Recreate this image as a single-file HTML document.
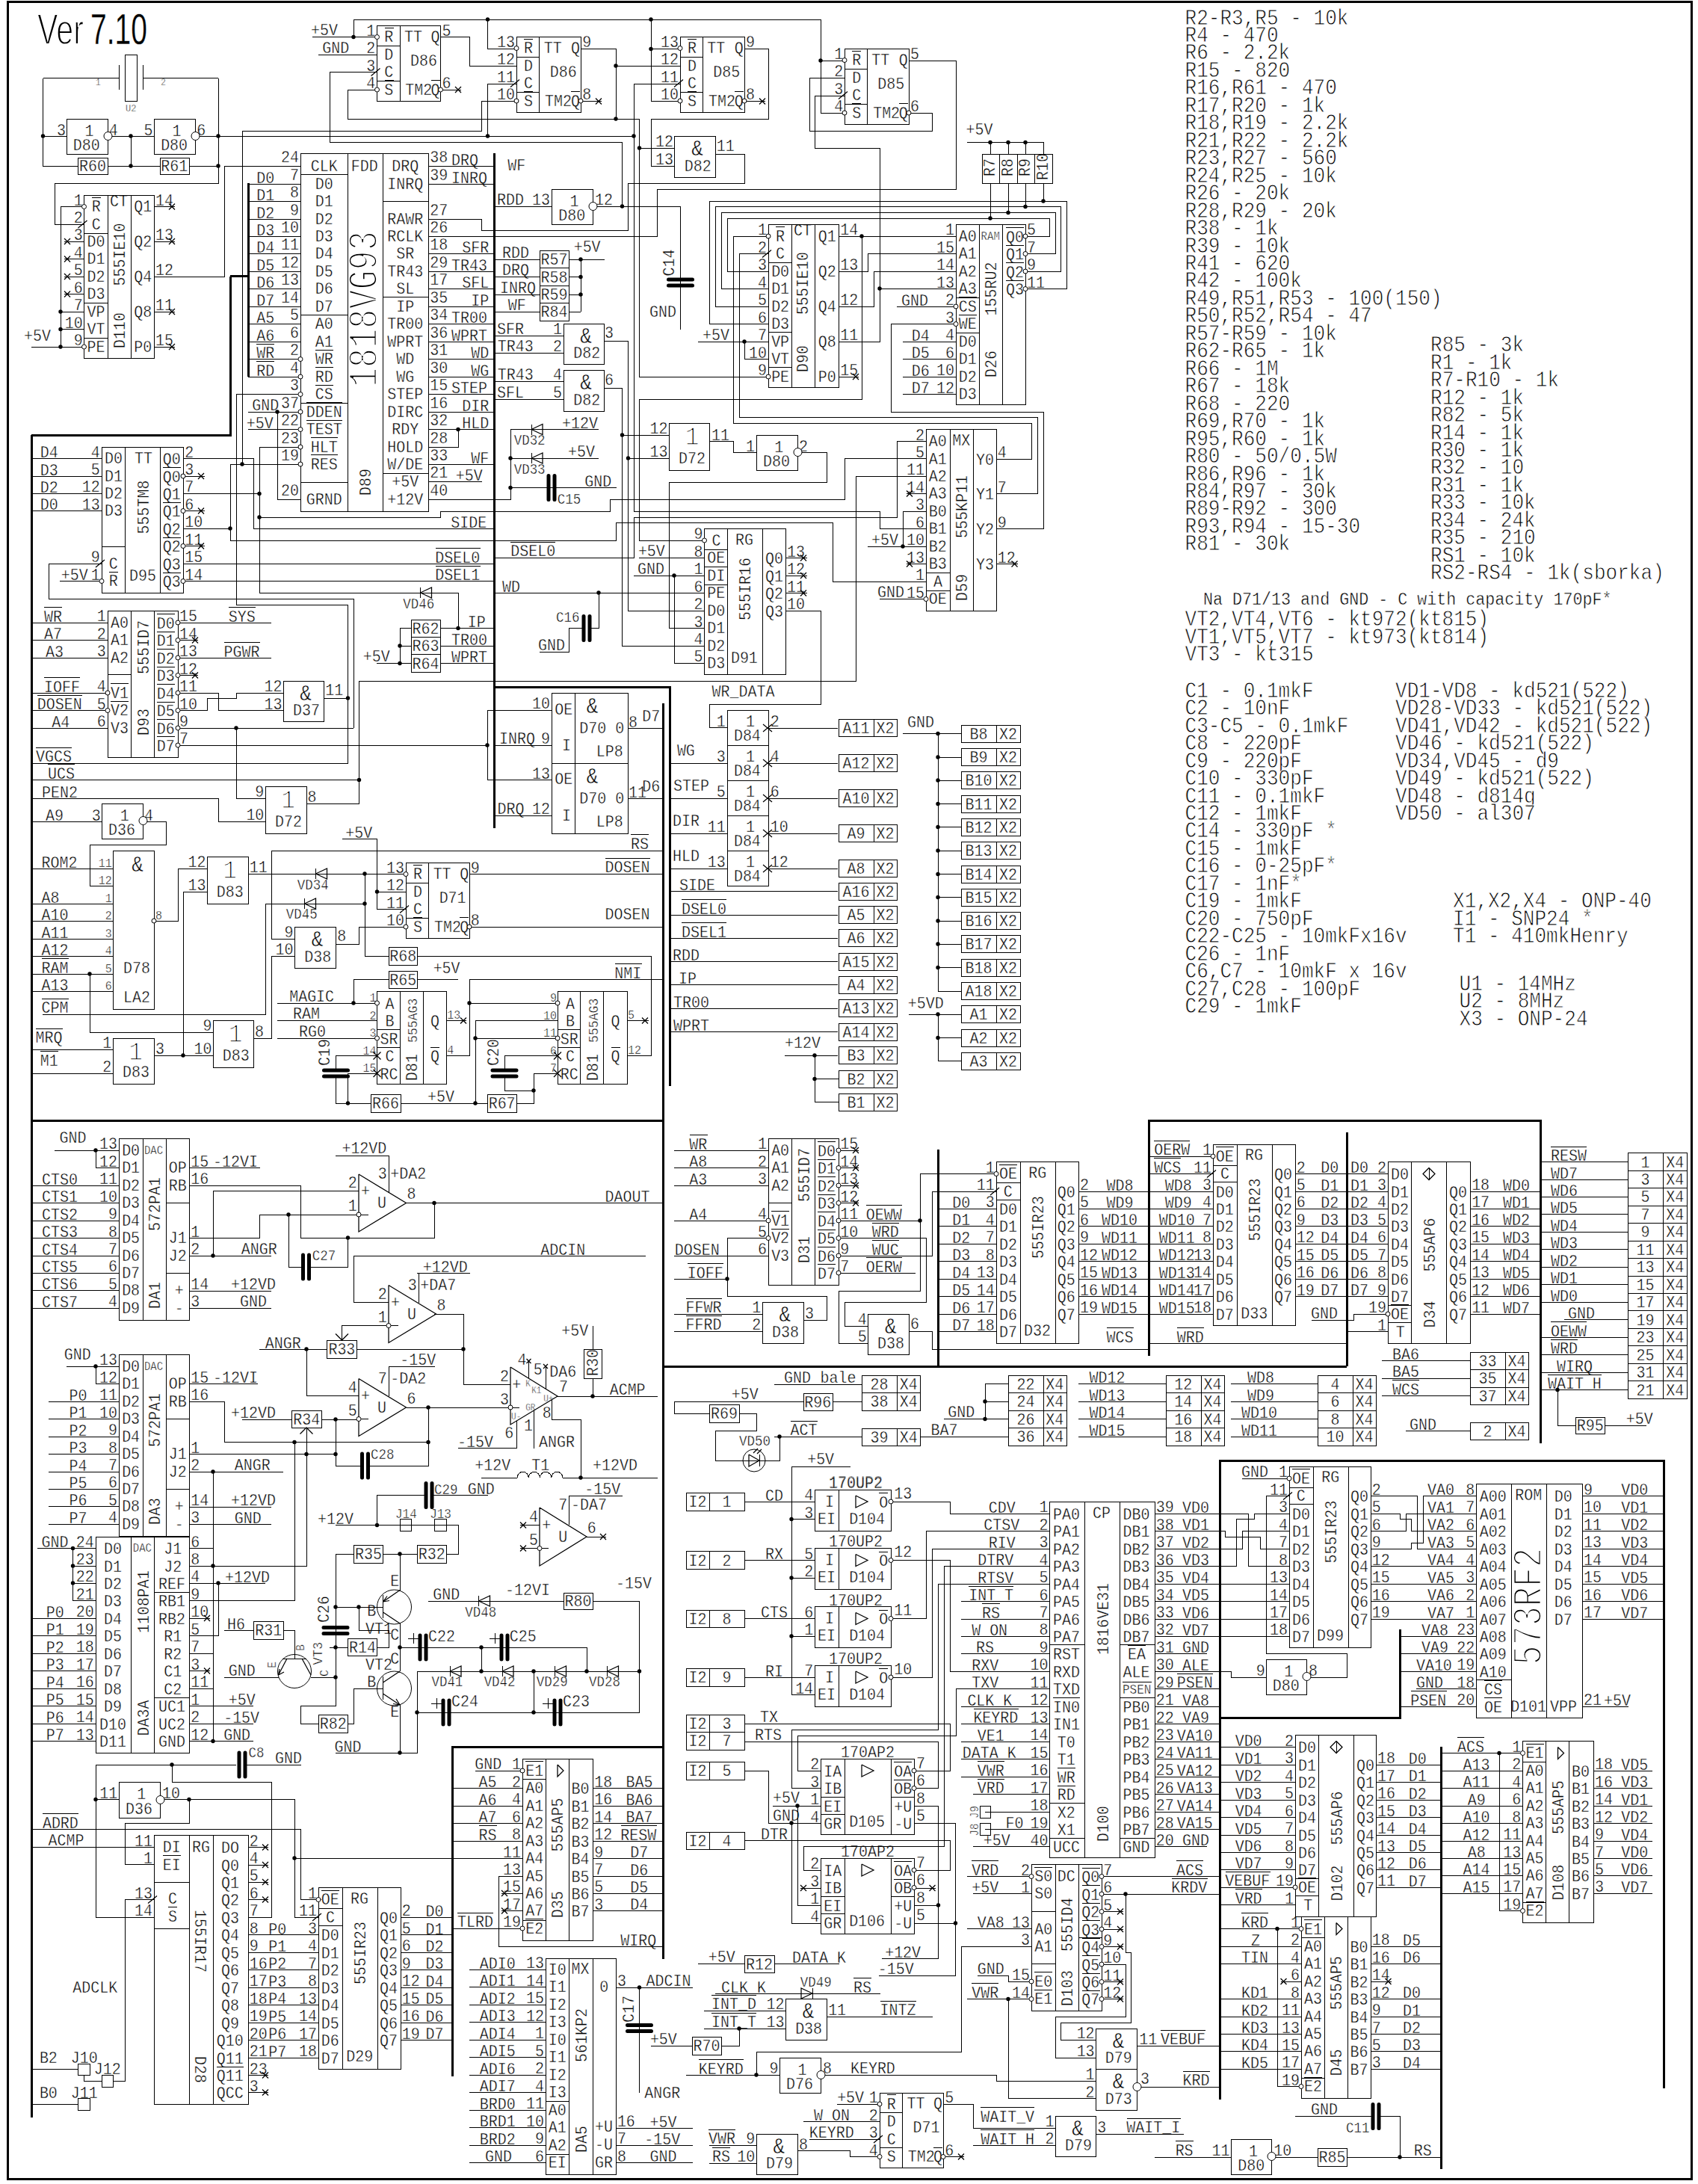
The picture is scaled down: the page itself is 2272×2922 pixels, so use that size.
<!DOCTYPE html><html><head><meta charset="utf-8"><title>Schematic Ver 7.10</title>
<style>html,body{margin:0;padding:0;background:#fff}svg{display:block}svg{font-family:"Liberation Mono",monospace;font-size:22.5px;fill:#000;white-space:pre}.n{fill:none;stroke:#000;stroke-width:1;shape-rendering:crispEdges}.m{fill:none;stroke:#000;stroke-width:2;shape-rendering:crispEdges}.k{fill:none;stroke:#000;stroke-width:3;shape-rendering:crispEdges}.c{fill:none;stroke:#000;stroke-width:5;stroke-linecap:round}.d{fill:none;stroke:#000;stroke-width:1.25}circle{fill:#000}circle.b{fill:#fff;stroke:#000;stroke-width:1}</style></head><body>
<svg xml:space="preserve" width="2272" height="2922" viewBox="0 0 2272 2922">
<rect width="2272" height="2922" fill="#fff"/>
<g transform="scale(0.889,1)" stroke="#fff" stroke-width="0.45">
<text x="144" y="114" font-size="12.375">1</text>
<text x="242" y="114" font-size="12.375">2</text>
<text x="189" y="149" font-size="13.5">U2</text>
<text x="134.5" y="182" text-anchor="middle">1</text>
<text x="110" y="201">D80</text>
<text x="99" y="181" text-anchor="end">3</text>
<text x="164" y="181">4</text>
<text x="266" y="182" text-anchor="middle">1</text>
<text x="242" y="201">D80</text>
<text x="230" y="181" text-anchor="end">5</text>
<text x="296" y="181">6</text>
<text x="139.5" y="229.5" text-anchor="middle">R60</text>
<text x="262.5" y="229.5" text-anchor="middle">R61</text>
<text x="124.5" y="275" text-anchor="end">1</text>
<text x="138" y="283.5">R</text>
<text x="124.5" y="298.5" text-anchor="end">2</text>
<text x="138" y="307">C</text>
<text x="124.5" y="321.5" text-anchor="end">3</text>
<text x="131" y="330">D0</text>
<text x="124.5" y="345" text-anchor="end">4</text>
<text x="131" y="353.5">D1</text>
<text x="124.5" y="368.5" text-anchor="end">5</text>
<text x="131" y="377">D2</text>
<text x="124.5" y="392" text-anchor="end">6</text>
<text x="131" y="400.5">D3</text>
<text x="124.5" y="415.5" text-anchor="end">7</text>
<text x="131" y="424">VP</text>
<text x="124.5" y="439" text-anchor="end">10</text>
<text x="131" y="447.5">VT</text>
<text x="124.5" y="462.5" text-anchor="end">9</text>
<text x="131" y="471">PE</text>
<text x="36" y="456">+5V</text>
<text x="234" y="275">14</text>
<text x="228.5" y="283.5" text-anchor="end">Q1</text>
<text x="234" y="321.5">13</text>
<text x="228.5" y="330" text-anchor="end">Q2</text>
<text x="234" y="368.5">12</text>
<text x="228.5" y="377" text-anchor="end">Q4</text>
<text x="234" y="415.5">11</text>
<text x="228.5" y="424" text-anchor="end">Q8</text>
<text x="234" y="462.5">15</text>
<text x="228.5" y="471" text-anchor="end">P0</text>
<text x="165.5" y="276">CT</text>
<text x="488" y="229.5" text-anchor="middle">CLK</text>
<text x="488" y="253" text-anchor="middle">D0</text>
<text x="488" y="276.5" text-anchor="middle">D1</text>
<text x="488" y="300" text-anchor="middle">D2</text>
<text x="488" y="323" text-anchor="middle">D3</text>
<text x="488" y="346.5" text-anchor="middle">D4</text>
<text x="488" y="370" text-anchor="middle">D5</text>
<text x="488" y="393.5" text-anchor="middle">D6</text>
<text x="488" y="417" text-anchor="middle">D7</text>
<text x="488" y="440.5" text-anchor="middle">A0</text>
<text x="488" y="464" text-anchor="middle">A1</text>
<text x="488" y="487.5" text-anchor="middle">WR</text>
<text x="488" y="511" text-anchor="middle">RD</text>
<text x="488" y="534.5" text-anchor="middle">CS</text>
<text x="488" y="558" text-anchor="middle">DDEN</text>
<text x="488" y="581.5" text-anchor="middle">TEST</text>
<text x="488" y="605" text-anchor="middle">HLT</text>
<text x="488" y="628" text-anchor="middle">RES</text>
<text x="488" y="675" text-anchor="middle">GRND</text>
<text x="610" y="229.5" text-anchor="middle">DRQ</text>
<text x="610" y="253" text-anchor="middle">INRQ</text>
<text x="610" y="300" text-anchor="middle">RAWR</text>
<text x="610" y="323" text-anchor="middle">RCLK</text>
<text x="610" y="346.5" text-anchor="middle">SR</text>
<text x="610" y="370" text-anchor="middle">TR43</text>
<text x="610" y="393.5" text-anchor="middle">SL</text>
<text x="610" y="417" text-anchor="middle">IP</text>
<text x="610" y="440.5" text-anchor="middle">TR00</text>
<text x="610" y="464" text-anchor="middle">WPRT</text>
<text x="610" y="487.5" text-anchor="middle">WD</text>
<text x="610" y="511" text-anchor="middle">WG</text>
<text x="610" y="534.5" text-anchor="middle">STEP</text>
<text x="610" y="558" text-anchor="middle">DIRC</text>
<text x="610" y="581.5" text-anchor="middle">RDY</text>
<text x="610" y="605" text-anchor="middle">HOLD</text>
<text x="610" y="628" text-anchor="middle">W/DE</text>
<text x="610" y="651.5" text-anchor="middle">+5V</text>
<text x="610" y="675" text-anchor="middle">+12V</text>
<text x="528.5" y="229">FDD</text>
<text x="450" y="217.5" text-anchor="end">24</text>
<text x="386" y="245">D0</text>
<text x="386" y="268.5">D1</text>
<text x="386" y="292">D2</text>
<text x="386" y="315">D3</text>
<text x="386" y="338.5">D4</text>
<text x="386" y="362">D5</text>
<text x="386" y="385.5">D6</text>
<text x="386" y="409">D7</text>
<text x="386" y="432.5">A5</text>
<text x="386" y="456">A6</text>
<text x="386" y="479.5">WR</text>
<text x="386" y="503">RD</text>
<text x="450" y="241" text-anchor="end">7</text>
<text x="450" y="264.5" text-anchor="end">8</text>
<text x="450" y="288" text-anchor="end">9</text>
<text x="450" y="311" text-anchor="end">10</text>
<text x="450" y="334.5" text-anchor="end">11</text>
<text x="450" y="358" text-anchor="end">12</text>
<text x="450" y="381.5" text-anchor="end">13</text>
<text x="450" y="405" text-anchor="end">14</text>
<text x="450" y="428.5" text-anchor="end">5</text>
<text x="450" y="452" text-anchor="end">6</text>
<text x="450" y="475.5" text-anchor="end">2</text>
<text x="450" y="499" text-anchor="end">4</text>
<text x="647" y="217.5">38</text>
<text x="679.5" y="221.5">DRQ</text>
<text x="647" y="241">39</text>
<text x="679.5" y="245">INRQ</text>
<text x="647" y="288">27</text>
<text x="647" y="311">26</text>
<text x="647" y="334.5">18</text>
<text x="736" y="338.5" text-anchor="end">SFR</text>
<text x="647" y="358">29</text>
<text x="679.5" y="362">TR43</text>
<text x="647" y="381.5">17</text>
<text x="736" y="385.5" text-anchor="end">SFL</text>
<text x="647" y="405">35</text>
<text x="736" y="409" text-anchor="end">IP</text>
<text x="647" y="428.5">34</text>
<text x="679.5" y="432.5">TR00</text>
<text x="647" y="452">36</text>
<text x="679.5" y="456">WPRT</text>
<text x="647" y="475.5">31</text>
<text x="736" y="479.5" text-anchor="end">WD</text>
<text x="647" y="499">30</text>
<text x="736" y="503" text-anchor="end">WG</text>
<text x="647" y="522.5">15</text>
<text x="679.5" y="526.5">STEP</text>
<text x="647" y="546">16</text>
<text x="736" y="550" text-anchor="end">DIR</text>
<text x="647" y="569.5">32</text>
<text x="736" y="573.5" text-anchor="end">HLD</text>
<text x="647" y="593">28</text>
<text x="647" y="616">33</text>
<text x="736" y="620" text-anchor="end">WF</text>
<text x="647" y="639.5">21</text>
<text x="647" y="663">40</text>
<text x="565" y="48" text-anchor="end">1</text>
<text x="578.5" y="56.5">R</text>
<text x="565" y="71.5" text-anchor="end">2</text>
<text x="578.5" y="80">D</text>
<text x="565" y="95" text-anchor="end">3</text>
<text x="578.5" y="103.5">C</text>
<text x="565" y="118.5" text-anchor="end">4</text>
<text x="578.5" y="127">S</text>
<text x="608.5" y="56">TT</text>
<text x="648.5" y="56">Q</text>
<text x="617.5" y="88">D86</text>
<text x="610" y="127">TM2</text>
<text x="648.5" y="127">Q</text>
<text x="665.5" y="48">5</text>
<text x="665.5" y="118.5">6</text>
<text x="468" y="47.5">+5V</text>
<text x="485" y="71">GND</text>
<text x="775" y="63" text-anchor="end">13</text>
<text x="788.5" y="71.5">R</text>
<text x="775" y="86.5" text-anchor="end">12</text>
<text x="788.5" y="95">D</text>
<text x="775" y="110" text-anchor="end">11</text>
<text x="788.5" y="118.5">C</text>
<text x="775" y="133.5" text-anchor="end">10</text>
<text x="788.5" y="142">S</text>
<text x="818.5" y="71">TT</text>
<text x="859.5" y="71">Q</text>
<text x="827.5" y="103">D86</text>
<text x="820" y="142">TM2</text>
<text x="859.5" y="142">Q</text>
<text x="876.5" y="63">9</text>
<text x="876.5" y="133.5">8</text>
<text x="764" y="228">WF</text>
<text x="748" y="274.5">RDD</text>
<text x="828" y="274.5" text-anchor="end">13</text>
<text x="864.5" y="276" text-anchor="middle">1</text>
<text x="840.5" y="295">D80</text>
<text x="895.5" y="274.5">12</text>
<text x="756" y="345">RDD</text>
<text x="834" y="354.5" text-anchor="middle">R57</text>
<text x="756" y="368.5">DRQ</text>
<text x="834" y="378" text-anchor="middle">R58</text>
<text x="752.5" y="392">INRQ</text>
<text x="834" y="401.5" text-anchor="middle">R59</text>
<text x="764.5" y="415">WF</text>
<text x="834" y="424.5" text-anchor="middle">R84</text>
<text x="863.5" y="337.5">+5V</text>
<text x="882" y="459" text-anchor="middle" font-size="29.25">&amp;</text>
<text x="863" y="479.5">D82</text>
<text x="748" y="447">SFR</text>
<text x="846" y="447" text-anchor="end">1</text>
<text x="749" y="470">TR43</text>
<text x="846" y="470" text-anchor="end">2</text>
<text x="910" y="452">3</text>
<text x="1021.5" y="63" text-anchor="end">13</text>
<text x="1035" y="71.5">R</text>
<text x="1021.5" y="86.5" text-anchor="end">12</text>
<text x="1035" y="95">D</text>
<text x="1021.5" y="110" text-anchor="end">11</text>
<text x="1035" y="118.5">C</text>
<text x="1021.5" y="133.5" text-anchor="end">10</text>
<text x="1035" y="142">S</text>
<text x="1064.5" y="71">TT</text>
<text x="1105.5" y="71">Q</text>
<text x="1073.5" y="103">D85</text>
<text x="1066.5" y="142">TM2</text>
<text x="1105.5" y="142">Q</text>
<text x="1122.5" y="63">9</text>
<text x="1122.5" y="133.5">8</text>
<text x="1049.5" y="208" text-anchor="middle" font-size="29.25">&amp;</text>
<text x="1030" y="229">D82</text>
<text x="1013.5" y="196" text-anchor="end">12</text>
<text x="1013.5" y="220" text-anchor="end">13</text>
<text x="1078.5" y="202">11</text>
<text x="977.5" y="424">GND</text>
<text x="1154" y="314.5" text-anchor="end">1</text>
<text x="1167.5" y="323">R</text>
<text x="1154" y="338" text-anchor="end">2</text>
<text x="1167.5" y="346.5">C</text>
<text x="1154" y="361.5" text-anchor="end">3</text>
<text x="1161" y="370">D0</text>
<text x="1154" y="385" text-anchor="end">4</text>
<text x="1161" y="393.5">D1</text>
<text x="1154" y="408.5" text-anchor="end">5</text>
<text x="1161" y="417">D2</text>
<text x="1154" y="432" text-anchor="end">6</text>
<text x="1161" y="440.5">D3</text>
<text x="1154" y="455.5" text-anchor="end">7</text>
<text x="1161" y="464">VP</text>
<text x="1154" y="479" text-anchor="end">10</text>
<text x="1161" y="487.5">VT</text>
<text x="1154" y="502.5" text-anchor="end">9</text>
<text x="1161" y="511">PE</text>
<text x="1057.5" y="455">+5V</text>
<text x="1264.5" y="314.5">14</text>
<text x="1258.5" y="323" text-anchor="end">Q1</text>
<text x="1264.5" y="361.5">13</text>
<text x="1258.5" y="370" text-anchor="end">Q2</text>
<text x="1264.5" y="408.5">12</text>
<text x="1258.5" y="417" text-anchor="end">Q4</text>
<text x="1264.5" y="455.5">11</text>
<text x="1258.5" y="464" text-anchor="end">Q8</text>
<text x="1264.5" y="502.5">15</text>
<text x="1258.5" y="511" text-anchor="end">P0</text>
<text x="1194.5" y="315">CT</text>
<text x="1269" y="79" text-anchor="end">1</text>
<text x="1282.5" y="87.5">R</text>
<text x="1269" y="102.5" text-anchor="end">2</text>
<text x="1282.5" y="111">D</text>
<text x="1269" y="126" text-anchor="end">3</text>
<text x="1282.5" y="134.5">C</text>
<text x="1269" y="149.5" text-anchor="end">4</text>
<text x="1282.5" y="158">S</text>
<text x="1312" y="87">TT</text>
<text x="1353" y="87">Q</text>
<text x="1321" y="119">D85</text>
<text x="1314" y="158">TM2</text>
<text x="1353" y="158">Q</text>
<text x="1370" y="79">5</text>
<text x="1370" y="149.5">6</text>
<text x="1454" y="180.5">+5V</text>
<text x="1436.5" y="314.5" text-anchor="end">1</text>
<text x="1443" y="323">A0</text>
<text x="1436.5" y="338" text-anchor="end">15</text>
<text x="1443" y="346.5">A1</text>
<text x="1436.5" y="361.5" text-anchor="end">14</text>
<text x="1443" y="370">A2</text>
<text x="1436.5" y="385" text-anchor="end">13</text>
<text x="1443" y="393.5">A3</text>
<text x="1436.5" y="408.5" text-anchor="end">2</text>
<text x="1443" y="417">CS</text>
<text x="1356.5" y="409">GND</text>
<text x="1436.5" y="432" text-anchor="end">3</text>
<text x="1443" y="440.5">WE</text>
<text x="1436.5" y="455.5" text-anchor="end">4</text>
<text x="1443" y="464">D0</text>
<text x="1372" y="456">D4</text>
<text x="1436.5" y="479" text-anchor="end">6</text>
<text x="1443" y="487.5">D1</text>
<text x="1372" y="479.5">D5</text>
<text x="1436.5" y="502.5" text-anchor="end">10</text>
<text x="1443" y="511">D2</text>
<text x="1372" y="503">D6</text>
<text x="1436.5" y="526" text-anchor="end">12</text>
<text x="1443" y="534.5">D3</text>
<text x="1372" y="526.5">D7</text>
<text x="1545.5" y="314.5">5</text>
<text x="1514" y="324">Q0</text>
<text x="1545.5" y="338">7</text>
<text x="1514" y="347.5">Q1</text>
<text x="1545.5" y="361.5">9</text>
<text x="1514" y="371">Q2</text>
<text x="1545.5" y="385">11</text>
<text x="1514" y="394.5">Q3</text>
<text x="1476.5" y="321" font-size="15.75">RAM</text>
<text x="379.5" y="549.5">GND</text>
<text x="371" y="573">+5V</text>
<text x="150.5" y="612" text-anchor="end">4</text>
<text x="157.5" y="620.5">D0</text>
<text x="60.5" y="612.5">D4</text>
<text x="150.5" y="635.5" text-anchor="end">5</text>
<text x="157.5" y="644">D1</text>
<text x="60.5" y="636">D3</text>
<text x="150.5" y="658.5" text-anchor="end">12</text>
<text x="157.5" y="667">D2</text>
<text x="60.5" y="659">D2</text>
<text x="150.5" y="682" text-anchor="end">13</text>
<text x="157.5" y="690.5">D3</text>
<text x="60.5" y="682.5">D0</text>
<text x="150.5" y="752.5" text-anchor="end">9</text>
<text x="164" y="761">C</text>
<text x="150.5" y="776" text-anchor="end">1</text>
<text x="164" y="784.5">R</text>
<text x="92" y="776.5">+5V</text>
<text x="278" y="612">2</text>
<text x="245" y="621.5">Q0</text>
<text x="278" y="635.5">3</text>
<text x="245" y="645">Q0</text>
<text x="278" y="658.5">7</text>
<text x="245" y="668">Q1</text>
<text x="278" y="682">6</text>
<text x="245" y="691.5">Q1</text>
<text x="278" y="705.5">10</text>
<text x="245" y="715">Q2</text>
<text x="278" y="729">11</text>
<text x="245" y="738.5">Q2</text>
<text x="278" y="752.5">15</text>
<text x="245" y="762">Q3</text>
<text x="278" y="776">14</text>
<text x="245" y="785.5">Q3</text>
<text x="202.5" y="620">TT</text>
<text x="194.5" y="777">D95</text>
<text x="159.5" y="831.5" text-anchor="end">1</text>
<text x="166.5" y="840">A0</text>
<text x="66.5" y="832">WR</text>
<text x="159.5" y="855" text-anchor="end">2</text>
<text x="166.5" y="863.5">A1</text>
<text x="66.5" y="855.5">A7</text>
<text x="159.5" y="878.5" text-anchor="end">3</text>
<text x="166.5" y="887">A2</text>
<text x="68.5" y="879">A3</text>
<text x="159.5" y="925.5" text-anchor="end">4</text>
<text x="166.5" y="934">V1</text>
<text x="66.5" y="926">IOFF</text>
<text x="159.5" y="949" text-anchor="end">5</text>
<text x="166.5" y="957.5">V2</text>
<text x="56" y="949.5">DOSEN</text>
<text x="159.5" y="972.5" text-anchor="end">6</text>
<text x="166.5" y="981">V3</text>
<text x="78" y="973">A4</text>
<text x="270" y="831.5">15</text>
<text x="236" y="841">D0</text>
<text x="270" y="855">14</text>
<text x="236" y="864.5">D1</text>
<text x="270" y="878.5">13</text>
<text x="236" y="888">D2</text>
<text x="270" y="902">12</text>
<text x="236" y="911.5">D3</text>
<text x="270" y="925.5">11</text>
<text x="236" y="935">D4</text>
<text x="270" y="949">10</text>
<text x="236" y="958.5">D5</text>
<text x="270" y="972.5">9</text>
<text x="236" y="982">D6</text>
<text x="270" y="995.5">7</text>
<text x="236" y="1005">D7</text>
<text x="344" y="832">SYS</text>
<text x="337" y="879">PGWR</text>
<text x="54" y="1019.5">VGCS</text>
<text x="72" y="1042">UCS</text>
<text x="450" y="522.5" text-anchor="end">3</text>
<text x="450" y="546" text-anchor="end">37</text>
<text x="450" y="569.5" text-anchor="end">22</text>
<text x="450" y="593" text-anchor="end">23</text>
<text x="450" y="616" text-anchor="end">19</text>
<text x="450" y="663" text-anchor="end">20</text>
<text x="846" y="573">+12V</text>
<text x="773.5" y="595" font-size="19.6875">VD32</text>
<text x="855" y="611">+5V</text>
<text x="773.5" y="634" font-size="19.6875">VD33</text>
<text x="839" y="674.5" font-size="19.6875">C15</text>
<text x="880" y="651">GND</text>
<text x="678.5" y="706">SIDE</text>
<text x="655" y="753">DSEL0</text>
<text x="655" y="776.5">DSEL1</text>
<text x="768.5" y="744.5">DSEL0</text>
<text x="606.5" y="814" font-size="19.6875">VD46</text>
<text x="756" y="792">WD</text>
<text x="810" y="870">GND</text>
<text x="837" y="832" font-size="19.6875">C16</text>
<text x="640.5" y="848" text-anchor="middle">R62</text>
<text x="704" y="839.5">IP</text>
<text x="640.5" y="871.5" text-anchor="middle">R63</text>
<text x="679.5" y="863">TR00</text>
<text x="640.5" y="895" text-anchor="middle">R64</text>
<text x="679.5" y="886.5">WPRT</text>
<text x="546.5" y="885">+5V</text>
<text x="460" y="937" text-anchor="middle" font-size="29.25">&amp;</text>
<text x="441" y="957.5">D37</text>
<text x="424.5" y="925.5" text-anchor="end">12</text>
<text x="424.5" y="949" text-anchor="end">13</text>
<text x="489.5" y="930">11</text>
<text x="751.5" y="995.5">INRQ</text>
<text x="828" y="995.5" text-anchor="end">9</text>
<text x="828" y="948.5" text-anchor="end">10</text>
<text x="828" y="1042" text-anchor="end">13</text>
<text x="686" y="643.5">+5V</text>
<text x="882" y="521.5" text-anchor="middle" font-size="29.25">&amp;</text>
<text x="863" y="542">D82</text>
<text x="749" y="508.5">TR43</text>
<text x="846" y="508.5" text-anchor="end">4</text>
<text x="748" y="532">SFL</text>
<text x="846" y="532" text-anchor="end">5</text>
<text x="910" y="515">6</text>
<text x="1021.5" y="620.5">D72</text>
<text x="1005" y="580.5" text-anchor="end">12</text>
<text x="1005" y="611.5" text-anchor="end">13</text>
<text x="1071" y="589">11</text>
<text x="1172.5" y="605" text-anchor="middle">1</text>
<text x="1148.5" y="624">D80</text>
<text x="1136" y="604" text-anchor="end">1</text>
<text x="1202.5" y="604">2</text>
<text x="1058" y="721.5" text-anchor="end">9</text>
<text x="1071.5" y="730">C</text>
<text x="1058" y="745" text-anchor="end">8</text>
<text x="1064.5" y="753.5">OE</text>
<text x="1058" y="768.5" text-anchor="end">1</text>
<text x="1064.5" y="777">DI</text>
<text x="1058" y="792" text-anchor="end">6</text>
<text x="1064.5" y="800.5">PE</text>
<text x="1058" y="815.5" text-anchor="end">2</text>
<text x="1064.5" y="824">D0</text>
<text x="1058" y="839" text-anchor="end">3</text>
<text x="1064.5" y="847.5">D1</text>
<text x="1058" y="862.5" text-anchor="end">4</text>
<text x="1064.5" y="871">D2</text>
<text x="1058" y="885.5" text-anchor="end">5</text>
<text x="1064.5" y="894">D3</text>
<text x="1184.5" y="745">13</text>
<text x="1152" y="754.5">Q0</text>
<text x="1184.5" y="768.5">12</text>
<text x="1152" y="778">Q1</text>
<text x="1184.5" y="792">11</text>
<text x="1152" y="801.5">Q2</text>
<text x="1184.5" y="815.5">10</text>
<text x="1152" y="825">Q3</text>
<text x="1107" y="729.5">RG</text>
<text x="1100" y="887">D91</text>
<text x="960.5" y="744">+5V</text>
<text x="959.5" y="768">GND</text>
<text x="1071.5" y="932.5">WR_DATA</text>
<text x="1311.5" y="729">+5V</text>
<text x="1391.5" y="589" text-anchor="end">2</text>
<text x="1398" y="597.5">A0</text>
<text x="1391.5" y="612.5" text-anchor="end">5</text>
<text x="1398" y="621">A1</text>
<text x="1391.5" y="635.5" text-anchor="end">11</text>
<text x="1398" y="644">A2</text>
<text x="1391.5" y="659" text-anchor="end">14</text>
<text x="1398" y="667.5">A3</text>
<text x="1391.5" y="682.5" text-anchor="end">3</text>
<text x="1398" y="691">B0</text>
<text x="1391.5" y="706" text-anchor="end">6</text>
<text x="1398" y="714.5">B1</text>
<text x="1391.5" y="729.5" text-anchor="end">10</text>
<text x="1398" y="738">B2</text>
<text x="1391.5" y="753" text-anchor="end">13</text>
<text x="1398" y="761.5">B3</text>
<text x="1391.5" y="776.5" text-anchor="end">1</text>
<text x="1405" y="785">A</text>
<text x="1391.5" y="800" text-anchor="end">15</text>
<text x="1398" y="808.5">OE</text>
<text x="1501.5" y="612.5">4</text>
<text x="1469" y="622">Y0</text>
<text x="1501.5" y="659">7</text>
<text x="1469" y="668.5">Y1</text>
<text x="1501.5" y="706">9</text>
<text x="1469" y="715.5">Y2</text>
<text x="1501.5" y="753">12</text>
<text x="1469" y="762.5">Y3</text>
<text x="1433.5" y="596">MX</text>
<text x="1320.5" y="799.5">GND</text>
<text x="63" y="1067">PEN2</text>
<text x="414" y="1106">D72</text>
<text x="397.5" y="1066.5" text-anchor="end">9</text>
<text x="397.5" y="1097.5" text-anchor="end">10</text>
<text x="463" y="1073.5">8</text>
<text x="68.5" y="1098">A9</text>
<text x="187.5" y="1098" text-anchor="middle">1</text>
<text x="163" y="1117">D36</text>
<text x="151.5" y="1098" text-anchor="end">3</text>
<text x="217" y="1098">4</text>
<text x="207" y="1166" text-anchor="middle" font-size="29.25">&amp;</text>
<text x="185.5" y="1302">D78</text>
<text x="185.5" y="1341">LA2</text>
<text x="168.5" y="1160.5" text-anchor="end" font-size="16.875">11</text>
<text x="62.5" y="1161">ROM2</text>
<text x="168.5" y="1183.5" text-anchor="end" font-size="16.875">12</text>
<text x="168.5" y="1207.5" text-anchor="end" font-size="16.875">1</text>
<text x="62.5" y="1208">A8</text>
<text x="168.5" y="1230.5" text-anchor="end" font-size="16.875">2</text>
<text x="62.5" y="1231">A10</text>
<text x="168.5" y="1254.5" text-anchor="end" font-size="16.875">3</text>
<text x="62.5" y="1255">A11</text>
<text x="168.5" y="1277.5" text-anchor="end" font-size="16.875">4</text>
<text x="62.5" y="1278">A12</text>
<text x="168.5" y="1301.5" text-anchor="end" font-size="16.875">5</text>
<text x="62.5" y="1302">RAM</text>
<text x="168.5" y="1324.5" text-anchor="end" font-size="16.875">6</text>
<text x="62.5" y="1325">A13</text>
<text x="234" y="1230" font-size="16.875">8</text>
<text x="62.5" y="1355.5">CPM</text>
<text x="326" y="1200">D83</text>
<text x="310" y="1160.5" text-anchor="end">12</text>
<text x="310" y="1191.5" text-anchor="end">13</text>
<text x="375.5" y="1167.5">11</text>
<text x="184.5" y="1441.5">D83</text>
<text x="168" y="1402.5" text-anchor="end">1</text>
<text x="168" y="1434.5" text-anchor="end">2</text>
<text x="234" y="1410.5">3</text>
<text x="53.5" y="1395.5">MRQ</text>
<text x="60.5" y="1426">M1</text>
<text x="335" y="1419">D83</text>
<text x="319" y="1379.5" text-anchor="end">9</text>
<text x="319" y="1410.5" text-anchor="end">10</text>
<text x="383.5" y="1387.5">8</text>
<text x="441.5" y="1254.5" text-anchor="end">9</text>
<text x="441.5" y="1277.5" text-anchor="end">10</text>
<text x="430.5" y="1229" font-size="19.6875">VD45</text>
<text x="748.5" y="1089.5">DRQ</text>
<text x="828" y="1089.5" text-anchor="end">12</text>
<text x="520" y="1121">+5V</text>
<text x="608.5" y="1168" text-anchor="end">13</text>
<text x="622" y="1176.5">R</text>
<text x="608.5" y="1191.5" text-anchor="end">12</text>
<text x="622" y="1200">D</text>
<text x="608.5" y="1215" text-anchor="end">11</text>
<text x="622" y="1223.5">C</text>
<text x="608.5" y="1238.5" text-anchor="end">10</text>
<text x="622" y="1247">S</text>
<text x="652" y="1176">TT</text>
<text x="692" y="1176">Q</text>
<text x="661" y="1208">D71</text>
<text x="653.5" y="1247">TM2</text>
<text x="692" y="1247">Q</text>
<text x="708.5" y="1168">9</text>
<text x="708.5" y="1238.5">8</text>
<text x="447.5" y="1190" font-size="19.6875">VD34</text>
<text x="477.5" y="1266" text-anchor="middle" font-size="29.25">&amp;</text>
<text x="458" y="1287">D38</text>
<text x="507.5" y="1259">8</text>
<text x="606.5" y="1286.5" text-anchor="middle">R68</text>
<text x="606.5" y="1318" text-anchor="middle">R65</text>
<text x="652" y="1302.5">+5V</text>
<text x="435.5" y="1340.5">MAGIC</text>
<text x="441" y="1363.5">RAM</text>
<text x="450" y="1387.5">RG0</text>
<text x="566.5" y="1340.5" text-anchor="end" font-size="16.875">1</text>
<text x="580" y="1350">A</text>
<text x="566.5" y="1364" text-anchor="end" font-size="16.875">2</text>
<text x="580" y="1373.5">B</text>
<text x="566.5" y="1387.5" text-anchor="end" font-size="16.875">3</text>
<text x="572" y="1397">SR</text>
<text x="566.5" y="1411" text-anchor="end" font-size="16.875">14</text>
<text x="580" y="1420.5">C</text>
<text x="566.5" y="1434.5" text-anchor="end" font-size="16.875">15</text>
<text x="572" y="1444">RC</text>
<text x="648" y="1373.5">Q</text>
<text x="648" y="1420.5">Q</text>
<text x="673" y="1363.5" font-size="16.875">13</text>
<text x="673" y="1410.5" font-size="16.875">4</text>
<text x="580.5" y="1483.5" text-anchor="middle">R66</text>
<text x="643.5" y="1474">+5V</text>
<text x="755.5" y="1483.5" text-anchor="middle">R67</text>
<text x="838" y="1340.5" text-anchor="end" font-size="16.875">9</text>
<text x="851.5" y="1350">A</text>
<text x="838" y="1364" text-anchor="end" font-size="16.875">10</text>
<text x="851.5" y="1373.5">B</text>
<text x="838" y="1387.5" text-anchor="end" font-size="16.875">11</text>
<text x="843.5" y="1397">SR</text>
<text x="838" y="1411" text-anchor="end" font-size="16.875">6</text>
<text x="851.5" y="1420.5">C</text>
<text x="838" y="1434.5" text-anchor="end" font-size="16.875">7</text>
<text x="843.5" y="1444">RC</text>
<text x="919.5" y="1373.5">Q</text>
<text x="919.5" y="1420.5">Q</text>
<text x="945" y="1363.5" font-size="16.875">5</text>
<text x="945" y="1410.5" font-size="16.875">12</text>
<text x="514.5" y="1543">+12VD</text>
<text x="835" y="956">OE</text>
<text x="846" y="1004">I</text>
<text x="891.5" y="954" text-anchor="middle" font-size="29.25">&amp;</text>
<text x="872" y="981">D70 0</text>
<text x="897.5" y="1012.5">LP8</text>
<text x="946" y="973">8</text>
<text x="966.5" y="965">D7</text>
<text x="835" y="1049.5">OE</text>
<text x="846" y="1098">I</text>
<text x="891.5" y="1048" text-anchor="middle" font-size="29.25">&amp;</text>
<text x="872" y="1075">D70 0</text>
<text x="897.5" y="1106.5">LP8</text>
<text x="946" y="1067">11</text>
<text x="966.5" y="1059">D6</text>
<text x="949.5" y="1136">RS</text>
<text x="910.5" y="1167.5">DOSEN</text>
<text x="910.5" y="1230.5">DOSEN</text>
<text x="925" y="1309">NMI</text>
<text x="1129.5" y="972.5" text-anchor="middle">1</text>
<text x="1104.5" y="991.5">D84</text>
<text x="1092" y="972.5" text-anchor="end">1</text>
<text x="1159.5" y="972.5">2</text>
<text x="1019" y="1011">WG</text>
<text x="1129.5" y="1019.5" text-anchor="middle">1</text>
<text x="1104.5" y="1038.5">D84</text>
<text x="1092" y="1019.5" text-anchor="end">3</text>
<text x="1159.5" y="1019.5">4</text>
<text x="1013.5" y="1058">STEP</text>
<text x="1129.5" y="1066.5" text-anchor="middle">1</text>
<text x="1104.5" y="1085.5">D84</text>
<text x="1092" y="1066.5" text-anchor="end">5</text>
<text x="1159.5" y="1066.5">6</text>
<text x="1012.5" y="1105">DIR</text>
<text x="1129.5" y="1113.5" text-anchor="middle">1</text>
<text x="1104.5" y="1132.5">D84</text>
<text x="1092" y="1113.5" text-anchor="end">11</text>
<text x="1159.5" y="1113.5">10</text>
<text x="1012.5" y="1152">HLD</text>
<text x="1129.5" y="1160.5" text-anchor="middle">1</text>
<text x="1104.5" y="1179.5">D84</text>
<text x="1092" y="1160.5" text-anchor="end">13</text>
<text x="1159.5" y="1160.5">12</text>
<text x="1022.5" y="1191.5">SIDE</text>
<text x="1026" y="1223">DSEL0</text>
<text x="1026" y="1254">DSEL1</text>
<text x="1012.5" y="1285.5">RDD</text>
<text x="1021.5" y="1316.5">IP</text>
<text x="1013.5" y="1348">TR00</text>
<text x="1013.5" y="1379.5">WPRT</text>
<text x="1181" y="1402.5">+12V</text>
<text x="1288.5" y="981.5" text-anchor="middle">A11</text>
<text x="1332.5" y="981.5" text-anchor="middle">X2</text>
<text x="1288.5" y="1028.5" text-anchor="middle">A12</text>
<text x="1332.5" y="1028.5" text-anchor="middle">X2</text>
<text x="1288.5" y="1075.5" text-anchor="middle">A10</text>
<text x="1332.5" y="1075.5" text-anchor="middle">X2</text>
<text x="1288.5" y="1122.5" text-anchor="middle">A9</text>
<text x="1332.5" y="1122.5" text-anchor="middle">X2</text>
<text x="1288.5" y="1169.5" text-anchor="middle">A8</text>
<text x="1332.5" y="1169.5" text-anchor="middle">X2</text>
<text x="1288.5" y="1200" text-anchor="middle">A16</text>
<text x="1332.5" y="1200" text-anchor="middle">X2</text>
<text x="1288.5" y="1231.5" text-anchor="middle">A5</text>
<text x="1332.5" y="1231.5" text-anchor="middle">X2</text>
<text x="1288.5" y="1262.5" text-anchor="middle">A6</text>
<text x="1332.5" y="1262.5" text-anchor="middle">X2</text>
<text x="1288.5" y="1294" text-anchor="middle">A15</text>
<text x="1332.5" y="1294" text-anchor="middle">X2</text>
<text x="1288.5" y="1325" text-anchor="middle">A4</text>
<text x="1332.5" y="1325" text-anchor="middle">X2</text>
<text x="1288.5" y="1356.5" text-anchor="middle">A13</text>
<text x="1332.5" y="1356.5" text-anchor="middle">X2</text>
<text x="1288.5" y="1388" text-anchor="middle">A14</text>
<text x="1332.5" y="1388" text-anchor="middle">X2</text>
<text x="1288.5" y="1419.5" text-anchor="middle">B3</text>
<text x="1332.5" y="1419.5" text-anchor="middle">X2</text>
<text x="1288.5" y="1451" text-anchor="middle">B2</text>
<text x="1332.5" y="1451" text-anchor="middle">X2</text>
<text x="1288.5" y="1482" text-anchor="middle">B1</text>
<text x="1332.5" y="1482" text-anchor="middle">X2</text>
<text x="1473" y="989" text-anchor="middle">B8</text>
<text x="1517.5" y="989" text-anchor="middle">X2</text>
<text x="1473" y="1020.5" text-anchor="middle">B9</text>
<text x="1517.5" y="1020.5" text-anchor="middle">X2</text>
<text x="1473" y="1051.5" text-anchor="middle">B10</text>
<text x="1517.5" y="1051.5" text-anchor="middle">X2</text>
<text x="1473" y="1083" text-anchor="middle">B11</text>
<text x="1517.5" y="1083" text-anchor="middle">X2</text>
<text x="1473" y="1114" text-anchor="middle">B12</text>
<text x="1517.5" y="1114" text-anchor="middle">X2</text>
<text x="1473" y="1145.5" text-anchor="middle">B13</text>
<text x="1517.5" y="1145.5" text-anchor="middle">X2</text>
<text x="1473" y="1177" text-anchor="middle">B14</text>
<text x="1517.5" y="1177" text-anchor="middle">X2</text>
<text x="1473" y="1208" text-anchor="middle">B15</text>
<text x="1517.5" y="1208" text-anchor="middle">X2</text>
<text x="1473" y="1239.5" text-anchor="middle">B16</text>
<text x="1517.5" y="1239.5" text-anchor="middle">X2</text>
<text x="1473" y="1270.5" text-anchor="middle">B17</text>
<text x="1517.5" y="1270.5" text-anchor="middle">X2</text>
<text x="1473" y="1302" text-anchor="middle">B18</text>
<text x="1517.5" y="1302" text-anchor="middle">X2</text>
<text x="1473" y="1333.5" text-anchor="middle">A18</text>
<text x="1517.5" y="1333.5" text-anchor="middle">X2</text>
<text x="1473" y="1364.5" text-anchor="middle">A1</text>
<text x="1517.5" y="1364.5" text-anchor="middle">X2</text>
<text x="1473" y="1396" text-anchor="middle">A2</text>
<text x="1517.5" y="1396" text-anchor="middle">X2</text>
<text x="1473" y="1427" text-anchor="middle">A3</text>
<text x="1517.5" y="1427" text-anchor="middle">X2</text>
<text x="1365.5" y="973">GND</text>
<text x="1366.5" y="1349">+5VD</text>
<text x="176.5" y="1537.5" text-anchor="end">13</text>
<text x="183.5" y="1546">D0</text>
<text x="176.5" y="1561" text-anchor="end">12</text>
<text x="183.5" y="1569.5">D1</text>
<text x="176.5" y="1584.5" text-anchor="end">11</text>
<text x="183.5" y="1593">D2</text>
<text x="63" y="1585">CTS0</text>
<text x="176.5" y="1608" text-anchor="end">10</text>
<text x="183.5" y="1616.5">D3</text>
<text x="63" y="1608.5">CTS1</text>
<text x="176.5" y="1631.5" text-anchor="end">9</text>
<text x="183.5" y="1640">D4</text>
<text x="63" y="1632">CTS2</text>
<text x="176.5" y="1655" text-anchor="end">8</text>
<text x="183.5" y="1663.5">D5</text>
<text x="63" y="1655.5">CTS3</text>
<text x="176.5" y="1678.5" text-anchor="end">7</text>
<text x="183.5" y="1687">D6</text>
<text x="63" y="1679">CTS4</text>
<text x="176.5" y="1701.5" text-anchor="end">6</text>
<text x="183.5" y="1710">D7</text>
<text x="63" y="1702">CTS5</text>
<text x="176.5" y="1725" text-anchor="end">5</text>
<text x="183.5" y="1733.5">D8</text>
<text x="63" y="1725.5">CTS6</text>
<text x="176.5" y="1748.5" text-anchor="end">4</text>
<text x="183.5" y="1757">D9</text>
<text x="63" y="1749">CTS7</text>
<text x="217" y="1544.5" font-size="15.75">DAC</text>
<text x="254" y="1569.5">OP</text>
<text x="287" y="1561">15</text>
<text x="254" y="1593">RB</text>
<text x="287" y="1584.5">16</text>
<text x="254" y="1663.5">J1</text>
<text x="287" y="1655">1</text>
<text x="254" y="1687">J2</text>
<text x="287" y="1678.5">2</text>
<text x="263" y="1733.5">+</text>
<text x="287" y="1725">14</text>
<text x="263" y="1757">-</text>
<text x="287" y="1748.5">3</text>
<text x="89.5" y="1529">GND</text>
<text x="320.5" y="1561">-12VI</text>
<text x="363" y="1678">ANGR</text>
<text x="347.5" y="1725">+12VD</text>
<text x="361" y="1748.5">GND</text>
<text x="176.5" y="1826.5" text-anchor="end">13</text>
<text x="183.5" y="1835">D0</text>
<text x="176.5" y="1850" text-anchor="end">12</text>
<text x="183.5" y="1858.5">D1</text>
<text x="176.5" y="1873.5" text-anchor="end">11</text>
<text x="183.5" y="1882">D2</text>
<text x="104" y="1874">P0</text>
<text x="176.5" y="1897" text-anchor="end">10</text>
<text x="183.5" y="1905.5">D3</text>
<text x="104" y="1897.5">P1</text>
<text x="176.5" y="1920.5" text-anchor="end">9</text>
<text x="183.5" y="1929">D4</text>
<text x="104" y="1921">P2</text>
<text x="176.5" y="1944" text-anchor="end">8</text>
<text x="183.5" y="1952.5">D5</text>
<text x="104" y="1944.5">P3</text>
<text x="176.5" y="1967.5" text-anchor="end">7</text>
<text x="183.5" y="1976">D6</text>
<text x="104" y="1968">P4</text>
<text x="176.5" y="1990.5" text-anchor="end">6</text>
<text x="183.5" y="1999">D7</text>
<text x="104" y="1991">P5</text>
<text x="176.5" y="2014" text-anchor="end">5</text>
<text x="183.5" y="2022.5">D8</text>
<text x="104" y="2014.5">P6</text>
<text x="176.5" y="2037.5" text-anchor="end">4</text>
<text x="183.5" y="2046">D9</text>
<text x="104" y="2038">P7</text>
<text x="217" y="1833.5" font-size="15.75">DAC</text>
<text x="254" y="1858.5">OP</text>
<text x="287" y="1850">15</text>
<text x="254" y="1882">RB</text>
<text x="287" y="1873.5">16</text>
<text x="254" y="1952.5">J1</text>
<text x="287" y="1944">1</text>
<text x="254" y="1976">J2</text>
<text x="287" y="1967.5">2</text>
<text x="263" y="2022.5">+</text>
<text x="287" y="2014">14</text>
<text x="263" y="2046">-</text>
<text x="287" y="2037.5">3</text>
<text x="96.5" y="1819">GND</text>
<text x="320.5" y="1850">-12VI</text>
<text x="353" y="1967.5">ANGR</text>
<text x="347.5" y="2014">+12VD</text>
<text x="353" y="2038">GND</text>
<text x="399" y="1804">ANGR</text>
<text x="347.5" y="1897.5">+12VD</text>
<text x="550" y="1600.5" text-anchor="middle">+</text>
<text x="568" y="1616.5">U</text>
<text x="537.5" y="1589.5" text-anchor="end">2</text>
<text x="537.5" y="1620.5" text-anchor="end">1</text>
<text x="612.5" y="1604.5">8</text>
<text x="582.5" y="1577.5" text-anchor="end">3</text>
<text x="587.5" y="1577.5">+DA2</text>
<text x="470" y="1686" font-size="19.6875">C27</text>
<text x="910.5" y="1608">DAOUT</text>
<text x="813.5" y="1679">ADCIN</text>
<text x="595" y="1749" text-anchor="middle">+</text>
<text x="613" y="1765">U</text>
<text x="582.5" y="1738" text-anchor="end">2</text>
<text x="582.5" y="1769" text-anchor="end">1</text>
<text x="657.5" y="1753">8</text>
<text x="627.5" y="1726" text-anchor="end">3</text>
<text x="632.5" y="1726">+DA7</text>
<text x="636.5" y="1702">+12VD</text>
<text x="514.5" y="1812.5" text-anchor="middle">R33</text>
<text x="550" y="1874" text-anchor="middle">+</text>
<text x="568" y="1890">U</text>
<text x="537.5" y="1863" text-anchor="end">4</text>
<text x="537.5" y="1894" text-anchor="end">5</text>
<text x="612.5" y="1878">6</text>
<text x="582.5" y="1851" text-anchor="end">7</text>
<text x="587.5" y="1851">-DA2</text>
<text x="602" y="1826">-15V</text>
<text x="461.5" y="1906.5" text-anchor="middle">R34</text>
<text x="558" y="1952.5" font-size="19.6875">C28</text>
<text x="777.5" y="1859" text-anchor="middle">+</text>
<text x="766" y="1848" text-anchor="end">2</text>
<text x="766" y="1879" text-anchor="end">3</text>
<text x="841.5" y="1862">7</text>
<text x="779" y="1826">4</text>
<text x="803" y="1839">5</text>
<text x="827" y="1842.5">DA6</text>
<text x="791" y="1855" font-size="12.375">K</text>
<text x="800" y="1864" font-size="12.375">K1</text>
<text x="818" y="1875" font-size="12.375">U+</text>
<text x="791" y="1887" font-size="12.375">GR</text>
<text x="769.5" y="1899" font-size="12.375">U-</text>
<text x="688.5" y="1936">-15V</text>
<text x="759.5" y="1924.5">6</text>
<text x="788.5" y="1914">1</text>
<text x="811" y="1936">ANGR</text>
<text x="816.5" y="1897.5">8</text>
<text x="917.5" y="1866">ACMP</text>
<text x="845" y="1787.5">+5V</text>
<text x="714.5" y="1967.5">+12V</text>
<text x="800" y="1967.5">T1</text>
<text x="892" y="1967.5">+12VD</text>
<text x="653.5" y="1999" font-size="19.6875">C29</text>
<text x="704" y="1999">GND</text>
<text x="1154" y="1537.5" text-anchor="end">1</text>
<text x="1161" y="1546">A0</text>
<text x="1037.5" y="1538">WR</text>
<text x="1154" y="1561" text-anchor="end">2</text>
<text x="1161" y="1569.5">A1</text>
<text x="1037.5" y="1561.5">A8</text>
<text x="1154" y="1584.5" text-anchor="end">3</text>
<text x="1161" y="1593">A2</text>
<text x="1037.5" y="1585">A3</text>
<text x="1154" y="1631.5" text-anchor="end">4</text>
<text x="1161" y="1640">V1</text>
<text x="1037.5" y="1632">A4</text>
<text x="1154" y="1655" text-anchor="end">5</text>
<text x="1161" y="1663.5">V2</text>
<text x="1154" y="1678.5" text-anchor="end">6</text>
<text x="1161" y="1687">V3</text>
<text x="1015.5" y="1679">DOSEN</text>
<text x="1034.5" y="1710">IOFF</text>
<text x="1264.5" y="1537.5">15</text>
<text x="1230.5" y="1547">D0</text>
<text x="1264.5" y="1561">14</text>
<text x="1230.5" y="1570.5">D1</text>
<text x="1264.5" y="1584.5">13</text>
<text x="1230.5" y="1594">D2</text>
<text x="1264.5" y="1608">12</text>
<text x="1230.5" y="1617.5">D3</text>
<text x="1264.5" y="1631.5">11</text>
<text x="1230.5" y="1641">D4</text>
<text x="1264.5" y="1655">10</text>
<text x="1230.5" y="1664.5">D5</text>
<text x="1264.5" y="1678.5">9</text>
<text x="1230.5" y="1688">D6</text>
<text x="1264.5" y="1701.5">7</text>
<text x="1230.5" y="1711">D7</text>
<text x="1303.5" y="1632">OEWW</text>
<text x="1312.5" y="1655.5">WRD</text>
<text x="1312.5" y="1679">WUC</text>
<text x="1303.5" y="1702">OERW</text>
<text x="1181.5" y="1768" text-anchor="middle" font-size="29.25">&amp;</text>
<text x="1162" y="1789">D38</text>
<text x="1145.5" y="1756.5" text-anchor="end">1</text>
<text x="1145.5" y="1779.5" text-anchor="end">2</text>
<text x="1211.5" y="1764.5">3</text>
<text x="1032" y="1756.5">FFWR</text>
<text x="1032" y="1779.5">FFRD</text>
<text x="1340.5" y="1784" text-anchor="middle" font-size="29.25">&amp;</text>
<text x="1320.5" y="1804.5">D38</text>
<text x="1304.5" y="1772.5" text-anchor="end">4</text>
<text x="1304.5" y="1795.5" text-anchor="end">5</text>
<text x="1370" y="1778">6</text>
<text x="1180" y="1850.5">GND</text>
<text x="1234.5" y="1850.5">bale</text>
<text x="1323.5" y="1859" text-anchor="middle">28</text>
<text x="1367.5" y="1859" text-anchor="middle">X4</text>
<text x="1323.5" y="1882.5" text-anchor="middle">38</text>
<text x="1367.5" y="1882.5" text-anchor="middle">X4</text>
<text x="1231" y="1883" text-anchor="middle">R96</text>
<text x="1101" y="1872.5">+5V</text>
<text x="1090" y="1898.5" text-anchor="middle">R69</text>
<text x="1112.5" y="1934" font-size="19.6875">VD50</text>
<text x="1189.5" y="1920.5">ACT</text>
<text x="1323.5" y="1930" text-anchor="middle">39</text>
<text x="1367.5" y="1930" text-anchor="middle">X4</text>
<text x="1215" y="1959">+5V</text>
<text x="1247.5" y="1990">170UP2</text>
<text x="1504" y="1577.5">OE</text>
<text x="1510.5" y="1601">C</text>
<text x="1504" y="1625">D0</text>
<text x="1591.5" y="1602">Q0</text>
<text x="1504" y="1648.5">D1</text>
<text x="1591.5" y="1625">Q1</text>
<text x="1504" y="1672">D2</text>
<text x="1591.5" y="1648.5">Q2</text>
<text x="1504" y="1695.5">D3</text>
<text x="1591.5" y="1672">Q3</text>
<text x="1504" y="1719">D4</text>
<text x="1591.5" y="1695.5">Q4</text>
<text x="1504" y="1742.5">D5</text>
<text x="1591.5" y="1719">Q5</text>
<text x="1504" y="1766">D6</text>
<text x="1591.5" y="1742.5">Q6</text>
<text x="1504" y="1789.5">D7</text>
<text x="1591.5" y="1766">Q7</text>
<text x="1548" y="1576">RG</text>
<text x="1541" y="1787.5">D32</text>
<text x="1497" y="1569" text-anchor="end">1</text>
<text x="1497" y="1592.5" text-anchor="end">11</text>
<text x="1497" y="1615.5" text-anchor="end">3</text>
<text x="1433.5" y="1616">D0</text>
<text x="1497" y="1639" text-anchor="end">4</text>
<text x="1433.5" y="1639.5">D1</text>
<text x="1497" y="1662.5" text-anchor="end">7</text>
<text x="1433.5" y="1663">D2</text>
<text x="1497" y="1686" text-anchor="end">8</text>
<text x="1433.5" y="1686.5">D3</text>
<text x="1497" y="1709.5" text-anchor="end">13</text>
<text x="1433.5" y="1710">D4</text>
<text x="1497" y="1733" text-anchor="end">14</text>
<text x="1433.5" y="1733.5">D5</text>
<text x="1497" y="1756.5" text-anchor="end">17</text>
<text x="1433.5" y="1757">D6</text>
<text x="1497" y="1780" text-anchor="end">18</text>
<text x="1433.5" y="1780.5">D7</text>
<text x="1625.5" y="1592.5">2</text>
<text x="1665.5" y="1593">WD8</text>
<text x="1753.5" y="1593">WD8</text>
<text x="1625.5" y="1615.5">5</text>
<text x="1665.5" y="1616">WD9</text>
<text x="1753.5" y="1616">WD9</text>
<text x="1625.5" y="1639">6</text>
<text x="1658" y="1639.5">WD10</text>
<text x="1744.5" y="1639.5">WD10</text>
<text x="1625.5" y="1662.5">9</text>
<text x="1658" y="1663">WD11</text>
<text x="1744.5" y="1663">WD11</text>
<text x="1625.5" y="1686">12</text>
<text x="1658" y="1686.5">WD12</text>
<text x="1744.5" y="1686.5">WD12</text>
<text x="1625.5" y="1709.5">15</text>
<text x="1658" y="1710">WD13</text>
<text x="1744.5" y="1710">WD13</text>
<text x="1625.5" y="1733">16</text>
<text x="1658" y="1733.5">WD14</text>
<text x="1744.5" y="1733.5">WD14</text>
<text x="1625.5" y="1756.5">19</text>
<text x="1658" y="1757">WD15</text>
<text x="1744.5" y="1757">WD15</text>
<text x="1665.5" y="1796">WCS</text>
<text x="1771.5" y="1796">WRD</text>
<text x="1544" y="1859" text-anchor="middle">22</text>
<text x="1587.5" y="1859" text-anchor="middle">X4</text>
<text x="1781" y="1859" text-anchor="middle">12</text>
<text x="1825" y="1859" text-anchor="middle">X4</text>
<text x="1639.5" y="1850.5">WD12</text>
<text x="1544" y="1882.5" text-anchor="middle">24</text>
<text x="1587.5" y="1882.5" text-anchor="middle">X4</text>
<text x="1781" y="1882.5" text-anchor="middle">14</text>
<text x="1825" y="1882.5" text-anchor="middle">X4</text>
<text x="1639.5" y="1874">WD13</text>
<text x="1544" y="1906" text-anchor="middle">26</text>
<text x="1587.5" y="1906" text-anchor="middle">X4</text>
<text x="1781" y="1906" text-anchor="middle">16</text>
<text x="1825" y="1906" text-anchor="middle">X4</text>
<text x="1639.5" y="1897.5">WD14</text>
<text x="1544" y="1929.5" text-anchor="middle">36</text>
<text x="1587.5" y="1929.5" text-anchor="middle">X4</text>
<text x="1781" y="1929.5" text-anchor="middle">18</text>
<text x="1825" y="1929.5" text-anchor="middle">X4</text>
<text x="1639.5" y="1921">WD15</text>
<text x="1426.5" y="1896">GND</text>
<text x="1401" y="1920">BA7</text>
<text x="1830" y="1554">OE</text>
<text x="1837" y="1577.5">C</text>
<text x="1830" y="1602">D0</text>
<text x="1918" y="1578.5">Q0</text>
<text x="1830" y="1625">D1</text>
<text x="1918" y="1602">Q1</text>
<text x="1830" y="1648.5">D2</text>
<text x="1918" y="1625">Q2</text>
<text x="1830" y="1672">D3</text>
<text x="1918" y="1648.5">Q3</text>
<text x="1830" y="1695.5">D4</text>
<text x="1918" y="1672">Q4</text>
<text x="1830" y="1719">D5</text>
<text x="1918" y="1695.5">Q5</text>
<text x="1830" y="1742.5">D6</text>
<text x="1918" y="1719">Q6</text>
<text x="1830" y="1766">D7</text>
<text x="1918" y="1742.5">Q7</text>
<text x="1874" y="1552.5">RG</text>
<text x="1867.5" y="1764">D33</text>
<text x="1823.5" y="1545.5" text-anchor="end">1</text>
<text x="1823.5" y="1569" text-anchor="end">11</text>
<text x="1737" y="1545.5">OERW</text>
<text x="1737" y="1569">WCS</text>
<text x="1823.5" y="1592.5" text-anchor="end">3</text>
<text x="1823.5" y="1615.5" text-anchor="end">4</text>
<text x="1823.5" y="1639" text-anchor="end">7</text>
<text x="1823.5" y="1662.5" text-anchor="end">8</text>
<text x="1823.5" y="1686" text-anchor="end">13</text>
<text x="1823.5" y="1709.5" text-anchor="end">14</text>
<text x="1823.5" y="1733" text-anchor="end">17</text>
<text x="1823.5" y="1756.5" text-anchor="end">18</text>
<text x="1951.5" y="1569">2</text>
<text x="1988" y="1569.5">D0</text>
<text x="2032.5" y="1569.5">D0</text>
<text x="2086.5" y="1569" text-anchor="end">2</text>
<text x="1951.5" y="1592.5">5</text>
<text x="1988" y="1593">D1</text>
<text x="2032.5" y="1593">D1</text>
<text x="2086.5" y="1592.5" text-anchor="end">3</text>
<text x="1951.5" y="1615.5">6</text>
<text x="1988" y="1616">D2</text>
<text x="2032.5" y="1616">D2</text>
<text x="2086.5" y="1615.5" text-anchor="end">4</text>
<text x="1951.5" y="1639">9</text>
<text x="1988" y="1639.5">D3</text>
<text x="2032.5" y="1639.5">D3</text>
<text x="2086.5" y="1639" text-anchor="end">5</text>
<text x="1951.5" y="1662.5">12</text>
<text x="1988" y="1663">D4</text>
<text x="2032.5" y="1663">D4</text>
<text x="2086.5" y="1662.5" text-anchor="end">6</text>
<text x="1951.5" y="1686">15</text>
<text x="1988" y="1686.5">D5</text>
<text x="2032.5" y="1686.5">D5</text>
<text x="2086.5" y="1686" text-anchor="end">7</text>
<text x="1951.5" y="1709.5">16</text>
<text x="1988" y="1710">D6</text>
<text x="2032.5" y="1710">D6</text>
<text x="2086.5" y="1709.5" text-anchor="end">8</text>
<text x="1951.5" y="1733">19</text>
<text x="1988" y="1733.5">D7</text>
<text x="2032.5" y="1733.5">D7</text>
<text x="2086.5" y="1733" text-anchor="end">9</text>
<text x="2093.5" y="1578.5">D0</text>
<text x="2181" y="1602">Q0</text>
<text x="2093.5" y="1602">D1</text>
<text x="2181" y="1625">Q1</text>
<text x="2093.5" y="1625">D2</text>
<text x="2181" y="1648.5">Q2</text>
<text x="2093.5" y="1648.5">D3</text>
<text x="2181" y="1672">Q3</text>
<text x="2093.5" y="1672">D4</text>
<text x="2181" y="1695.5">Q4</text>
<text x="2093.5" y="1695.5">D5</text>
<text x="2181" y="1719">Q5</text>
<text x="2093.5" y="1719">D6</text>
<text x="2181" y="1742.5">Q6</text>
<text x="2093.5" y="1742.5">D7</text>
<text x="2181" y="1766">Q7</text>
<text x="2093.5" y="1765">OE</text>
<text x="2101" y="1789.5">T</text>
<text x="2086.5" y="1756.5" text-anchor="end">19</text>
<text x="2086.5" y="1780" text-anchor="end">1</text>
<text x="1973" y="1764">GND</text>
<text x="2215" y="1592.5">18</text>
<text x="2262" y="1593">WD0</text>
<text x="2215" y="1615.5">17</text>
<text x="2262" y="1616">WD1</text>
<text x="2215" y="1639">16</text>
<text x="2262" y="1639.5">WD2</text>
<text x="2215" y="1662.5">15</text>
<text x="2262" y="1663">WD3</text>
<text x="2215" y="1686">14</text>
<text x="2262" y="1686.5">WD4</text>
<text x="2215" y="1709.5">13</text>
<text x="2262" y="1710">WD5</text>
<text x="2215" y="1733">12</text>
<text x="2262" y="1733.5">WD6</text>
<text x="2215" y="1756.5">11</text>
<text x="2262" y="1757">WD7</text>
<text x="2009.5" y="1859" text-anchor="middle">4</text>
<text x="2053.5" y="1859" text-anchor="middle">X4</text>
<text x="1877.5" y="1850.5">WD8</text>
<text x="2009.5" y="1882.5" text-anchor="middle">6</text>
<text x="2053.5" y="1882.5" text-anchor="middle">X4</text>
<text x="1877.5" y="1874">WD9</text>
<text x="2009.5" y="1906" text-anchor="middle">8</text>
<text x="2053.5" y="1906" text-anchor="middle">X4</text>
<text x="1868.5" y="1897.5">WD10</text>
<text x="2009.5" y="1929.5" text-anchor="middle">10</text>
<text x="2053.5" y="1929.5" text-anchor="middle">X4</text>
<text x="1868.5" y="1921">WD11</text>
<text x="2239" y="1828" text-anchor="middle">33</text>
<text x="2283" y="1828" text-anchor="middle">X4</text>
<text x="2095.5" y="1819">BA6</text>
<text x="2239" y="1851.5" text-anchor="middle">35</text>
<text x="2283" y="1851.5" text-anchor="middle">X4</text>
<text x="2095.5" y="1842.5">BA5</text>
<text x="2239" y="1875" text-anchor="middle">37</text>
<text x="2283" y="1875" text-anchor="middle">X4</text>
<text x="2095.5" y="1866">WCS</text>
<text x="2239" y="1922" text-anchor="middle">2</text>
<text x="2283" y="1922" text-anchor="middle">X4</text>
<text x="2121.5" y="1913">GND</text>
<text x="2476.5" y="1562" text-anchor="middle">1</text>
<text x="2521" y="1562" text-anchor="middle">X4</text>
<text x="2334" y="1553.5">RESW</text>
<text x="2476.5" y="1585.5" text-anchor="middle">3</text>
<text x="2521" y="1585.5" text-anchor="middle">X4</text>
<text x="2334" y="1577">WD7</text>
<text x="2476.5" y="1608.5" text-anchor="middle">5</text>
<text x="2521" y="1608.5" text-anchor="middle">X4</text>
<text x="2334" y="1600">WD6</text>
<text x="2476.5" y="1632" text-anchor="middle">7</text>
<text x="2521" y="1632" text-anchor="middle">X4</text>
<text x="2334" y="1623.5">WD5</text>
<text x="2476.5" y="1655.5" text-anchor="middle">9</text>
<text x="2521" y="1655.5" text-anchor="middle">X4</text>
<text x="2334" y="1647">WD4</text>
<text x="2476.5" y="1679" text-anchor="middle">11</text>
<text x="2521" y="1679" text-anchor="middle">X4</text>
<text x="2334" y="1670.5">WD3</text>
<text x="2476.5" y="1702.5" text-anchor="middle">13</text>
<text x="2521" y="1702.5" text-anchor="middle">X4</text>
<text x="2334" y="1694">WD2</text>
<text x="2476.5" y="1726" text-anchor="middle">15</text>
<text x="2521" y="1726" text-anchor="middle">X4</text>
<text x="2334" y="1717.5">WD1</text>
<text x="2476.5" y="1749.5" text-anchor="middle">17</text>
<text x="2521" y="1749.5" text-anchor="middle">X4</text>
<text x="2334" y="1741">WD0</text>
<text x="2476.5" y="1773" text-anchor="middle">19</text>
<text x="2521" y="1773" text-anchor="middle">X4</text>
<text x="2360" y="1764.5">GND</text>
<text x="2476.5" y="1796.5" text-anchor="middle">23</text>
<text x="2521" y="1796.5" text-anchor="middle">X4</text>
<text x="2334" y="1788">OEWW</text>
<text x="2476.5" y="1820" text-anchor="middle">25</text>
<text x="2521" y="1820" text-anchor="middle">X4</text>
<text x="2334" y="1811.5">WRD</text>
<text x="2476.5" y="1843.5" text-anchor="middle">31</text>
<text x="2521" y="1843.5" text-anchor="middle">X4</text>
<text x="2343" y="1835">WIRQ</text>
<text x="2476.5" y="1867" text-anchor="middle">21</text>
<text x="2521" y="1867" text-anchor="middle">X4</text>
<text x="2329.5" y="1858.5">WAIT_H</text>
<text x="2393.5" y="1914.5" text-anchor="middle">R95</text>
<text x="2447.5" y="1905.5">+5V</text>
<text x="141.5" y="2070" text-anchor="end">24</text>
<text x="156.5" y="2079.5">D0</text>
<text x="246.5" y="2079.5">J1</text>
<text x="287" y="2070">6</text>
<text x="141.5" y="2093.5" text-anchor="end">23</text>
<text x="156.5" y="2103">D1</text>
<text x="246.5" y="2103">J2</text>
<text x="287" y="2093.5">8</text>
<text x="141.5" y="2116.5" text-anchor="end">22</text>
<text x="156.5" y="2126">D2</text>
<text x="238.5" y="2126">REF</text>
<text x="287" y="2116.5">4</text>
<text x="141.5" y="2140" text-anchor="end">21</text>
<text x="156.5" y="2149.5">D3</text>
<text x="238.5" y="2149.5">RB1</text>
<text x="287" y="2140">9</text>
<text x="141.5" y="2163.5" text-anchor="end">20</text>
<text x="156.5" y="2173">D4</text>
<text x="238.5" y="2173">RB2</text>
<text x="287" y="2163.5">10</text>
<text x="69.5" y="2164">P0</text>
<text x="141.5" y="2187" text-anchor="end">19</text>
<text x="156.5" y="2196.5">D5</text>
<text x="246.5" y="2196.5">R1</text>
<text x="287" y="2187">5</text>
<text x="69.5" y="2187.5">P1</text>
<text x="141.5" y="2210.5" text-anchor="end">18</text>
<text x="156.5" y="2220">D6</text>
<text x="246.5" y="2220">R2</text>
<text x="287" y="2210.5">7</text>
<text x="69.5" y="2211">P2</text>
<text x="141.5" y="2234" text-anchor="end">17</text>
<text x="156.5" y="2243.5">D7</text>
<text x="246.5" y="2243.5">C1</text>
<text x="287" y="2234">3</text>
<text x="69.5" y="2234.5">P3</text>
<text x="141.5" y="2257.5" text-anchor="end">16</text>
<text x="156.5" y="2267">D8</text>
<text x="246.5" y="2267">C2</text>
<text x="287" y="2257.5">11</text>
<text x="69.5" y="2258">P4</text>
<text x="141.5" y="2281" text-anchor="end">15</text>
<text x="156.5" y="2290.5">D9</text>
<text x="238.5" y="2290.5">UC1</text>
<text x="287" y="2281">1</text>
<text x="69.5" y="2281.5">P5</text>
<text x="141.5" y="2304.5" text-anchor="end">14</text>
<text x="149.5" y="2314">D10</text>
<text x="238.5" y="2314">UC2</text>
<text x="287" y="2304.5">2</text>
<text x="69.5" y="2305">P6</text>
<text x="141.5" y="2328" text-anchor="end">13</text>
<text x="149.5" y="2337.5">D11</text>
<text x="238.5" y="2337.5">GND</text>
<text x="287" y="2328">12</text>
<text x="69.5" y="2328.5">P7</text>
<text x="200" y="2076" font-size="15.75">DAC</text>
<text x="62.5" y="2070">GND</text>
<text x="338.5" y="2117">+12VD</text>
<text x="344" y="2281.5">+5V</text>
<text x="336.5" y="2305">-15V</text>
<text x="336.5" y="2328.5">GND</text>
<text x="342" y="2180">H6</text>
<text x="404" y="2188.5" text-anchor="middle">R31</text>
<text x="344" y="2242">GND</text>
<text x="414" y="2359.5">GND</text>
<text x="374" y="2351" font-size="19.6875">C8</text>
<text x="213" y="2407.5" text-anchor="middle">1</text>
<text x="189" y="2427">D36</text>
<text x="177" y="2406" text-anchor="end">11</text>
<text x="244" y="2406">10</text>
<text x="64" y="2446">ADRD</text>
<text x="72.5" y="2469.5">ACMP</text>
<text x="478" y="2039">+12V</text>
<text x="595" y="2031" font-size="18">J14</text>
<text x="647" y="2031" font-size="18">J13</text>
<text x="650" y="2086.5" text-anchor="middle">R32</text>
<text x="554.5" y="2086.5" text-anchor="middle">R35</text>
<text x="587.5" y="2122.5">E</text>
<text x="552.5" y="2162.5">B</text>
<text x="587.5" y="2194.5">C</text>
<text x="550" y="2186">VT1</text>
<text x="545.5" y="2211.5" text-anchor="middle">R14</text>
<text x="587.5" y="2226">C</text>
<text x="552.5" y="2257.5">B</text>
<text x="550" y="2234.5">VT2</text>
<text x="587.5" y="2297">E</text>
<text x="501.5" y="2313.5" text-anchor="middle">R82</text>
<text x="503.5" y="2344">GND</text>
<text x="644.5" y="2196">C22</text>
<text x="767" y="2196">C25</text>
<text x="649.5" y="2256" font-size="19.6875">VD41</text>
<text x="728.5" y="2256" font-size="19.6875">VD42</text>
<text x="807.5" y="2256" font-size="19.6875">VD29</text>
<text x="886.5" y="2256" font-size="19.6875">VD28</text>
<text x="927" y="2125.5">-15V</text>
<text x="679.5" y="2283">C24</text>
<text x="847" y="2283">C23</text>
<text x="651.5" y="2140">GND</text>
<text x="700" y="2163" font-size="19.6875">VD48</text>
<text x="760.5" y="2134">-12VI</text>
<text x="870" y="2149.5" text-anchor="middle">R80</text>
<text x="822.5" y="2047" text-anchor="middle">+</text>
<text x="840.5" y="2063">U</text>
<text x="810" y="2036" text-anchor="end">4</text>
<text x="810" y="2067" text-anchor="end">5</text>
<text x="884" y="2051">6</text>
<text x="854" y="2020" text-anchor="end">7</text>
<text x="859.5" y="2020">-DA7</text>
<text x="880" y="1999">-15V</text>
<text x="229.5" y="2470" text-anchor="end">11</text>
<text x="245" y="2478.5">DI</text>
<text x="229.5" y="2493.5" text-anchor="end">1</text>
<text x="245" y="2502">EI</text>
<text x="229.5" y="2540" text-anchor="end">13</text>
<text x="253" y="2547.5">C</text>
<text x="229.5" y="2563.5" text-anchor="end">14</text>
<text x="253" y="2571">S</text>
<text x="59.5" y="2760">B2</text>
<text x="106.5" y="2760">J10</text>
<text x="141.5" y="2775">J12</text>
<text x="59.5" y="2807">B0</text>
<text x="106.5" y="2807">J11</text>
<text x="109.5" y="2666">ADCLK</text>
<text x="289" y="2478.5">RG</text>
<text x="333" y="2479.5">DO</text>
<text x="375.5" y="2470">2</text>
<text x="333" y="2503">Q0</text>
<text x="375.5" y="2493.5">4</text>
<text x="333" y="2526">Q1</text>
<text x="375.5" y="2516.5">5</text>
<text x="333" y="2549.5">Q2</text>
<text x="375.5" y="2540">6</text>
<text x="333" y="2573">Q3</text>
<text x="375.5" y="2563.5">7</text>
<text x="333" y="2596.5">Q4</text>
<text x="375.5" y="2587">8</text>
<text x="404" y="2587.5">P0</text>
<text x="333" y="2620">Q5</text>
<text x="375.5" y="2610.5">9</text>
<text x="404" y="2611">P1</text>
<text x="333" y="2643.5">Q6</text>
<text x="375.5" y="2634">16</text>
<text x="404" y="2634.5">P2</text>
<text x="333" y="2667">Q7</text>
<text x="375.5" y="2657.5">17</text>
<text x="404" y="2658">P3</text>
<text x="333" y="2690.5">Q8</text>
<text x="375.5" y="2681">18</text>
<text x="404" y="2681.5">P4</text>
<text x="333" y="2714">Q9</text>
<text x="375.5" y="2704.5">19</text>
<text x="404" y="2705">P5</text>
<text x="326" y="2737.5">Q10</text>
<text x="375.5" y="2728">20</text>
<text x="404" y="2728.5">P6</text>
<text x="326" y="2761">Q11</text>
<text x="375.5" y="2751.5">21</text>
<text x="404" y="2752">P7</text>
<text x="326" y="2784.5">Q11</text>
<text x="375.5" y="2775">23</text>
<text x="326" y="2807.5">QCC</text>
<text x="375.5" y="2798">3</text>
<text x="483.5" y="2548.5">OE</text>
<text x="490.5" y="2572">C</text>
<text x="483.5" y="2596.5">D0</text>
<text x="571.5" y="2573">Q0</text>
<text x="483.5" y="2620">D1</text>
<text x="571.5" y="2596.5">Q1</text>
<text x="483.5" y="2643.5">D2</text>
<text x="571.5" y="2620">Q2</text>
<text x="483.5" y="2667">D3</text>
<text x="571.5" y="2643.5">Q3</text>
<text x="483.5" y="2690.5">D4</text>
<text x="571.5" y="2667">Q4</text>
<text x="483.5" y="2714">D5</text>
<text x="571.5" y="2690.5">Q5</text>
<text x="483.5" y="2737.5">D6</text>
<text x="571.5" y="2714">Q6</text>
<text x="483.5" y="2761">D7</text>
<text x="571.5" y="2737.5">Q7</text>
<text x="527.5" y="2547">RG</text>
<text x="521" y="2758.5">D29</text>
<text x="477" y="2540" text-anchor="end">1</text>
<text x="477" y="2563.5" text-anchor="end">11</text>
<text x="477" y="2587" text-anchor="end">3</text>
<text x="477" y="2610.5" text-anchor="end">4</text>
<text x="477" y="2634" text-anchor="end">7</text>
<text x="477" y="2657.5" text-anchor="end">8</text>
<text x="477" y="2681" text-anchor="end">13</text>
<text x="477" y="2704.5" text-anchor="end">14</text>
<text x="477" y="2728" text-anchor="end">17</text>
<text x="477" y="2751.5" text-anchor="end">18</text>
<text x="605" y="2563.5">2</text>
<text x="640.5" y="2564">D0</text>
<text x="605" y="2587">5</text>
<text x="640.5" y="2587.5">D1</text>
<text x="605" y="2610.5">6</text>
<text x="640.5" y="2611">D2</text>
<text x="605" y="2634">9</text>
<text x="640.5" y="2634.5">D3</text>
<text x="605" y="2657.5">12</text>
<text x="640.5" y="2658">D4</text>
<text x="605" y="2681">15</text>
<text x="640.5" y="2681.5">D5</text>
<text x="605" y="2704.5">16</text>
<text x="640.5" y="2705">D6</text>
<text x="605" y="2728">19</text>
<text x="640.5" y="2728.5">D7</text>
<text x="784" y="2367.5" text-anchor="end">1</text>
<text x="791" y="2376">E1</text>
<text x="784" y="2391" text-anchor="end">2</text>
<text x="791" y="2399.5">A0</text>
<text x="894.5" y="2391">18</text>
<text x="860" y="2400.5">B0</text>
<text x="784" y="2414.5" text-anchor="end">4</text>
<text x="791" y="2423">A1</text>
<text x="894.5" y="2414.5">16</text>
<text x="860" y="2424">B1</text>
<text x="784" y="2438" text-anchor="end">6</text>
<text x="791" y="2446.5">A2</text>
<text x="894.5" y="2438">14</text>
<text x="860" y="2447.5">B2</text>
<text x="784" y="2461.5" text-anchor="end">8</text>
<text x="791" y="2470">A3</text>
<text x="894.5" y="2461.5">12</text>
<text x="860" y="2471">B3</text>
<text x="784" y="2485" text-anchor="end">11</text>
<text x="791" y="2493.5">A4</text>
<text x="894.5" y="2485">9</text>
<text x="860" y="2494.5">B4</text>
<text x="784" y="2508.5" text-anchor="end">13</text>
<text x="791" y="2517">A5</text>
<text x="894.5" y="2508.5">7</text>
<text x="860" y="2518">B5</text>
<text x="784" y="2531.5" text-anchor="end">15</text>
<text x="791" y="2540">A6</text>
<text x="894.5" y="2531.5">5</text>
<text x="860" y="2541">B6</text>
<text x="784" y="2555" text-anchor="end">17</text>
<text x="791" y="2563.5">A7</text>
<text x="894.5" y="2555">3</text>
<text x="860" y="2564.5">B7</text>
<text x="784" y="2578.5" text-anchor="end">19</text>
<text x="791" y="2587">E2</text>
<text x="714.5" y="2367.5">GND</text>
<text x="720.5" y="2391.5">A5</text>
<text x="720.5" y="2415">A6</text>
<text x="720.5" y="2438.5">A7</text>
<text x="720.5" y="2462">RS</text>
<text x="934" y="2603">WIRQ</text>
<text x="688.5" y="2578.5">TLRD</text>
<text x="819" y="2633.5" text-anchor="end">13</text>
<text x="825.5" y="2642">I0</text>
<text x="722" y="2634">ADI0</text>
<text x="819" y="2657" text-anchor="end">14</text>
<text x="825.5" y="2665.5">I1</text>
<text x="722" y="2657.5">ADI1</text>
<text x="819" y="2680.5" text-anchor="end">15</text>
<text x="825.5" y="2689">I2</text>
<text x="722" y="2681">ADI2</text>
<text x="819" y="2704" text-anchor="end">12</text>
<text x="825.5" y="2712.5">I3</text>
<text x="722" y="2704.5">ADI3</text>
<text x="819" y="2727.5" text-anchor="end">1</text>
<text x="825.5" y="2736">I0</text>
<text x="722" y="2728">ADI4</text>
<text x="819" y="2751" text-anchor="end">5</text>
<text x="825.5" y="2759.5">I1</text>
<text x="722" y="2751.5">ADI5</text>
<text x="819" y="2774.5" text-anchor="end">2</text>
<text x="825.5" y="2783">I2</text>
<text x="722" y="2775">ADI6</text>
<text x="819" y="2798" text-anchor="end">4</text>
<text x="825.5" y="2806.5">I3</text>
<text x="722" y="2798.5">ADI7</text>
<text x="819" y="2821.5" text-anchor="end">11</text>
<text x="825.5" y="2830">A0</text>
<text x="722" y="2822">BRD0</text>
<text x="819" y="2845" text-anchor="end">10</text>
<text x="825.5" y="2853.5">A1</text>
<text x="722" y="2845.5">BRD1</text>
<text x="819" y="2868.5" text-anchor="end">9</text>
<text x="825.5" y="2877">A2</text>
<text x="722" y="2869">BRD2</text>
<text x="819" y="2892" text-anchor="end">6</text>
<text x="825.5" y="2900.5">EI</text>
<text x="730" y="2892.5">GND</text>
<text x="860" y="2641">MX</text>
<text x="902.5" y="2665">0</text>
<text x="895.5" y="2852.5">+U</text>
<text x="895.5" y="2876">-U</text>
<text x="895.5" y="2900">GR</text>
<text x="942" y="2391.5">BA5</text>
<text x="942" y="2415">BA6</text>
<text x="942" y="2438.5">BA7</text>
<text x="934" y="2462">RESW</text>
<text x="948.5" y="2485.5">D7</text>
<text x="948.5" y="2509">D6</text>
<text x="948.5" y="2532">D5</text>
<text x="948.5" y="2555.5">D4</text>
<text x="1242" y="2016">I</text>
<text x="1230.5" y="2039">EI</text>
<text x="1323" y="2017">O</text>
<text x="1278" y="2039">D104</text>
<text x="1247.5" y="1991">170UP2</text>
<text x="1224" y="2007.5" text-anchor="end">4</text>
<text x="1224" y="2031" text-anchor="end">3</text>
<text x="1345.5" y="2005">13</text>
<text x="1050" y="2016.5" text-anchor="middle">I2</text>
<text x="1094" y="2016.5" text-anchor="middle">1</text>
<text x="1152" y="2008">CD</text>
<text x="1242" y="2094.5">I</text>
<text x="1230.5" y="2117.5">EI</text>
<text x="1323" y="2095.5">O</text>
<text x="1278" y="2117.5">D104</text>
<text x="1247.5" y="2069.5">170UP2</text>
<text x="1224" y="2086" text-anchor="end">5</text>
<text x="1224" y="2109.5" text-anchor="end">2</text>
<text x="1345.5" y="2083.5">12</text>
<text x="1050" y="2095" text-anchor="middle">I2</text>
<text x="1094" y="2095" text-anchor="middle">2</text>
<text x="1152" y="2086.5">RX</text>
<text x="1242" y="2172.5">I</text>
<text x="1230.5" y="2195.5">EI</text>
<text x="1323" y="2173.5">O</text>
<text x="1278" y="2195.5">D104</text>
<text x="1247.5" y="2147.5">170UP2</text>
<text x="1224" y="2164" text-anchor="end">6</text>
<text x="1224" y="2187.5" text-anchor="end">1</text>
<text x="1345.5" y="2161.5">11</text>
<text x="1050" y="2173" text-anchor="middle">I2</text>
<text x="1094" y="2173" text-anchor="middle">8</text>
<text x="1145" y="2164.5">CTS</text>
<text x="1242" y="2251">I</text>
<text x="1230.5" y="2274">EI</text>
<text x="1323" y="2252">O</text>
<text x="1278" y="2274">D104</text>
<text x="1247.5" y="2226">170UP2</text>
<text x="1224" y="2242.5" text-anchor="end">7</text>
<text x="1224" y="2266" text-anchor="end">14</text>
<text x="1345.5" y="2240">10</text>
<text x="1050" y="2251.5" text-anchor="middle">I2</text>
<text x="1094" y="2251.5" text-anchor="middle">9</text>
<text x="1152" y="2243">RI</text>
<text x="1050" y="2313" text-anchor="middle">I2</text>
<text x="1094" y="2313" text-anchor="middle">3</text>
<text x="1050" y="2336.5" text-anchor="middle">I2</text>
<text x="1094" y="2336.5" text-anchor="middle">7</text>
<text x="1050" y="2376.5" text-anchor="middle">I2</text>
<text x="1094" y="2376.5" text-anchor="middle">5</text>
<text x="1050" y="2470" text-anchor="middle">I2</text>
<text x="1094" y="2470" text-anchor="middle">4</text>
<text x="1144" y="2304.5">TX</text>
<text x="1136" y="2328.5">RTS</text>
<text x="1145" y="2461">DTR</text>
<text x="1240" y="2377">IA</text>
<text x="1240" y="2400.5">IB</text>
<text x="1240" y="2424">EI</text>
<text x="1240" y="2447.5">GR</text>
<text x="1278" y="2444">D105</text>
<text x="1265.5" y="2351">170AP2</text>
<text x="1345.5" y="2377">OA</text>
<text x="1345.5" y="2400.5">OB</text>
<text x="1345.5" y="2424">+U</text>
<text x="1345.5" y="2447.5">-U</text>
<text x="1233" y="2367.5" text-anchor="end">2</text>
<text x="1233" y="2391" text-anchor="end">3</text>
<text x="1233" y="2414.5" text-anchor="end">1</text>
<text x="1233" y="2438" text-anchor="end">4</text>
<text x="1163" y="2412.5">+5V</text>
<text x="1163" y="2436">GND</text>
<text x="1240" y="2510">IA</text>
<text x="1240" y="2533.5">IB</text>
<text x="1240" y="2557">EI</text>
<text x="1240" y="2580.5">GR</text>
<text x="1278" y="2577">D106</text>
<text x="1265.5" y="2484">170AP2</text>
<text x="1345.5" y="2510">OA</text>
<text x="1345.5" y="2533.5">OB</text>
<text x="1345.5" y="2557">+U</text>
<text x="1345.5" y="2580.5">-U</text>
<text x="1233" y="2500.5" text-anchor="end">2</text>
<text x="1233" y="2524" text-anchor="end">3</text>
<text x="1233" y="2547.5" text-anchor="end">1</text>
<text x="1233" y="2571" text-anchor="end">4</text>
<text x="1577.5" y="2023.5" text-anchor="end">1</text>
<text x="1585" y="2033">PA0</text>
<text x="1488" y="2024">CDV</text>
<text x="1577.5" y="2047" text-anchor="end">2</text>
<text x="1585" y="2056.5">PA1</text>
<text x="1480.5" y="2047.5">CTSV</text>
<text x="1577.5" y="2070.5" text-anchor="end">3</text>
<text x="1585" y="2080">PA2</text>
<text x="1488" y="2071">RIV</text>
<text x="1577.5" y="2094" text-anchor="end">4</text>
<text x="1585" y="2103.5">PA3</text>
<text x="1471.5" y="2094.5">DTRV</text>
<text x="1577.5" y="2117.5" text-anchor="end">5</text>
<text x="1585" y="2127">PA4</text>
<text x="1471.5" y="2118">RTSV</text>
<text x="1577.5" y="2141" text-anchor="end">6</text>
<text x="1585" y="2150.5">PA5</text>
<text x="1458" y="2141.5">INT_T</text>
<text x="1577.5" y="2164.5" text-anchor="end">7</text>
<text x="1585" y="2174">PA6</text>
<text x="1478" y="2165">RS</text>
<text x="1577.5" y="2187.5" text-anchor="end">8</text>
<text x="1585" y="2197">PA7</text>
<text x="1462.5" y="2188">W_ON</text>
<text x="1577.5" y="2211" text-anchor="end">9</text>
<text x="1585" y="2220.5">RST</text>
<text x="1469" y="2211.5">RS</text>
<text x="1577.5" y="2234.5" text-anchor="end">10</text>
<text x="1585" y="2244">RXD</text>
<text x="1462.5" y="2235">RXV</text>
<text x="1577.5" y="2258" text-anchor="end">11</text>
<text x="1585" y="2267.5">TXD</text>
<text x="1462.5" y="2258.5">TXV</text>
<text x="1577.5" y="2281.5" text-anchor="end">12</text>
<text x="1585" y="2291">IN0</text>
<text x="1456" y="2282">CLK_K</text>
<text x="1577.5" y="2305" text-anchor="end">13</text>
<text x="1585" y="2314.5">IN1</text>
<text x="1465" y="2305.5">KEYRD</text>
<text x="1577.5" y="2328.5" text-anchor="end">14</text>
<text x="1591.5" y="2338">T0</text>
<text x="1471" y="2329">VE1</text>
<text x="1577.5" y="2352" text-anchor="end">15</text>
<text x="1591.5" y="2361.5">T1</text>
<text x="1448.5" y="2352.5">DATA_K</text>
<text x="1577.5" y="2375.5" text-anchor="end">16</text>
<text x="1591.5" y="2385">WR</text>
<text x="1471" y="2376">VWR</text>
<text x="1577.5" y="2399" text-anchor="end">17</text>
<text x="1591.5" y="2408.5">RD</text>
<text x="1471" y="2399.5">VRD</text>
<text x="1577.5" y="2422.5" text-anchor="end">18</text>
<text x="1591.5" y="2432">X2</text>
<text x="1577.5" y="2446" text-anchor="end">19</text>
<text x="1591.5" y="2455.5">X1</text>
<text x="1513.5" y="2446.5">F0</text>
<text x="1577.5" y="2469" text-anchor="end">40</text>
<text x="1585" y="2478.5">UCC</text>
<text x="1480" y="2469.5">+5V</text>
<text x="1690" y="2033">DB0</text>
<text x="1740" y="2023.5">39</text>
<text x="1779.5" y="2024">VD0</text>
<text x="1690" y="2056.5">DB1</text>
<text x="1740" y="2047">38</text>
<text x="1779.5" y="2047.5">VD1</text>
<text x="1690" y="2080">DB2</text>
<text x="1740" y="2070.5">37</text>
<text x="1779.5" y="2071">VD2</text>
<text x="1690" y="2103.5">DB3</text>
<text x="1740" y="2094">36</text>
<text x="1779.5" y="2094.5">VD3</text>
<text x="1690" y="2127">DB4</text>
<text x="1740" y="2117.5">35</text>
<text x="1779.5" y="2118">VD4</text>
<text x="1690" y="2150.5">DB5</text>
<text x="1740" y="2141">34</text>
<text x="1779.5" y="2141.5">VD5</text>
<text x="1690" y="2174">DB6</text>
<text x="1740" y="2164.5">33</text>
<text x="1779.5" y="2165">VD6</text>
<text x="1690" y="2197">DB7</text>
<text x="1740" y="2187.5">32</text>
<text x="1779.5" y="2188">VD7</text>
<text x="1697.5" y="2220.5">EA</text>
<text x="1740" y="2211">31</text>
<text x="1779.5" y="2211.5">GND</text>
<text x="1690" y="2244">ALE</text>
<text x="1740" y="2234.5">30</text>
<text x="1779.5" y="2235">ALE</text>
<text x="1689.5" y="2266.5" font-size="18">PSEN</text>
<text x="1740" y="2258">29</text>
<text x="1771.5" y="2258.5">PSEN</text>
<text x="1690" y="2291">PB0</text>
<text x="1740" y="2281.5">21</text>
<text x="1779.5" y="2282">VA8</text>
<text x="1690" y="2314.5">PB1</text>
<text x="1740" y="2305">22</text>
<text x="1779.5" y="2305.5">VA9</text>
<text x="1690" y="2338">PB2</text>
<text x="1740" y="2328.5">23</text>
<text x="1771.5" y="2329">VA10</text>
<text x="1690" y="2361.5">PB3</text>
<text x="1740" y="2352">24</text>
<text x="1771.5" y="2352.5">VA11</text>
<text x="1690" y="2385">PB4</text>
<text x="1740" y="2375.5">25</text>
<text x="1771.5" y="2376">VA12</text>
<text x="1690" y="2408.5">PB5</text>
<text x="1740" y="2399">26</text>
<text x="1771.5" y="2399.5">VA13</text>
<text x="1690" y="2432">PB6</text>
<text x="1740" y="2422.5">27</text>
<text x="1771.5" y="2423">VA14</text>
<text x="1690" y="2455.5">PB7</text>
<text x="1740" y="2446">28</text>
<text x="1771.5" y="2446.5">VA15</text>
<text x="1690" y="2478.5">GND</text>
<text x="1740" y="2469">20</text>
<text x="1779.5" y="2469.5">GND</text>
<text x="1644.5" y="2031">CP</text>
<text x="1379" y="2366">7</text>
<text x="1379" y="2389.5">6</text>
<text x="1379" y="2413">8</text>
<text x="1379" y="2436.5">5</text>
<text x="1379" y="2499">7</text>
<text x="1379" y="2522.5">6</text>
<text x="1379" y="2546">8</text>
<text x="1379" y="2569.5">5</text>
<text x="1332" y="2619">+12V</text>
<text x="1945" y="1985">OE</text>
<text x="1951.5" y="2008.5">C</text>
<text x="1945" y="2033">D0</text>
<text x="2032.5" y="2009.5">Q0</text>
<text x="1945" y="2056.5">D1</text>
<text x="2032.5" y="2033">Q1</text>
<text x="1945" y="2080">D2</text>
<text x="2032.5" y="2056.5">Q2</text>
<text x="1945" y="2103.5">D3</text>
<text x="2032.5" y="2080">Q3</text>
<text x="1945" y="2127">D4</text>
<text x="2032.5" y="2103.5">Q4</text>
<text x="1945" y="2150.5">D5</text>
<text x="2032.5" y="2127">Q5</text>
<text x="1945" y="2174">D6</text>
<text x="2032.5" y="2150.5">Q6</text>
<text x="1945" y="2197">D7</text>
<text x="2032.5" y="2174">Q7</text>
<text x="1989" y="1983.5">RG</text>
<text x="1982" y="2195">D99</text>
<text x="1868.5" y="1976.5">GND</text>
<text x="1938" y="1976.5" text-anchor="end">1</text>
<text x="1938" y="2000" text-anchor="end">11</text>
<text x="1938" y="2023.5" text-anchor="end">3</text>
<text x="1938" y="2047" text-anchor="end">4</text>
<text x="1938" y="2070.5" text-anchor="end">7</text>
<text x="1938" y="2094" text-anchor="end">8</text>
<text x="1938" y="2117.5" text-anchor="end">13</text>
<text x="1938" y="2141" text-anchor="end">14</text>
<text x="1938" y="2164.5" text-anchor="end">17</text>
<text x="1938" y="2187.5" text-anchor="end">18</text>
<text x="1939.5" y="2243" text-anchor="middle">1</text>
<text x="1915.5" y="2262">D80</text>
<text x="1904" y="2242.5" text-anchor="end">9</text>
<text x="1969.5" y="2242.5">8</text>
<text x="2065" y="2000">2</text>
<text x="2148.5" y="2000.5">VA0</text>
<text x="2065" y="2023.5">5</text>
<text x="2148.5" y="2024">VA1</text>
<text x="2065" y="2047">6</text>
<text x="2148.5" y="2047.5">VA2</text>
<text x="2065" y="2070.5">9</text>
<text x="2148.5" y="2071">VA3</text>
<text x="2065" y="2094">12</text>
<text x="2148.5" y="2094.5">VA4</text>
<text x="2065" y="2117.5">15</text>
<text x="2148.5" y="2118">VA5</text>
<text x="2065" y="2141">16</text>
<text x="2148.5" y="2141.5">VA6</text>
<text x="2065" y="2164.5">19</text>
<text x="2148.5" y="2165">VA7</text>
<text x="2139.5" y="2188">VA8</text>
<text x="2139.5" y="2211.5">VA9</text>
<text x="2131.5" y="2235">VA10</text>
<text x="2131.5" y="2258.5">GND</text>
<text x="2123" y="2282">PSEN</text>
<text x="1954" y="2345.5">D0</text>
<text x="2041.5" y="2369">Q0</text>
<text x="1954" y="2369">D1</text>
<text x="2041.5" y="2392.5">Q1</text>
<text x="1954" y="2392.5">D2</text>
<text x="2041.5" y="2416">Q2</text>
<text x="1954" y="2416">D3</text>
<text x="2041.5" y="2439.5">Q3</text>
<text x="1954" y="2439.5">D4</text>
<text x="2041.5" y="2463">Q4</text>
<text x="1954" y="2463">D5</text>
<text x="2041.5" y="2486.5">Q5</text>
<text x="1954" y="2486.5">D6</text>
<text x="2041.5" y="2509.5">Q6</text>
<text x="1954" y="2509.5">D7</text>
<text x="2041.5" y="2533">Q7</text>
<text x="1954" y="2532">OE</text>
<text x="1962" y="2556.5">T</text>
<text x="1947" y="2523.5" text-anchor="end">19</text>
<text x="1947" y="2547" text-anchor="end">1</text>
<text x="1844" y="2523.5">VEBUF</text>
<text x="1859" y="2547">VRD</text>
<text x="1947" y="2336" text-anchor="end">2</text>
<text x="1859" y="2336.5">VD0</text>
<text x="2073" y="2359.5">18</text>
<text x="2120" y="2360">D0</text>
<text x="1947" y="2359.5" text-anchor="end">3</text>
<text x="1859" y="2360">VD1</text>
<text x="2073" y="2383">17</text>
<text x="2120" y="2383.5">D1</text>
<text x="1947" y="2383" text-anchor="end">4</text>
<text x="1859" y="2383.5">VD2</text>
<text x="2073" y="2406.5">16</text>
<text x="2120" y="2407">D2</text>
<text x="1947" y="2406.5" text-anchor="end">5</text>
<text x="1859" y="2407">VD3</text>
<text x="2073" y="2430">15</text>
<text x="2120" y="2430.5">D3</text>
<text x="1947" y="2430" text-anchor="end">6</text>
<text x="1859" y="2430.5">VD4</text>
<text x="2073" y="2453.5">14</text>
<text x="2120" y="2454">D4</text>
<text x="1947" y="2453.5" text-anchor="end">7</text>
<text x="1859" y="2454">VD5</text>
<text x="2073" y="2477">13</text>
<text x="2120" y="2477.5">D5</text>
<text x="1947" y="2477" text-anchor="end">8</text>
<text x="1859" y="2477.5">VD6</text>
<text x="2073" y="2500">12</text>
<text x="2120" y="2500.5">D6</text>
<text x="1947" y="2500" text-anchor="end">9</text>
<text x="1859" y="2500.5">VD7</text>
<text x="2073" y="2523.5">11</text>
<text x="2120" y="2524">D7</text>
<text x="2219.5" y="2000" text-anchor="end">8</text>
<text x="2227" y="2009.5">A00</text>
<text x="2219.5" y="2023.5" text-anchor="end">7</text>
<text x="2227" y="2033">A01</text>
<text x="2219.5" y="2047" text-anchor="end">6</text>
<text x="2227" y="2056.5">A02</text>
<text x="2219.5" y="2070.5" text-anchor="end">5</text>
<text x="2227" y="2080">A03</text>
<text x="2219.5" y="2094" text-anchor="end">4</text>
<text x="2227" y="2103.5">A04</text>
<text x="2219.5" y="2117.5" text-anchor="end">3</text>
<text x="2227" y="2127">A05</text>
<text x="2219.5" y="2141" text-anchor="end">2</text>
<text x="2227" y="2150.5">A06</text>
<text x="2219.5" y="2164.5" text-anchor="end">1</text>
<text x="2227" y="2174">A07</text>
<text x="2219.5" y="2187.5" text-anchor="end">23</text>
<text x="2227" y="2197">A08</text>
<text x="2219.5" y="2211" text-anchor="end">22</text>
<text x="2227" y="2220.5">A09</text>
<text x="2219.5" y="2234.5" text-anchor="end">19</text>
<text x="2227" y="2244">A10</text>
<text x="2219.5" y="2258" text-anchor="end">18</text>
<text x="2234" y="2267.5">CS</text>
<text x="2219.5" y="2281.5" text-anchor="end">20</text>
<text x="2234" y="2291">OE</text>
<text x="2339.5" y="2009.5">D0</text>
<text x="2383.5" y="2000">9</text>
<text x="2440" y="2000.5">VD0</text>
<text x="2339.5" y="2033">D1</text>
<text x="2383.5" y="2023.5">10</text>
<text x="2440" y="2024">VD1</text>
<text x="2339.5" y="2056.5">D2</text>
<text x="2383.5" y="2047">11</text>
<text x="2440" y="2047.5">VD2</text>
<text x="2339.5" y="2080">D3</text>
<text x="2383.5" y="2070.5">13</text>
<text x="2440" y="2071">VD3</text>
<text x="2339.5" y="2103.5">D4</text>
<text x="2383.5" y="2094">14</text>
<text x="2440" y="2094.5">VD4</text>
<text x="2339.5" y="2127">D5</text>
<text x="2383.5" y="2117.5">15</text>
<text x="2440" y="2118">VD5</text>
<text x="2339.5" y="2150.5">D6</text>
<text x="2383.5" y="2141">16</text>
<text x="2440" y="2141.5">VD6</text>
<text x="2339.5" y="2174">D7</text>
<text x="2383.5" y="2164.5">17</text>
<text x="2440" y="2165">VD7</text>
<text x="2280.5" y="2007.5">ROM</text>
<text x="2273.5" y="2290">D101</text>
<text x="2333" y="2290">VPP</text>
<text x="2383.5" y="2281.5">21</text>
<text x="2414" y="2282">+5V</text>
<text x="2289.5" y="2344" text-anchor="end">1</text>
<text x="2296.5" y="2352.5">E1</text>
<text x="2289.5" y="2367.5" text-anchor="end">2</text>
<text x="2296.5" y="2376">A0</text>
<text x="2400.5" y="2367.5">18</text>
<text x="2365.5" y="2377">B0</text>
<text x="2289.5" y="2391" text-anchor="end">4</text>
<text x="2296.5" y="2399.5">A1</text>
<text x="2400.5" y="2391">16</text>
<text x="2365.5" y="2400.5">B1</text>
<text x="2289.5" y="2414.5" text-anchor="end">6</text>
<text x="2296.5" y="2423">A2</text>
<text x="2400.5" y="2414.5">14</text>
<text x="2365.5" y="2424">B2</text>
<text x="2289.5" y="2438" text-anchor="end">8</text>
<text x="2296.5" y="2446.5">A3</text>
<text x="2400.5" y="2438">12</text>
<text x="2365.5" y="2447.5">B3</text>
<text x="2289.5" y="2461.5" text-anchor="end">11</text>
<text x="2296.5" y="2470">A4</text>
<text x="2400.5" y="2461.5">9</text>
<text x="2365.5" y="2471">B4</text>
<text x="2289.5" y="2485" text-anchor="end">13</text>
<text x="2296.5" y="2493.5">A5</text>
<text x="2400.5" y="2485">7</text>
<text x="2365.5" y="2494.5">B5</text>
<text x="2289.5" y="2508" text-anchor="end">15</text>
<text x="2296.5" y="2516.5">A6</text>
<text x="2400.5" y="2508">5</text>
<text x="2365.5" y="2517.5">B6</text>
<text x="2289.5" y="2531.5" text-anchor="end">17</text>
<text x="2296.5" y="2540">A7</text>
<text x="2400.5" y="2531.5">3</text>
<text x="2365.5" y="2541">B7</text>
<text x="2289.5" y="2555" text-anchor="end">19</text>
<text x="2296.5" y="2563.5">E2</text>
<text x="2193.5" y="2344">ACS</text>
<text x="2202" y="2368">A13</text>
<text x="2440" y="2368">VD5</text>
<text x="2202" y="2391.5">A11</text>
<text x="2440" y="2391.5">VD3</text>
<text x="2209" y="2415">A9</text>
<text x="2440" y="2415">VD1</text>
<text x="2202" y="2438.5">A10</text>
<text x="2440" y="2438.5">VD2</text>
<text x="2202" y="2462">A12</text>
<text x="2440" y="2462">VD4</text>
<text x="2209" y="2485.5">A8</text>
<text x="2440" y="2485.5">VD0</text>
<text x="2202" y="2508.5">A14</text>
<text x="2440" y="2508.5">VD6</text>
<text x="2202" y="2532">A15</text>
<text x="2440" y="2532">VD7</text>
<text x="929" y="2657.5">3</text>
<text x="972.5" y="2657.5">ADCIN</text>
<text x="970" y="2807">ANGR</text>
<text x="929" y="2845.5">16</text>
<text x="978" y="2846">+5V</text>
<text x="929" y="2868.5">7</text>
<text x="970" y="2869">-15V</text>
<text x="929" y="2892">8</text>
<text x="978" y="2892.5">GND</text>
<text x="1066" y="2625">+5V</text>
<text x="1143" y="2635" text-anchor="middle">R12</text>
<text x="1192.5" y="2626">DATA_K</text>
<text x="1085.5" y="2666">CLK_K</text>
<text x="1204.5" y="2658" font-size="19.6875">VD49</text>
<text x="1284.5" y="2666">RS</text>
<text x="1216.5" y="2700" text-anchor="middle" font-size="29.25">&amp;</text>
<text x="1197" y="2721">D38</text>
<text x="1180.5" y="2688.5" text-anchor="end">12</text>
<text x="1180.5" y="2712.5" text-anchor="end">13</text>
<text x="1246.5" y="2696.5">11</text>
<text x="1071" y="2688.5">INT_D</text>
<text x="1071" y="2712.5">INT_T</text>
<text x="1324.5" y="2696.5">INTZ</text>
<text x="1063.5" y="2744.5" text-anchor="middle">R70</text>
<text x="978.5" y="2735">+5V</text>
<text x="1051.5" y="2775">KEYRD</text>
<text x="1207.5" y="2776" text-anchor="middle">1</text>
<text x="1183.5" y="2795">D76</text>
<text x="1171.5" y="2774.5" text-anchor="end">9</text>
<text x="1238.5" y="2774.5">8</text>
<text x="1280" y="2774.5">KEYRD</text>
<text x="1321.5" y="2813.5" text-anchor="end">1</text>
<text x="1335" y="2822">R</text>
<text x="1321.5" y="2837" text-anchor="end">2</text>
<text x="1335" y="2845.5">D</text>
<text x="1321.5" y="2860.5" text-anchor="end">3</text>
<text x="1335" y="2869">C</text>
<text x="1321.5" y="2884" text-anchor="end">4</text>
<text x="1335" y="2892.5">S</text>
<text x="1365" y="2821.5">TT</text>
<text x="1405" y="2821.5">Q</text>
<text x="1374" y="2853.5">D71</text>
<text x="1366.5" y="2892.5">TM2</text>
<text x="1405" y="2892.5">Q</text>
<text x="1422" y="2813.5">5</text>
<text x="1422" y="2884">6</text>
<text x="1260" y="2813.5">+5V</text>
<text x="1225" y="2837.5">W_ON</text>
<text x="1218" y="2860.5">KEYRD</text>
<text x="1172.5" y="2881" text-anchor="middle" font-size="29.25">&amp;</text>
<text x="1153" y="2901">D79</text>
<text x="1136.5" y="2868.5" text-anchor="end">9</text>
<text x="1136.5" y="2892.5" text-anchor="end">10</text>
<text x="1202.5" y="2876">8</text>
<text x="1066.5" y="2868.5">VWR</text>
<text x="1072" y="2892.5">RS</text>
<text x="1321.5" y="2641">-15V</text>
<text x="1550" y="2509" text-anchor="end">2</text>
<text x="1557" y="2517.5">S0</text>
<text x="1550" y="2532" text-anchor="end">1</text>
<text x="1557" y="2540.5">S0</text>
<text x="1550" y="2579" text-anchor="end">13</text>
<text x="1557" y="2587.5">A0</text>
<text x="1550" y="2602.5" text-anchor="end">3</text>
<text x="1557" y="2611">A1</text>
<text x="1550" y="2649.5" text-anchor="end">15</text>
<text x="1557" y="2658">E0</text>
<text x="1550" y="2673" text-anchor="end">14</text>
<text x="1557" y="2681.5">E1</text>
<text x="1462.5" y="2509">VRD</text>
<text x="1462.5" y="2532">+5V</text>
<text x="1471" y="2579">VA8</text>
<text x="1471" y="2641">GND</text>
<text x="1462.5" y="2673">VWR</text>
<text x="1660.5" y="2509">7</text>
<text x="1628" y="2518.5">Q0</text>
<text x="1660.5" y="2532.5">6</text>
<text x="1628" y="2542">Q1</text>
<text x="1660.5" y="2556">5</text>
<text x="1628" y="2565.5">Q2</text>
<text x="1660.5" y="2579.5">4</text>
<text x="1628" y="2589">Q3</text>
<text x="1660.5" y="2603">9</text>
<text x="1628" y="2612.5">Q4</text>
<text x="1660.5" y="2626.5">10</text>
<text x="1628" y="2636">Q5</text>
<text x="1660.5" y="2650">11</text>
<text x="1628" y="2659.5">Q6</text>
<text x="1660.5" y="2673">12</text>
<text x="1628" y="2682.5">Q7</text>
<text x="1770.5" y="2509">ACS</text>
<text x="1763" y="2532.5">KRDV</text>
<text x="1591.5" y="2517.5">DC</text>
<text x="1683.5" y="2740" text-anchor="middle" font-size="29.25">&amp;</text>
<text x="1663.5" y="2760">D79</text>
<text x="1647.5" y="2727.5" text-anchor="end">12</text>
<text x="1647.5" y="2751.5" text-anchor="end">13</text>
<text x="1714.5" y="2735.5">11</text>
<text x="1747" y="2735.5">VEBUF</text>
<text x="1683.5" y="2794" text-anchor="middle" font-size="29.25">&amp;</text>
<text x="1663.5" y="2815">D73</text>
<text x="1647.5" y="2782.5" text-anchor="end">1</text>
<text x="1647.5" y="2806" text-anchor="end">2</text>
<text x="1716.5" y="2788">3</text>
<text x="1780" y="2790.5">KRD</text>
<text x="1476" y="2839">WAIT_V</text>
<text x="1476" y="2869">WAIT_H</text>
<text x="1622" y="2857" text-anchor="middle" font-size="29.25">&amp;</text>
<text x="1603" y="2877.5">D79</text>
<text x="1586.5" y="2845.5" text-anchor="end">1</text>
<text x="1586.5" y="2868.5" text-anchor="end">2</text>
<text x="1651.5" y="2853.5">3</text>
<text x="1695.5" y="2853.5">WAIT_I</text>
<text x="1769" y="2884">RS</text>
<text x="1956" y="2579" text-anchor="end">1</text>
<text x="1963" y="2587.5">E1</text>
<text x="1956" y="2602.5" text-anchor="end">2</text>
<text x="1963" y="2611">A0</text>
<text x="2065" y="2602.5">18</text>
<text x="2032" y="2612">B0</text>
<text x="1956" y="2626" text-anchor="end">4</text>
<text x="1963" y="2634.5">A1</text>
<text x="2065" y="2626">16</text>
<text x="2032" y="2635.5">B1</text>
<text x="1956" y="2649.5" text-anchor="end">6</text>
<text x="1963" y="2658">A2</text>
<text x="2065" y="2649.5">14</text>
<text x="2032" y="2659">B2</text>
<text x="1956" y="2673" text-anchor="end">8</text>
<text x="1963" y="2681.5">A3</text>
<text x="2065" y="2673">12</text>
<text x="2032" y="2682.5">B3</text>
<text x="1956" y="2696.5" text-anchor="end">11</text>
<text x="1963" y="2705">A4</text>
<text x="2065" y="2696.5">9</text>
<text x="2032" y="2706">B4</text>
<text x="1956" y="2720" text-anchor="end">13</text>
<text x="1963" y="2728.5">A5</text>
<text x="2065" y="2720">7</text>
<text x="2032" y="2729.5">B5</text>
<text x="1956" y="2743" text-anchor="end">15</text>
<text x="1963" y="2751.5">A6</text>
<text x="2065" y="2743">5</text>
<text x="2032" y="2752.5">B6</text>
<text x="1956" y="2766.5" text-anchor="end">17</text>
<text x="1963" y="2775">A7</text>
<text x="2065" y="2766.5">3</text>
<text x="2032" y="2776">B7</text>
<text x="1956" y="2790" text-anchor="end">19</text>
<text x="1963" y="2798.5">E2</text>
<text x="1868.5" y="2579">KRD</text>
<text x="1883" y="2603">Z</text>
<text x="2111.5" y="2603">D5</text>
<text x="1868.5" y="2626.5">TIN</text>
<text x="2111.5" y="2626.5">D6</text>
<text x="1868.5" y="2673.5">KD1</text>
<text x="2111.5" y="2673.5">D0</text>
<text x="1868.5" y="2697">KD2</text>
<text x="2111.5" y="2697">D1</text>
<text x="1868.5" y="2720.5">KD3</text>
<text x="2111.5" y="2720.5">D2</text>
<text x="1868.5" y="2743.5">KD4</text>
<text x="2111.5" y="2743.5">D3</text>
<text x="1868.5" y="2767">KD5</text>
<text x="2111.5" y="2767">D4</text>
<text x="1973" y="2829">GND</text>
<text x="2026" y="2853" font-size="19.6875">C11</text>
<text x="1886.5" y="2885" text-anchor="middle">1</text>
<text x="1863" y="2904">D80</text>
<text x="1851" y="2884.5" text-anchor="end">11</text>
<text x="1917" y="2884.5">10</text>
<text x="2005" y="2893.5" text-anchor="middle">R85</text>
<text x="2128" y="2884.5">RS</text>
</g>
<g stroke="#fff" stroke-width="0.45">
<text x="50" y="59" font-size="58" font-family="Liberation Sans, sans-serif" stroke-width="1.8"><tspan textLength="62" lengthAdjust="spacingAndGlyphs">Ver</tspan><tspan dx="9" textLength="76" lengthAdjust="spacingAndGlyphs" stroke-width="0.3">7.10</tspan></text>
<text transform="translate(167,382.5) rotate(-90) scale(0.889,1)">555IE10</text>
<text transform="translate(167,466) rotate(-90) scale(0.889,1)">D110</text>
<text transform="translate(504,518) rotate(-90) scale(0.889,1.12)" font-size="48.9375" stroke="#fff" stroke-width="2.45">1818VG93</text>
<text transform="translate(496,663) rotate(-90) scale(0.889,1)">D89</text>
<text transform="translate(902,369.5) rotate(-90) scale(0.889,1)">C14</text>
<text transform="translate(1081,421) rotate(-90) scale(0.889,1)">555IE10</text>
<text transform="translate(1081,498) rotate(-90) scale(0.889,1)">D90</text>
<text transform="translate(1331,236) rotate(-90) scale(0.889,1)">R7</text>
<text transform="translate(1355,236) rotate(-90) scale(0.889,1)">R8</text>
<text transform="translate(1378,236) rotate(-90) scale(0.889,1)">R9</text>
<text transform="translate(1402,241) rotate(-90) scale(0.889,1)">R10</text>
<text transform="translate(1332.5,422.5) rotate(-90) scale(0.889,1)">155RU2</text>
<text transform="translate(1332.5,505) rotate(-90) scale(0.889,1)">D26</text>
<text transform="translate(1585.5,32.5) scale(0.889,1)" font-size="29.3287" stroke="#fff" stroke-width="0.8">R2-R3,R5 - 10k</text>
<text transform="translate(1585.5,56) scale(0.889,1)" font-size="29.3287" stroke="#fff" stroke-width="0.8">R4 - 470</text>
<text transform="translate(1585.5,79) scale(0.889,1)" font-size="29.3287" stroke="#fff" stroke-width="0.8">R6 - 2.2k</text>
<text transform="translate(1585.5,102.5) scale(0.889,1)" font-size="29.3287" stroke="#fff" stroke-width="0.8">R15 - 820</text>
<text transform="translate(1585.5,126) scale(0.889,1)" font-size="29.3287" stroke="#fff" stroke-width="0.8">R16,R61 - 470</text>
<text transform="translate(1585.5,149.5) scale(0.889,1)" font-size="29.3287" stroke="#fff" stroke-width="0.8">R17,R20 - 1k</text>
<text transform="translate(1585.5,173) scale(0.889,1)" font-size="29.3287" stroke="#fff" stroke-width="0.8">R18,R19 - 2.2k</text>
<text transform="translate(1585.5,196.5) scale(0.889,1)" font-size="29.3287" stroke="#fff" stroke-width="0.8">R21,R22 - 2.2k</text>
<text transform="translate(1585.5,220) scale(0.889,1)" font-size="29.3287" stroke="#fff" stroke-width="0.8">R23,R27 - 560</text>
<text transform="translate(1585.5,243.5) scale(0.889,1)" font-size="29.3287" stroke="#fff" stroke-width="0.8">R24,R25 - 10k</text>
<text transform="translate(1585.5,267) scale(0.889,1)" font-size="29.3287" stroke="#fff" stroke-width="0.8">R26 - 20k</text>
<text transform="translate(1585.5,290.5) scale(0.889,1)" font-size="29.3287" stroke="#fff" stroke-width="0.8">R28,R29 - 20k</text>
<text transform="translate(1585.5,314) scale(0.889,1)" font-size="29.3287" stroke="#fff" stroke-width="0.8">R38 - 1k</text>
<text transform="translate(1585.5,337.5) scale(0.889,1)" font-size="29.3287" stroke="#fff" stroke-width="0.8">R39 - 10k</text>
<text transform="translate(1585.5,360.5) scale(0.889,1)" font-size="29.3287" stroke="#fff" stroke-width="0.8">R41 - 620</text>
<text transform="translate(1585.5,384) scale(0.889,1)" font-size="29.3287" stroke="#fff" stroke-width="0.8">R42 - 100k</text>
<text transform="translate(1585.5,407.5) scale(0.889,1)" font-size="29.3287" stroke="#fff" stroke-width="0.8">R49,R51,R53 - 100(150)</text>
<text transform="translate(1585.5,431) scale(0.889,1)" font-size="29.3287" stroke="#fff" stroke-width="0.8">R50,R52,R54 - 47</text>
<text transform="translate(1585.5,454.5) scale(0.889,1)" font-size="29.3287" stroke="#fff" stroke-width="0.8">R57-R59 - 10k</text>
<text transform="translate(1585.5,478) scale(0.889,1)" font-size="29.3287" stroke="#fff" stroke-width="0.8">R62-R65 - 1k</text>
<text transform="translate(1585.5,501.5) scale(0.889,1)" font-size="29.3287" stroke="#fff" stroke-width="0.8">R66 - 1M</text>
<text transform="translate(1585.5,525) scale(0.889,1)" font-size="29.3287" stroke="#fff" stroke-width="0.8">R67 - 18k</text>
<text transform="translate(1585.5,548.5) scale(0.889,1)" font-size="29.3287" stroke="#fff" stroke-width="0.8">R68 - 220</text>
<text transform="translate(1585.5,572) scale(0.889,1)" font-size="29.3287" stroke="#fff" stroke-width="0.8">R69,R70 - 1k</text>
<text transform="translate(1585.5,595.5) scale(0.889,1)" font-size="29.3287" stroke="#fff" stroke-width="0.8">R95,R60 - 1k</text>
<text transform="translate(1585.5,619) scale(0.889,1)" font-size="29.3287" stroke="#fff" stroke-width="0.8">R80 - 50/0.5W</text>
<text transform="translate(1585.5,642.5) scale(0.889,1)" font-size="29.3287" stroke="#fff" stroke-width="0.8">R86,R96 - 1k</text>
<text transform="translate(1585.5,665.5) scale(0.889,1)" font-size="29.3287" stroke="#fff" stroke-width="0.8">R84,R97 - 30k</text>
<text transform="translate(1585.5,689) scale(0.889,1)" font-size="29.3287" stroke="#fff" stroke-width="0.8">R89-R92 - 300</text>
<text transform="translate(1585.5,712.5) scale(0.889,1)" font-size="29.3287" stroke="#fff" stroke-width="0.8">R93,R94 - 15-30</text>
<text transform="translate(1585.5,736) scale(0.889,1)" font-size="29.3287" stroke="#fff" stroke-width="0.8">R81 - 30k</text>
<text transform="translate(1914,470) scale(0.889,1)" font-size="29.3287" stroke="#fff" stroke-width="0.8">R85 - 3k</text>
<text transform="translate(1914,493.5) scale(0.889,1)" font-size="29.3287" stroke="#fff" stroke-width="0.8">R1 - 1k</text>
<text transform="translate(1914,517) scale(0.889,1)" font-size="29.3287" stroke="#fff" stroke-width="0.8">R7-R10 - 1k</text>
<text transform="translate(1914,540.5) scale(0.889,1)" font-size="29.3287" stroke="#fff" stroke-width="0.8">R12 - 1k</text>
<text transform="translate(1914,564) scale(0.889,1)" font-size="29.3287" stroke="#fff" stroke-width="0.8">R82 - 5k</text>
<text transform="translate(1914,587.5) scale(0.889,1)" font-size="29.3287" stroke="#fff" stroke-width="0.8">R14 - 1k</text>
<text transform="translate(1914,611) scale(0.889,1)" font-size="29.3287" stroke="#fff" stroke-width="0.8">R30 - 1k</text>
<text transform="translate(1914,634) scale(0.889,1)" font-size="29.3287" stroke="#fff" stroke-width="0.8">R32 - 10</text>
<text transform="translate(1914,657.5) scale(0.889,1)" font-size="29.3287" stroke="#fff" stroke-width="0.8">R31 - 1k</text>
<text transform="translate(1914,681) scale(0.889,1)" font-size="29.3287" stroke="#fff" stroke-width="0.8">R33 - 10k</text>
<text transform="translate(1914,704.5) scale(0.889,1)" font-size="29.3287" stroke="#fff" stroke-width="0.8">R34 - 24k</text>
<text transform="translate(1914,728) scale(0.889,1)" font-size="29.3287" stroke="#fff" stroke-width="0.8">R35 - 210</text>
<text transform="translate(1914,751.5) scale(0.889,1)" font-size="29.3287" stroke="#fff" stroke-width="0.8">RS1 - 10k</text>
<text transform="translate(1914,775) scale(0.889,1)" font-size="29.3287" stroke="#fff" stroke-width="0.8">RS2-RS4 - 1k(sborka)</text>
<text transform="translate(1610,809) scale(0.889,0.95)" font-size="24.4125" stroke="#fff" stroke-width="0.5">Na D71/13 and GND - C with capacity 170pF*</text>
<text transform="translate(1585.5,837) scale(0.889,1)" font-size="29.3287" stroke="#fff" stroke-width="0.8">VT2,VT4,VT6 - kt972(kt815)</text>
<text transform="translate(1585.5,860.5) scale(0.889,1)" font-size="29.3287" stroke="#fff" stroke-width="0.8">VT1,VT5,VT7 - kt973(kt814)</text>
<text transform="translate(1585.5,884) scale(0.889,1)" font-size="29.3287" stroke="#fff" stroke-width="0.8">VT3         - kt315</text>
<text transform="translate(1585.5,932.5) scale(0.889,1)" font-size="29.3287" stroke="#fff" stroke-width="0.8">C1 - 0.1mkF</text>
<text transform="translate(1585.5,956) scale(0.889,1)" font-size="29.3287" stroke="#fff" stroke-width="0.8">C2 - 10nF</text>
<text transform="translate(1585.5,979.5) scale(0.889,1)" font-size="29.3287" stroke="#fff" stroke-width="0.8">C3-C5 - 0.1mkF</text>
<text transform="translate(1585.5,1003) scale(0.889,1)" font-size="29.3287" stroke="#fff" stroke-width="0.8">C8 - 220pF</text>
<text transform="translate(1585.5,1026.5) scale(0.889,1)" font-size="29.3287" stroke="#fff" stroke-width="0.8">C9 - 220pF</text>
<text transform="translate(1585.5,1050) scale(0.889,1)" font-size="29.3287" stroke="#fff" stroke-width="0.8">C10 - 330pF</text>
<text transform="translate(1585.5,1073.5) scale(0.889,1)" font-size="29.3287" stroke="#fff" stroke-width="0.8">C11 - 0.1mkF</text>
<text transform="translate(1585.5,1096.5) scale(0.889,1)" font-size="29.3287" stroke="#fff" stroke-width="0.8">C12 - 1mkF</text>
<text transform="translate(1585.5,1120) scale(0.889,1)" font-size="29.3287" stroke="#fff" stroke-width="0.8">C14 - 330pF *</text>
<text transform="translate(1585.5,1143.5) scale(0.889,1)" font-size="29.3287" stroke="#fff" stroke-width="0.8">C15 - 1mkF</text>
<text transform="translate(1585.5,1167) scale(0.889,1)" font-size="29.3287" stroke="#fff" stroke-width="0.8">C16 - 0-25pF*</text>
<text transform="translate(1585.5,1190.5) scale(0.889,1)" font-size="29.3287" stroke="#fff" stroke-width="0.8">C17 - 1nF*</text>
<text transform="translate(1585.5,1214) scale(0.889,1)" font-size="29.3287" stroke="#fff" stroke-width="0.8">C19 - 1mkF</text>
<text transform="translate(1585.5,1237.5) scale(0.889,1)" font-size="29.3287" stroke="#fff" stroke-width="0.8">C20 - 750pF</text>
<text transform="translate(1585.5,1261) scale(0.889,1)" font-size="29.3287" stroke="#fff" stroke-width="0.8">C22-C25 - 10mkFx16v</text>
<text transform="translate(1585.5,1284.5) scale(0.889,1)" font-size="29.3287" stroke="#fff" stroke-width="0.8">C26 - 1nF</text>
<text transform="translate(1585.5,1308) scale(0.889,1)" font-size="29.3287" stroke="#fff" stroke-width="0.8">C6,C7 - 10mkF x 16v</text>
<text transform="translate(1585.5,1331.5) scale(0.889,1)" font-size="29.3287" stroke="#fff" stroke-width="0.8">C27,C28 - 100pF</text>
<text transform="translate(1585.5,1355) scale(0.889,1)" font-size="29.3287" stroke="#fff" stroke-width="0.8">C29 - 1mkF</text>
<text transform="translate(1867,932.5) scale(0.889,1)" font-size="29.3287" stroke="#fff" stroke-width="0.8">VD1-VD8    - kd521(522)</text>
<text transform="translate(1867,956) scale(0.889,1)" font-size="29.3287" stroke="#fff" stroke-width="0.8">VD28-VD33 - kd521(522)</text>
<text transform="translate(1867,979.5) scale(0.889,1)" font-size="29.3287" stroke="#fff" stroke-width="0.8">VD41,VD42 - kd521(522)</text>
<text transform="translate(1867,1003) scale(0.889,1)" font-size="29.3287" stroke="#fff" stroke-width="0.8">VD46 - kd521(522)</text>
<text transform="translate(1867,1026.5) scale(0.889,1)" font-size="29.3287" stroke="#fff" stroke-width="0.8">VD34,VD45 - d9</text>
<text transform="translate(1867,1050) scale(0.889,1)" font-size="29.3287" stroke="#fff" stroke-width="0.8">VD49 - kd521(522)</text>
<text transform="translate(1867,1073.5) scale(0.889,1)" font-size="29.3287" stroke="#fff" stroke-width="0.8">VD48 - d814g</text>
<text transform="translate(1867,1096.5) scale(0.889,1)" font-size="29.3287" stroke="#fff" stroke-width="0.8">VD50 - al307</text>
<text transform="translate(1944,1214) scale(0.889,1)" font-size="29.3287" stroke="#fff" stroke-width="0.8">X1,X2,X4 - ONP-40</text>
<text transform="translate(1944,1237.5) scale(0.889,1)" font-size="29.3287" stroke="#fff" stroke-width="0.8">I1 - SNP24 *</text>
<text transform="translate(1944,1261) scale(0.889,1)" font-size="29.3287" stroke="#fff" stroke-width="0.8">T1 - 410mkHenry</text>
<text transform="translate(1952.5,1324.5) scale(0.889,1)" font-size="29.3287" stroke="#fff" stroke-width="0.8">U1 - 14MHz</text>
<text transform="translate(1952.5,1348) scale(0.889,1)" font-size="29.3287" stroke="#fff" stroke-width="0.8">U2 - 8MHz</text>
<text transform="translate(1952.5,1371.5) scale(0.889,1)" font-size="29.3287" stroke="#fff" stroke-width="0.8">X3 - ONP-24</text>
<text transform="translate(199,714.5) rotate(-90) scale(0.889,1)">555TM8</text>
<text transform="translate(199,902) rotate(-90) scale(0.889,1)">555ID7</text>
<text transform="translate(199,984) rotate(-90) scale(0.889,1)">D93</text>
<text transform="translate(926,594.5) scale(0.889,1)" text-anchor="middle" font-size="36" stroke="#fff" stroke-width="1.6">1</text>
<text transform="translate(1004,830) rotate(-90) scale(0.889,1)">555IR16</text>
<text transform="translate(1294,720) rotate(-90) scale(0.889,1)">555KP11</text>
<text transform="translate(1294,804) rotate(-90) scale(0.889,1)">D59</text>
<text transform="translate(385.5,1080.5) scale(0.889,1)" text-anchor="middle" font-size="36" stroke="#fff" stroke-width="1.6">1</text>
<text transform="translate(307.5,1174.5) scale(0.889,1)" text-anchor="middle" font-size="36" stroke="#fff" stroke-width="1.6">1</text>
<text transform="translate(181.5,1417.5) scale(0.889,1)" text-anchor="middle" font-size="36" stroke="#fff" stroke-width="1.6">1</text>
<text transform="translate(315,1393.5) scale(0.889,1)" text-anchor="middle" font-size="36" stroke="#fff" stroke-width="1.6">1</text>
<text transform="translate(558,1395) rotate(-90) scale(0.889,1)" font-size="18.5625">555AG3</text>
<text transform="translate(558,1446) rotate(-90) scale(0.889,1)">D81</text>
<text transform="translate(441,1426) rotate(-90) scale(0.889,1)">C19</text>
<text transform="translate(667,1426) rotate(-90) scale(0.889,1)">C20</text>
<text transform="translate(799.5,1395) rotate(-90) scale(0.889,1)" font-size="18.5625">555AG3</text>
<text transform="translate(799.5,1446) rotate(-90) scale(0.889,1)">D81</text>
<text transform="translate(214,1647) rotate(-90) scale(0.889,1)">572PA1</text>
<text transform="translate(214,1751) rotate(-90) scale(0.889,1)">DA1</text>
<text transform="translate(214,1936) rotate(-90) scale(0.889,1)">572PA1</text>
<text transform="translate(214,2040) rotate(-90) scale(0.889,1)">DA3</text>
<text transform="translate(800,1841) rotate(-90) scale(0.889,1)">R30</text>
<text transform="translate(1082.5,1608) rotate(-90) scale(0.889,1)">555ID7</text>
<text transform="translate(1082.5,1690) rotate(-90) scale(0.889,1)">D31</text>
<text transform="translate(1396,1684) rotate(-90) scale(0.889,1)">555IR23</text>
<text transform="translate(1686,1660.5) rotate(-90) scale(0.889,1)">555IR23</text>
<text transform="translate(1919.5,1701.5) rotate(-90) scale(0.889,1)">555AP6</text>
<text transform="translate(1919.5,1776.5) rotate(-90) scale(0.889,1)">D34</text>
<text transform="translate(199,2185) rotate(-90) scale(0.889,1)">1108PA1</text>
<text transform="translate(199,2322.5) rotate(-90) scale(0.889,1)">DA3A</text>
<text transform="translate(369,2232) rotate(-90) scale(0.889,1)" font-size="16.875">E</text>
<text transform="translate(407,2209) rotate(-90) scale(0.889,1)" font-size="16.875">B</text>
<text transform="translate(440,2171) rotate(-90) scale(0.889,1)">C26</text>
<text transform="translate(431,2227.5) rotate(-90) scale(0.889,1)" font-size="19.125">VT3</text>
<text transform="translate(439,2243) rotate(-90) scale(0.889,1)" font-size="16.875">C</text>
<text transform="translate(261,2555) rotate(90) scale(0.889,1)">155IR17</text>
<text transform="translate(261,2751) rotate(90) scale(0.889,1)">D28</text>
<text transform="translate(489,2655) rotate(-90) scale(0.889,1)">555IR23</text>
<text transform="translate(753,2477.5) rotate(-90) scale(0.889,1)">555AP5</text>
<text transform="translate(753,2566) rotate(-90) scale(0.889,1)">D35</text>
<text transform="translate(784.5,2759) rotate(-90) scale(0.889,1)">561KP2</text>
<text transform="translate(784.5,2880) rotate(-90) scale(0.889,1)">DA5</text>
<text transform="translate(1309,2433) rotate(-90) scale(0.889,1)" font-size="15.75">J9</text>
<text transform="translate(1309,2456.5) rotate(-90) scale(0.889,1)" font-size="15.75">J8</text>
<text transform="translate(1482.5,2214) rotate(-90) scale(0.889,1)">1816VE31</text>
<text transform="translate(1482.5,2464) rotate(-90) scale(0.889,1)">D100</text>
<text transform="translate(1788,2091.5) rotate(-90) scale(0.889,1)">555IR23</text>
<text transform="translate(1795.5,2468.5) rotate(-90) scale(0.889,1)">555AP6</text>
<text transform="translate(1795.5,2543.5) rotate(-90) scale(0.889,1)">D102</text>
<text transform="translate(2062,2227.5) rotate(-90) scale(0.889,1.12)" font-size="48.9375" stroke="#fff" stroke-width="2.45">573RF2</text>
<text transform="translate(2091.5,2454) rotate(-90) scale(0.889,1)">555AP5</text>
<text transform="translate(2091.5,2542.5) rotate(-90) scale(0.889,1)">D108</text>
<text transform="translate(847.5,2706) rotate(-90) scale(0.889,1)">C17</text>
<text transform="translate(1435,2611) rotate(-90) scale(0.889,1)">555ID4</text>
<text transform="translate(1435,2684) rotate(-90) scale(0.889,1)">D103</text>
<text transform="translate(1795,2689) rotate(-90) scale(0.889,1)">555AP5</text>
<text transform="translate(1795,2777.5) rotate(-90) scale(0.889,1)">D45</text>
</g>
<path class="n" d="M167 73H183V135H167ZM159 87V120M191 87V120M57.5 104.5H159M191 104.5H292M57.5 104.5V222H104M57.5 182H89M89 159H144V206H89ZM150 182H206M175 182V222M206 159H261V206H206ZM267 182H425M104 211H144V233H104ZM144 222H214M214 211H253V233H214ZM253 222H292M292 104.5V245H73V300H112.5M206 370H300V222H402M324 175H425M324 175V546M112.5 261H206V479.5H112.5ZM144 261V479.5M175 261V479.5M112.5 312H144M112.5 405.5H144M112.5 452.5H144M122.5 264H134.5M81 276.5H109.5M86 323H112.5M86 346.5H112.5M86 370H112.5M86 393.5H112.5M81 417H112.5M81 440.5H112.5M42 464H109.5M81 276.5V464M206 276.5H234M206 323H234M206 417H234M206 464H234"/>
<path class="n" d="M402 205H573V684H402ZM465.5 205V684M512.5 205V684M402 233H465.5M402 421H465.5M402 539.5H465.5M402 645.5H465.5M512.5 269H573M512.5 397.5H573M512.5 633.5H573M422 468H446M422 491.5H446M422 515H446M410 538.5H458M410 562H458M416 585.5H452M416 608.5H452M332 246H402M332 269.5H402M332 293H402M332 316H402M332 339.5H402M332 363H402M332 386.5H402M332 410H402M332 433.5H402M332 457H402M332 480.5H399M343 460H367M332 504H399M343 483.5H367M573 222.5H661M573 246H661M573 339.5H661M573 363H661M573 386.5H661M573 410H661M573 433.5H661M573 457H661M573 480.5H661"/>
<path class="n" d="M573 504H661M573 527.5H661M573 551H661M573 293H644V308H840.5V245H996V206H957.5M573 316H879.5V253H1279V81H1216M504.5 34.5H589.5V135H504.5ZM535 34.5V135M504.5 61H535M504.5 108H535M514.5 37H526.5M514.5 107.5H526.5M576.5 107.5H588.5M418 49.5H501.5M473 49.5V26H1098V151.5H1127M652.5 26V65.5H688M426 73H504.5M504.5 96.5H441V190.5H832.5V276M501.5 120H465.5V159H855.5V504H1025M589 49.5H628V88H691M592 120H617M691 49.5H777V150H691ZM721.5 49.5V150M691 76H721.5M691 123H721.5M701 52H713M701 122.5H713M764 122.5H776M691 112.5H652.5V182M688 135.5H644V175H324M777 65.5H824V159M824 88H910M780 135.5H805M425 182H848M661 276H738M738 253H793V300H738ZM799 276H910V441M661 347H722M722 335.5H761V358.5H722ZM761 347H777M661 370.5H722"/>
<path class="n" d="M722 358.5H761V382H722ZM761 370.5H777M661 394H722M722 382H761V405.5H722ZM761 394H777M661 417H722M722 405.5H761V429H722ZM761 417H777M777 347V417M777 347H809M754 433H808V487.5H754ZM661 449H754M661 472H754M808 456H840.5V817H942.5M910 49.5H996V150H910ZM940.5 49.5V150M910 76H940.5M910 123H940.5M920 52H932M920 122.5H932M983 122.5H995M871 26V135.5H907M871 65.5H907M1098 81H1127M910 112.5H848V684H1177V707H1240M996 65.5H1028V159H871.5V222H902.5M999 135.5H1024M855.5 198H902.5M902.5 182H957.5V237H902.5ZM1028 300H1122V518H1028ZM1059 300V518M1090 300V518M1028 351H1059M1028 444.5H1059M1028 491H1059M1038 303.5H1050M934 457H1028M1032 491.5H1056M996 457V480.5H1028M1122 504H1149"/>
<path class="n" d="M1025 316H981V566H1380V614H1333M1028 339.5H989V558H1388V660.5H1333M1028 363H973V292H1404.5V316H1375M1028 386.5H965V284H1412V339.5H1375M1028 410H957V276H1419V363H1375M1028 433.5H949V269H1427V386.5H1375M1122 316H1279M1153 316V534H855.5V723H939.5M1122 363H1161V339.5H1279M1122 410H1169V363H1279M1122 457H1177V198H1090V128H1130M1177 386.5H1279M1130 65.5H1216V166H1130ZM1160.5 65.5V166M1130 92H1160.5M1130 139H1160.5M1140 68H1152M1140 138.5H1152M1203 138.5H1215M1130 104H1083V175H1247.5V151.5H1219M1294 190.5H1396V206M1314 206H1408V245H1314ZM1325 190.5V206M1337 206V245M1325 245V292M1349 190.5V206M1361 206V245M1349 245V284.5M1372 190.5V206M1384 206V245M1372 245V276.5M1396 245V269M1279 300H1372V541H1279ZM1310 300V541M1341 300V541M1279 398H1310M1279 445H1310M1283 397.5H1307M1199.5 410H1276M1283 421H1307"/>
<path class="n" d="M1276 433.5H1192.5V551H1396V707.5H1333M1208 457H1279M1208 480.5H1279M1208 504H1279M1208 527.5H1279M1346 304.5H1370M1346 328H1370M1346 351.5H1370M1346 375H1370M316 527.5H399M316 527.5V809H465.5V1021M332 551H399M371 551V668H402M332 574.5H399M399 598H347V793H613V840.5M347 692H589V684H816V668H1130V613H1240M399 621H308V723H824V699H1114V778H1240M324 546V621M136 598H245V793H136ZM167 598V793M214 598V793M136 731H167M42 613.5H136M42 637H136M42 660H136M42 683.5H136M146 765H158M80 777.5H133M136 754H65.5V801H473V974M218 625.5H242M248 637H274M218 672H242M248 683.5H274M218 719H242M248 730.5H274M218 766H242M245 613.5H339V707H661M245 660H347M245 707H308M245 754H661"/>
<path class="n" d="M248 777.5H661M144 817H238V1013H144ZM175 817V1013M206 817V1013M144 902.5H175M42 833H144M59 812.5H83M42 856.5H144M42 880H144M148 914.5H172M42 927H141M59 906.5H107M148 938H172M42 950.5H141M50 930H110M42 974H144M210 821.5H234M210 845H234M210 868.5H234M210 892H234M210 915.5H234M210 939H234M210 962.5H234M210 985.5H234M241 833H363M306 812.5H342M241 856.5H265M241 880H363M299.5 859.5H347.5M241 903.5H265M241 927H292V950.5H379M241 950.5H277V934H316V927H379M241 974H473M316 974V1068M241 997H652M738 950H652V1043.5H738M48 1000H96M42 1021H465.5M64 1022.5H100M42 1043.5H480.5"/>
<path class="n" d="M1240 637H1145V911H480.5V1075H410M573 551H661M573 574.5H661M613 574.5V598H573M573 621H661M573 644.5H644.5M573 668H683V574.5H801M711 567.5V581.5M683 613H801M711 606V620M683 652.5H825M582.5 733.5H642.5M582.5 757H642.5M683 725H743M661 746H848V692H1200V590.5H1240M562.5 786V800M661 793H942.5M801 793V840H789M781 840.5H761V872H722M550 829H589V852H550ZM589 840.5H661M535 840.5H550M550 852H589V875.5H550ZM589 864H661M535 864H550M550 875.5H589V899H550ZM589 887.5H661M535 887.5H550M535 840.5V887.5M504 887.5H535M379 911H433V965.5H379ZM433 934H465.5M661 997H738M754 495.5H808V550H754ZM661 510.5H754M661 534H754M808 519H832.5V864H942.5M832.5 582H895M840.5 613H895M895 566H949.5V629H895Z"/>
<path class="n" d="M949.5 590.5H981V605.5H1012M1012 582H1067V629H1012ZM1073 605.5H1106V645H895V840.5H942.5M942.5 707H1051V902.5H942.5ZM973 707V902.5M1020 707V902.5M942.5 735H973M942.5 758H973M942.5 782.5H973M1051 746.5H1079.5M1051 770H1079.5M1051 793.5H1079.5M854.5 746.5H942.5M847.5 770H942.5M902 770V887H942.5M1051 817H1098V942H949V973H973M1161 731H1240M1208 731V684H1240M1239 574H1333V817H1239ZM1271 574V817M1302 574V817M1239 766H1271M1239 790H1271M1213 660.5H1239M1213 754.5H1239M1333 754.5H1361.5M1177 801.5H1236M42 1068H292V1099H355M316 1068H355M355 1052H410V1115H355ZM42 1099.5H136M136 1075H191V1122H136ZM197 1099.5H222V1130H120V1185H151M151 1138H206V1350H151ZM42 1162H151M42 1209H151M42 1232H151M42 1256H151M42 1279H151M42 1303H151"/>
<path class="n" d="M55.5 1282.5H91.5M42 1326H151M120 1303V1381H285M209 1232H238V1162H277M55.5 1336H91.5M57 1357H355V1209H488M277 1146H332V1209H277ZM332 1169H540M277 1193H245V1412M151 1389H206V1450.5H151ZM47.5 1376H83.5M42 1404H151M54 1406.5H78M42 1436H151M206 1412H285M285 1365H339V1428H285ZM339 1389H363V1279H394M887 1138H363V1256H394M661 1091H738M457.5 1122H504.5V1216.5H543M504.5 1193H543M543 1154.5H628V1255H543ZM573.5 1154.5V1255M543 1181H573.5M543 1228H573.5M553 1157H565M553 1227.5H565M615 1227.5H627M422.5 1162V1176M407.5 1202V1216M488 1169V1279H520M394 1240H449V1295H394ZM449 1263H480.5V1240H540M520 1267H558V1291H520ZM558 1279H871V1412H840M628 1169.5H887M631 1240H887M520 1299H558V1322H520ZM520 1310.5H473V1342M558 1310.5H613"/>
<path class="n" d="M371 1342H501.5M371 1365H504.5M371 1389H501.5M504.5 1326H597.5V1450.5H504.5ZM535 1326V1450.5M566 1326V1450.5M504.5 1377H535M504.5 1401H535M508.5 1377.5H532.5M576 1401H588M597.5 1365.5H624M597.5 1412.5H628V1310.5H887M628 1342H743M504.5 1412.5H449.5V1432M449.5 1440V1476H496M504.5 1436H465.5V1476M496 1464H536V1488H496ZM536 1476H652M652 1464H691V1488H652ZM691 1476H714V1436H746M714 1459H675V1440M746 1412.5H675V1432M636 1476V1365.5H746M636 1389H743M746 1326H839V1450.5H746ZM776.5 1326V1450.5M807.5 1326V1450.5M746 1377H776.5M746 1401H776.5M750 1377.5H774M817.5 1401H829.5M738 927H840V1115H738ZM769.5 927V1115M738 1021H840M840 974H887M840 1068H887M844 1116.5H868M809.5 1148H869.5M822.5 1289.5H858.5M840 1365.5H867.5"/>
<path class="n" d="M973 950H1028V1185H973ZM1028 974H1121M973 997H1028M896 1021H973M1028 1021H1121M973 1044H1028M896 1068H973M1028 1068H1121M973 1091H1028M896 1115H973M1028 1115H1121M973 1138H1028M896 1162H973M1028 1162H1121M896 1192.5H1121M896 1224H1121M912 1203.5H972M896 1255H1121M912 1234.5H972M896 1286.5H1121M896 1317.5H1121M896 1349H1121M896 1380.5H1121M1050 1412H1121M1122 962.5H1169V985.5H1122ZM1169 962.5H1200V985.5H1169ZM1122 1009.5H1169V1032.5H1122ZM1169 1009.5H1200V1032.5H1169ZM1122 1056.5H1169V1079.5H1122ZM1169 1056.5H1200V1079.5H1169ZM1122 1103.5H1169V1126.5H1122ZM1169 1103.5H1200V1126.5H1169ZM1122 1150.5H1169V1173.5H1122ZM1169 1150.5H1200V1173.5H1169ZM1122 1181H1169V1204H1122ZM1169 1181H1200V1204H1169ZM1122 1212.5H1169V1235.5H1122ZM1169 1212.5H1200V1235.5H1169ZM1122 1243.5H1169V1266.5H1122ZM1169 1243.5H1200V1266.5H1169Z"/>
<path class="n" d="M1122 1275H1169V1298H1122ZM1169 1275H1200V1298H1169ZM1122 1306H1169V1329H1122ZM1169 1306H1200V1329H1169ZM1122 1337.5H1169V1360.5H1122ZM1169 1337.5H1200V1360.5H1169ZM1122 1369H1169V1392H1122ZM1169 1369H1200V1392H1169ZM1122 1400.5H1169V1423.5H1122ZM1169 1400.5H1200V1423.5H1169ZM1122 1432H1169V1455H1122ZM1169 1432H1200V1455H1169ZM1122 1463H1169V1486H1122ZM1169 1463H1200V1486H1169ZM1286 970H1333V993H1286ZM1333 970H1365V993H1333ZM1255 981.5H1286M1286 1001.5H1333V1024.5H1286ZM1333 1001.5H1365V1024.5H1333ZM1255 1013H1286M1286 1032.5H1333V1055.5H1286ZM1333 1032.5H1365V1055.5H1333ZM1255 1044H1286M1286 1064H1333V1087H1286ZM1333 1064H1365V1087H1333ZM1255 1075.5H1286M1286 1095H1333V1118H1286ZM1333 1095H1365V1118H1333ZM1255 1106.5H1286M1286 1126.5H1333V1149.5H1286ZM1333 1126.5H1365V1149.5H1333ZM1255 1138H1286M1286 1158H1333V1181H1286ZM1333 1158H1365V1181H1333ZM1255 1169.5H1286M1286 1189H1333V1212H1286ZM1333 1189H1365V1212H1333ZM1255 1200.5H1286M1286 1220.5H1333V1243.5H1286ZM1333 1220.5H1365V1243.5H1333Z"/>
<path class="n" d="M1255 1232H1286M1286 1251.5H1333V1274.5H1286ZM1333 1251.5H1365V1274.5H1333ZM1255 1263H1286M1286 1283H1333V1306H1286ZM1333 1283H1365V1306H1333ZM1255 1294.5H1286M1286 1314.5H1333V1337.5H1286ZM1333 1314.5H1365V1337.5H1333ZM1255 1326H1286M1286 1345.5H1333V1368.5H1286ZM1333 1345.5H1365V1368.5H1333ZM1255 1357H1286M1286 1377H1333V1400H1286ZM1333 1377H1365V1400H1333ZM1255 1388.5H1286M1286 1408H1333V1431H1286ZM1333 1408H1365V1431H1333ZM1255 1419.5H1286M1208 981.5H1255M1255 981.5V1326M1216 1357H1255M1255 1357V1419.5M1090 1412V1474.5H1122M1090 1443.5H1122M159 1523H253V1766H159ZM191 1523V1766M222 1523V1766M222 1609H253M222 1703H253M42 1586H159M42 1609.5H159M42 1633H159M42 1656.5H159M42 1680H159M42 1703H159M42 1726.5H159M42 1750H159M128 1539V1562.5H159M73 1539H159"/>
<path class="n" d="M253 1562.5H347.5M253 1586H402V1656H581V1609.5M465.5 1656V1695H413.5M253 1656.5H347V1625H477M386 1625V1695H405M253 1680H363M285 1680V1593H480M253 1727H363M253 1750H363M159 1812H253V2055H159ZM191 1812V2055M222 1812V2055M222 1898H253M222 1992H253M65 1875H159M65 1898.5H159M65 1922H159M65 1945.5H159M65 1969H159M65 1992H159M65 2015.5H159M65 2039H159M128 1828V1851.5H159M89 1828H159M253 1851.5H345M253 1875H300V1929.5H573M253 1945.5H449M253 1969H379M253 2016H363M253 2039.5H363M347 1805H437.5M410 1805V1867.5H480M324 1899H390M483 1625H492.5M520 1546V1594.5M449 1546H520M544 1609.5H887.5M864 1680.5H473V1742H520M523 1773.5H532.5M560 1703V1743"/>
<path class="n" d="M558 1703H629M517 1773.5H457.5V1793M581 1758H620V1852H683M437.5 1793H477.5V1817H437.5ZM477.5 1805H620M483 1898.5H492.5M520 1828V1868M520 1828H582M390 1887.5H430.5V1910.5H390ZM430.5 1899H477M449 1899V1961H484.5M410 1910V2060M544 1883H680M573 1883V1961H492M686 1883H695M707.5 1821V1844M730 1828V1858M691 1901V1937.5H612.5M714 1887V1937.5M738 1873V1899H777V1977M746 1868H879.5M781 1805H805V1844H781ZM793 1774V1805M793 1844V1868M644 1977H692M753 1977H879.5M692 1977a7.6 7.6 0 0 1 15.25 0a7.6 7.6 0 0 1 15.25 0a7.6 7.6 0 0 1 15.25 0a7.6 7.6 0 0 1 15.25 0M577.5 2000.5H652.5M570 2000.5H504.5V2040.5M1028 1523H1122V1719H1028ZM1059 1523V1719M1090 1523V1719M1028 1609.5H1059M902 1539H1028M922.5 1518.5H946.5M902 1562.5H1028M902 1586H1028M1032 1620.5H1056M902 1633H1025M1032 1644H1056"/>
<path class="n" d="M902 1680H1028M919.5 1690.5H967.5M902 1711H973M973 1711V1656.5H1025M973 1711V1734H1106V1766H1075M1094 1527.5H1118M1125 1539H1149M1094 1551H1118M1125 1562.5H1149M1094 1574.5H1118M1125 1586H1149M1094 1598H1118M1125 1609.5H1149M1094 1621.5H1118M1094 1645H1118M1094 1668.5H1118M1094 1691.5H1118M1159 1612.5H1207M1167 1636H1203M1167 1659.5H1203M1159 1682.5H1207M1020 1742H1075V1797H1020ZM917.5 1737H965.5M902 1758H1020M917.5 1760H965.5M902 1781H1020M1161 1758H1216V1812.5H1161ZM1161 1774H1130V1742H1239.5V1656.5H1125M1161 1797H1122V1727H1231V1570.5H1330M1125 1633H1231M1125 1680H1247.5V1594H1333M1125 1703H1225M1216 1781H1247.5V1805H1537M1036 1852H1153M1153 1840H1200V1863H1153ZM1200 1840H1231V1863H1200ZM1153 1863H1200V1887H1153ZM1200 1863H1231V1887H1200ZM1075 1864H1114V1887H1075ZM902 1875.5H1075"/>
<path class="n" d="M1114 1875.5H1153M902 1875.5V1891H949M949 1879H989V1903H949ZM989 1891H1012.5V1914.5H957V1954H1024M1016 1946V1962M1024 1954H1043V1922M1036 1922H1153M1057.5 1901H1093.5M1153 1911H1200V1934H1153ZM1200 1911H1231V1934H1200ZM1137.5 1962H1059V2030M1333 1554.5H1443V1797H1333ZM1365 1554.5V1797M1412 1554.5V1797M1333 1582.5H1365M1333 1605H1365M1337 1558H1361M1255.5 1617H1333M1255.5 1640.5H1333M1255.5 1664H1333M1255.5 1687.5H1333M1255.5 1711H1333M1255.5 1734.5H1333M1255.5 1758H1333M1255.5 1781.5H1333M1443 1594H1622.5M1443 1617H1622.5M1443 1640.5H1622.5M1443 1664H1622.5M1443 1687.5H1622.5M1443 1711H1622.5M1443 1734.5H1622.5M1443 1758H1622.5M1480.5 1776.5H1516.5M1575 1776.5H1611M1537 1797.5H1802M1349 1840H1396V1863H1349ZM1396 1840H1427V1863H1396ZM1560 1840H1607V1863H1560ZM1607 1840H1638V1863H1607Z"/>
<path class="n" d="M1442.5 1851.5H1560M1349 1863H1396V1887H1349ZM1396 1863H1427V1887H1396ZM1560 1863H1607V1887H1560ZM1607 1863H1638V1887H1607ZM1442.5 1875H1560M1349 1887H1396V1910H1349ZM1396 1887H1427V1910H1396ZM1560 1887H1607V1910H1560ZM1607 1887H1638V1910H1607ZM1442.5 1898.5H1560M1349 1910H1396V1934H1349ZM1396 1910H1427V1934H1396ZM1560 1910H1607V1934H1560ZM1607 1910H1638V1934H1607ZM1442.5 1922H1560M1262.5 1898.5H1349M1318 1898.5V1851.5H1349M1318 1875H1349M1231 1922H1349M1623 1531H1733V1773.5H1623ZM1655 1531V1773.5M1702 1531V1773.5M1623 1559H1655M1623 1581.5H1655M1627 1534.5H1651M1544 1526H1592M1537 1547H1620M1544 1549.5H1580M1537 1570.5H1623M1733 1570.5H1857M1733 1594H1857M1733 1617H1857M1733 1640.5H1857M1733 1664H1857M1733 1687.5H1857M1733 1711H1857M1733 1734.5H1857M1857 1554.5H1967V1797H1857ZM1888 1554.5V1797"/>
<path class="n" d="M1935 1554.5V1797M1857 1746H1888M1857 1769.5H1888M1861 1745.5H1885M1912 1562.5V1578.5M1802 1781.5H1857M1854 1758H1811V1766H1755M1967 1594H2061M1967 1617H2061M1967 1640.5H2061M1967 1664H2061M1967 1687.5H2061M1967 1711H2061M1967 1734.5H2061M1967 1758H2061M1763 1840H1810V1863H1763ZM1810 1840H1841V1863H1810ZM1647 1851.5H1763M1763 1863H1810V1887H1763ZM1810 1863H1841V1887H1810ZM1647 1875H1763M1763 1887H1810V1910H1763ZM1810 1887H1841V1910H1810ZM1647 1898.5H1763M1763 1910H1810V1934H1763ZM1810 1910H1841V1934H1810ZM1647 1922H1763M1967 1809H2014V1832H1967ZM2014 1809H2045V1832H2014ZM1849 1820.5H1967M1967 1832H2014V1856H1967ZM2014 1832H2045V1856H2014ZM1849 1844H1967M1967 1856H2014V1879H1967ZM2014 1856H2045V1879H2014ZM1849 1867.5H1967M1863 1846.5H1899M1967 1903H2014V1926H1967ZM2014 1903H2045V1926H2014ZM1880.5 1914.5H1967"/>
<path class="n" d="M2178 1542.5H2225V1566H2178ZM2225 1542.5H2257.5V1566H2225ZM2061 1554.5H2178M2075 1534H2123M2178 1566H2225V1589.5H2178ZM2225 1566H2257.5V1589.5H2225ZM2061 1578H2178M2178 1589.5H2225V1613H2178ZM2225 1589.5H2257.5V1613H2225ZM2061 1601H2178M2178 1613H2225V1636.5H2178ZM2225 1613H2257.5V1636.5H2225ZM2061 1624.5H2178M2178 1636.5H2225V1660H2178ZM2225 1636.5H2257.5V1660H2225ZM2061 1648H2178M2178 1660H2225V1683.5H2178ZM2225 1660H2257.5V1683.5H2225ZM2061 1671.5H2178M2178 1683.5H2225V1707H2178ZM2225 1683.5H2257.5V1707H2225ZM2061 1695H2178M2178 1707H2225V1730H2178ZM2225 1707H2257.5V1730H2225ZM2061 1718.5H2178M2178 1730H2225V1753.5H2178ZM2225 1730H2257.5V1753.5H2225ZM2061 1742H2178M2178 1753.5H2225V1777H2178ZM2225 1753.5H2257.5V1777H2225ZM2092.5 1765.5H2178M2178 1777H2225V1800.5H2178ZM2225 1777H2257.5V1800.5H2225ZM2061 1789H2178M2075 1768.5H2123M2178 1800.5H2225V1824H2178ZM2225 1800.5H2257.5V1824H2225ZM2061 1812.5H2178M2075 1792H2111M2178 1824H2225V1847.5H2178Z"/>
<path class="n" d="M2225 1824H2257.5V1847.5H2225ZM2061 1836H2178M2178 1847.5H2225V1871H2178ZM2225 1847.5H2257.5V1871H2225ZM2061 1859.5H2178M2071 1839H2143M2084 1859.5V1907H2108M2108 1896H2147.5V1918H2108ZM2147.5 1907H2202.5M128 2056H253V2345H128ZM175 2056V2345M206 2056V2345M206 2130H253M206 2271H253M42 2165H128M42 2188.5H128M42 2212H128M42 2235.5H128M42 2259H128M42 2282.5H128M42 2306H128M42 2329.5H128M50 2071.5H128M97.5 2071.5V2141.5H128M97.5 2095H128M97.5 2118H128M253 2071.5H285M285 1969V2329.5M253 2095H410V2060M253 2118H355M292 2118V2188.5H253M253 2141.5H394V1929.5M253 2165H281M253 2235.5H281M253 2212H285M253 2259H285M253 2282.5H339M253 2306H339M253 2329.5H339M299.5 2181H339"/>
<path class="n" d="M339 2169H379V2193H339ZM379 2181H394V2219M377.5 2219H410M299.5 2244H372.5M416 2244H430M128 2361H316M328 2361H402.5M230 2361V2384.5H363V2565H332M128 2361V2565H206M128 2407.5H159M159 2384.5H214V2432H159ZM220 2407.5H394V2565H426M253 2407.5V2439H167V2494H206M394 2486H430M57 2426.5H105M42 2447H402V2541H430M42 2471H206M449 2040.5H613V2079H597.5M535 2032.5H550.5V2048H535ZM581 2032.5H597V2048H581ZM558 2067H597.5V2091H558ZM473 2067H512.5V2091H473ZM512.5 2079H558M473 2079H449V2282.5H402.5V2306H426M535 2079V2127.5M449 2150H512.5M512.5 2134V2165M535 2172V2236M480 2150V2181H520V2204H504.5M465.5 2192.5H504.5V2215.5H465.5ZM441 2204H465.5M430 2244H449M512.5 2243V2274M512.5 2259H473V2306H465.5M535 2281V2345M426 2294H465.5V2318H426ZM449 2345H558V2236H855.5M535 2204H785V2236M546 2192H560M553 2185V2199"/>
<path class="n" d="M655 2192H669M662 2185V2199M644 2204V2236M602 2229V2243M672 2229V2243M742.5 2229V2243M812.5 2229V2243M558 2291H855.5V2142H793M577 2279H591M584 2272V2286M714 2236V2291M726 2279H740M733 2272V2286M573 2142H754M640.5 2135V2149M754 2131H793V2153H754ZM725 2071.5H734M696 2040.5H722M696 2071.5H719M785 2056H811M761 2001.5V2040M761 2001.5H832.5M206 2455.5H332V2815H206ZM253 2455.5V2815M285 2455.5V2815M206 2518H253M206 2580H253M218 2482.5H242M225 2551.5H237M206 2541.5H167V2784H151M136 2776H151V2792H136ZM136 2784H112.5V2776M104.5 2761H120V2776H104.5ZM42 2768H104.5M42 2815H104.5M104.5 2807.5H120V2823H104.5ZM332 2471.5H359M332 2495H359M332 2518H359M332 2541.5H359"/>
<path class="n" d="M332 2588.5H426M332 2612H426M332 2635.5H426M332 2659H426M332 2682.5H426M332 2706H426M332 2729.5H426M332 2753H426M290 2765H326M332 2776.5H359M332 2799.5H359M426 2525.5H536V2768H426ZM458 2525.5V2768M505 2525.5V2768M426 2553.5H458M426 2576H458M430 2529H454M536 2565H605M536 2588.5H605M536 2612H605M536 2635.5H605M536 2659H605M536 2682.5H605M536 2706H605M536 2729.5H605M402 2541.5H423M699 2353H793V2596H699ZM730 2353V2596M761 2353V2596M699 2380.5H730M699 2569H730M703 2356.5H727M703 2567.5H727M636 2369H696M605 2392.5H699M605 2416H699M605 2439.5H699M605 2463H699M640.5 2442.5H664.5M394 2486.5H699"/>
<path class="n" d="M699 2510H667V2604.5H887.5M671 2533H699M671 2556.5H699M612 2559H660M605 2580H696M730 2620H824V2909H730ZM761 2620V2909M793 2620V2909M730 2811H761M730 2882H761M627.5 2635H730M627.5 2658.5H730M627.5 2682H730M627.5 2705.5H730M627.5 2729H730M627.5 2752.5H730M627.5 2776H730M627.5 2799.5H730M627.5 2823H730M627.5 2846.5H730M627.5 2870H730M627.5 2893.5H730M793 2392.5H887.5M793 2416H887.5M793 2439.5H887.5M793 2463H887.5M830.5 2442.5H878.5M793 2486.5H887.5M793 2510H887.5M793 2533H887.5M793 2556.5H887.5M1090 1993H1192V2048H1090ZM1122 1993V2048M1176 1997.5H1188M918 1997H949V2021H918ZM949 1997H996V2021H949ZM996 2009H1090M1059 2032.5H1090M1090 2071.5H1192V2126.5H1090ZM1122 2071.5V2126.5"/>
<path class="n" d="M1176 2076H1188M918 2075.5H949V2099H918ZM949 2075.5H996V2099H949ZM996 2087.5H1090M1059 2111H1090M1090 2149.5H1192V2204.5H1090ZM1122 2149.5V2204.5M1176 2154H1188M918 2154H949V2177.5H918ZM949 2154H996V2177.5H949ZM996 2165.5H1090M1059 2189H1090M1090 2228H1192V2283H1090ZM1122 2228V2283M1176 2232.5H1188M918 2232H949V2256H918ZM949 2232H996V2256H949ZM996 2244H1090M1059 1962V2267.5H1090M918 2294H949V2317H918ZM949 2294H996V2317H949ZM918 2317H949V2341H918ZM949 2317H996V2341H949ZM918 2357H949V2381H918ZM949 2357H996V2381H949ZM918 2451H949V2474H918ZM949 2451H996V2474H949ZM996 2306H1271.5V2369H1226M996 2330H1255.5V2392.5H1226M996 2369H1028V2439H1098M996 2462.5H1271.5V2502H1226M1098 2353H1223V2454H1098ZM1130 2353V2454M1192 2353V2454M1098 2404H1130M1098 2427.5H1130M1192 2404H1223M1196 2357.5H1220M1196 2381H1220M1098 2369H1067V2322H1279V2259.5H1404.5"/>
<path class="n" d="M1098 2392.5H1059V2314H1255.5V2119H1404.5M1034 2416H1098M1067 2416V2549H1098M1059 2439V2573H1098M1098 2486H1223V2587H1098ZM1130 2486V2587M1192 2486V2587M1098 2537H1130M1098 2560.5H1130M1192 2537H1223M1196 2490.5H1220M1196 2514H1220M1071 2526H1098M1098 2502H1075V2470.5H1263.5V2095.5H1404.5M1404.5 2009.5H1545V2485.5H1404.5ZM1451 2009.5V2485.5M1498 2009.5V2485.5M1404.5 2200.5H1451M1404.5 2412H1451M1404.5 2459H1451M1498 2200.5H1545M1498 2271H1545M1498 2459H1545M1296 2122H1356M1286 2142.5H1404.5M1314 2145.5H1338M1286 2166H1404.5M1286 2189H1404.5M1286 2212.5H1404.5M1409 2271.5H1445M1286 2283H1404.5M1302.5 2286H1362.5M1286 2306.5H1404.5M1286 2330H1404.5M1286 2353.5H1404.5M1415 2365.5H1439M1307.5 2356.5H1343.5M1286 2377H1404.5M1415 2389H1439M1307.5 2380H1343.5"/>
<path class="n" d="M1302 2400.5H1404.5M1318 2424H1404.5M1311 2416H1325.5V2432H1311ZM1318 2447.5H1404.5M1311 2439.5H1325.5V2455.5H1311ZM1302 2470.5H1404.5M1404.5 2025H1271.5V2009H1195M1404.5 2048.5H1239.5V2165.5H1195M1404.5 2072H1247.5V2244H1195M1404.5 2236H1271.5V2087.5H1195M1509 2201H1533M1502 2250.5H1541M1575 2239H1623M1223 2416.5H1255.5V2620H1180M1223 2549H1255.5M1223 2439.5H1278.5V2643M1223 2573H1278.5M1226 2526H1251.5M1545 2025H1632M1545 2048.5H1632M1545 2072H1632M1545 2095.5H1632M1545 2119H1632M1545 2142.5H1632M1545 2166H1632M1545 2189H1632M1545 2212.5H1615M1545 2236H1647.5V2244H1694M1545 2259.5H1632M1545 2283H1632M1545 2306.5H1632M1545 2330H1632M1545 2353.5H1632M1545 2377H1632M1545 2400.5H1632M1545 2424H1632M1545 2447.5H1632M1545 2470.5H1615M1632 2025H1670V2095.5H1725M1632 2048.5H1639.5V2056H1686V2072H1725"/>
<path class="n" d="M1632 2072H1662.5V2048.5H1725M1632 2095.5H1654V2032H1678V2025H1725M1632 2119H1725M1632 2142.5H1725M1632 2166H1725M1632 2189H1725M1725 1962H1834V2204.5H1725ZM1757 1962V2204.5M1804 1962V2204.5M1725 1990H1757M1725 2012.5H1757M1729 1965.5H1753M1662 1978H1722M1725 2001.5H1694V2212H1802V2244H1754M1694 2220H1748V2267H1694ZM1834 2095.5H1975M1834 2119H1975M1834 2142.5H1975M1834 2166H1975M1834 2001.5H1896V2072H1975M1834 2025H1873V2032H1888V2048.5H1975M1834 2048.5H1881V2025H1975M1834 2072H1888V2064H1904V2001.5H1975M1873 2189H1975M1873 2212.5H1975M1873 2236H1975M1895 2259.5H1975M1887.5 2262.5H1935.5M1873 2283H1975M1733 2321.5H1841V2564H1733ZM1764 2321.5V2564M1811 2321.5V2564M1733 2513H1764M1733 2536.5H1764M1737 2512.5H1761M1788 2329.5V2345.5M1639.5 2504H1699.5M1632 2525H1730M1652.5 2527.5H1688.5M1632 2548.5H1733"/>
<path class="n" d="M1632 2337.5H1733M1841 2361H1928M1632 2361H1733M1841 2384.5H1928M1632 2384.5H1733M1841 2408H1928M1632 2408H1733M1841 2431.5H1928M1632 2431.5H1733M1841 2455H1928M1632 2455H1733M1841 2478.5H1928M1632 2478.5H1733M1841 2501.5H1928M1632 2501.5H1733M1841 2525H1928M1975 1985.5H2117V2298H1975ZM2022 1985.5V2298M2069.5 1985.5V2298M1975 2247.5H2022M1986 2248H2010M1986 2271.5H2010M2117 2001.5H2226M2117 2025H2226M2117 2048.5H2226M2117 2072H2226M2117 2095.5H2226M2117 2119H2226M2117 2142.5H2226M2117 2166H2226M2117 2283H2179M2037.5 2329.5H2132V2572.5H2037.5ZM2068.5 2329.5V2572.5M2099.5 2329.5V2572.5M2037.5 2357H2068.5M2037.5 2545.5H2068.5M2041.5 2333H2065.5M2041.5 2544H2065.5M1950 2324.5H1986M1928 2345.5H2034.5"/>
<path class="n" d="M2006 2345.5V2556.5H2034.5M1928 2369H2037.5M2132 2369H2211M1928 2392.5H2037.5M2132 2392.5H2211M1928 2416H2037.5M2132 2416H2211M1928 2439.5H2037.5M2132 2439.5H2211M1928 2463H2037.5M2132 2463H2211M1928 2486.5H2037.5M2132 2486.5H2211M1928 2509.5H2037.5M2132 2509.5H2211M1928 2533H2037.5M2132 2533H2211M824 2659H927M855.5 2659V2800M824 2847H927M824 2870H927M824 2893.5H927M934 2627.5H996M996 2616H1036V2639H996ZM1036 2627.5H1122.5M957 2667H1177.5M1087 2660V2674M1142 2646.5H1166M1051 2674H1106V2729H1051ZM952 2669H1012M942 2690H1051M952 2693H1012M942 2714H1051M989 2714V2737H965M1106 2698H1247.5M1177.5 2677H1225.5M926 2725H965V2749H926ZM871 2737H926M935 2755.5H995M918 2776H1043"/>
<path class="n" d="M1012 2776V2745H1286V2604H1380M1043 2753H1098V2800H1043ZM1104 2776H1333V2784H1466M1177 2800H1262V2900.5H1177ZM1207.5 2800V2900.5M1177 2826.5H1207.5M1177 2873.5H1207.5M1187 2802.5H1199M1187 2873H1199M1249 2873H1261M1120 2815H1174M1075 2838.5H1177M1083 2862H1177M1012 2855H1067V2909H1012ZM948 2849H984M949 2870H1012M953 2873H977M949 2894H1012M1067 2877.5H1137.5V2885.5H1174M1176 2643H1278.5M1380 2494H1474V2690H1380ZM1412 2494V2690M1443 2494V2690M1380 2557.5H1412M1380 2627.5H1412M1443 2592H1474M1384 2498H1408M1384 2638.5H1408M1384 2662H1408M1300 2489.5H1336M1294 2510.5H1377M1302 2533.5H1380M1294 2580.5H1380M1308 2643H1349V2651H1377M1300 2653.5H1336M1294 2674.5H1377M1349 2674.5V2807.5H1466M1447.5 2499H1471.5M1447.5 2522.5H1471.5M1447.5 2546H1471.5"/>
<path class="n" d="M1477 2557.5H1503M1447.5 2569.5H1471.5M1477 2581H1503M1447.5 2593H1471.5M1477 2604.5H1503M1447.5 2616.5H1471.5M1447.5 2640H1471.5M1477 2651.5H1503M1447.5 2663H1471.5M1477 2674.5H1503M1477 2510.5H1632M1574 2489.5H1610M1477 2534H1632M1567.5 2513H1615.5M1477 2628H1506V2698H1412V2753H1466M1506 2534V2612.5H1513V2706H1419V2729H1466M1466 2714H1521V2768H1466ZM1521 2737H1632M1553 2716H1613M1466 2768H1521V2823H1466ZM1527 2792H1632M1582.5 2771H1618.5M1262 2815H1302V2847H1412M1312 2819.5H1384M1312 2849.5H1384M1302 2870H1412M1265 2885.5H1290M1412 2831H1466V2885.5H1412ZM1466 2855H1584M1507.5 2834H1579.5M1572.5 2864.5H1596.5M1545 2886H1647M1741 2564.5H1834V2807.5H1741ZM1772 2564.5V2807.5M1803 2564.5V2807.5M1741 2592H1772M1741 2780.5H1772M1745 2568H1769M1745 2779H1769M1661 2559.5H1697"/>
<path class="n" d="M1632 2580.5H1738M1709 2580.5V2791.5H1738M1632 2604H1741M1834 2604H1928M1632 2627.5H1741M1834 2627.5H1928M1713.5 2651H1741M1834 2651H1861.5M1632 2674.5H1741M1834 2674.5H1928M1632 2698H1741M1834 2698H1928M1632 2721.5H1741M1834 2721.5H1928M1632 2744.5H1741M1834 2744.5H1928M1632 2768H1741M1834 2768H1928M1733 2831H1837M1845 2831H1873V2886M1647 2862H1701V2909H1647ZM1707 2886H1763M1763 2874H1802V2898H1763ZM1802 2886H1928"/>
<path class="k" d="M10 2H2263V2915H10ZM332 244.5V504M308 369.5H332M661 205V1108M308 369.5V582H42M661 919H896V1453M42 582V2832.5M42 1499H887.5M887.5 941V2621M887.5 1828H1802M1255.5 1538V1828M1537 1814V1499.5H2061V1931M1802 1515V1828M605 2777.5V2337.5H887.5M1632 2809V1954.5H2226V2794M1632 2298H1873V2180M1928 2337V2902"/>
<path class="c" d="M894.5 374H926.5M894.5 382H926.5M734 636.5V668.5M742 636.5V668.5M781 824.5V856.5M789 824.5V856.5M433.5 1432H465.5M433.5 1440H465.5M659 1432H691M659 1440H691M405.5 1679V1711M413.5 1679V1711M484.5 1945V1977M492.5 1945V1977M570 1984.5V2016.5M578 1984.5V2016.5M320 2345V2377M328 2345V2377M433 2177.5H465M433 2185.5H465M562 2188V2220M570 2188V2220M671 2188V2220M679 2188V2220M593 2275V2307M601 2275V2307M742 2275V2307M750 2275V2307M839.5 2709.5H871.5M839.5 2717.5H871.5M1837 2815.5V2847.5M1845 2815.5V2847.5"/>
<path class="d" d="M104.5 305L116.5 295M86 319L94 327M86 327L94 319M86 342.5L94 350.5M86 350.5L94 342.5M86 366L94 374M86 374L94 366M86 389.5L94 397.5M86 397.5L94 389.5M226 272.5L234 280.5M226 280.5L234 272.5M226 319L234 327M226 327L234 319M226 413L234 421M226 421L234 413M226 460L234 468M226 468L234 460M496.5 101.5L508.5 91.5M609 116L617 124M609 124L617 116M683 116.5L695 106.5M797 131.5L805 139.5M797 139.5L805 131.5M902 116.5L914 106.5M1016 131.5L1024 139.5M1016 139.5L1024 131.5M1020 344.5L1032 334.5M1141 500L1149 508M1141 508L1149 500M1122 132.5L1134 122.5M128 759L140 749M265 633L273 641M265 641L273 633M265 679.5L273 687.5M265 687.5L273 679.5M265 726.5L273 734.5M265 734.5L273 726.5M257 852.5L265 860.5M257 860.5L265 852.5M257 899.5L265 907.5"/>
<path class="d" d="M257 907.5L265 899.5M711 574.5L726 567.5V581.5L711 574.5M711 613L726 606V620L711 613M562.5 793L577.5 786V800L562.5 793M1071 742.5L1079 750.5M1071 750.5L1079 742.5M1071 766L1079 774M1071 774L1079 766M1071 789.5L1079 797.5M1071 797.5L1079 789.5M1213 656.5L1221 664.5M1213 664.5L1221 656.5M1213 750.5L1221 758.5M1213 758.5L1221 750.5M1353.5 750.5L1361.5 758.5M1353.5 758.5L1361.5 750.5M535 1221.5L547 1211.5M422.5 1169L437.5 1162V1176L422.5 1169M407.5 1209L422.5 1202V1216L407.5 1209M499.5 1407.5L509.5 1417.5M499.5 1417.5L509.5 1407.5M499.5 1431L509.5 1441M499.5 1441L509.5 1431M616 1361.5L624 1369.5M616 1369.5L624 1361.5M741 1407.5L751 1417.5M741 1417.5L751 1407.5M741 1431L751 1441M741 1441L751 1431M859 1361.5L867 1369.5M859 1369.5L867 1361.5M1021 969L1033 979M1021 979L1033 969M1021 1016L1033 1026M1021 1026L1033 1016M1021 1063L1033 1073M1021 1073L1033 1063M1021 1110L1033 1120M1021 1120L1033 1110M1021 1157L1033 1167"/>
<path class="d" d="M1021 1167L1033 1157M480 1571L543.5 1609.5L480 1648V1571M520 1719.5L583.5 1758L520 1796.5V1719.5M449 1784.5L457.5 1793L466 1784.5M480 1844.5L543.5 1883L480 1921.5V1844.5M401.5 1918.5L410 1910L418.5 1918.5M683 1829L746 1868L683 1906V1829M704.5 1818L710.5 1824M704.5 1824L710.5 1818M727 1825L733 1831M727 1831L733 1825M1141 1535L1149 1543M1141 1543L1149 1535M1141 1558.5L1149 1566.5M1141 1566.5L1149 1558.5M1141 1582L1149 1590M1141 1590L1149 1582M1141 1605.5L1149 1613.5M1141 1613.5L1149 1605.5M1002 1946L1016 1954L1002 1962V1946M1008 1944L1014 1938M1013 1945L1019 1939M1325 1599L1337 1589M1615 1575.5L1627 1565.5M1912 1562.5L1920 1570.5L1912 1578.5L1904 1570.5L1912 1562.5M273 2161L281 2169M273 2169L281 2161M273 2231.5L281 2239.5M273 2239.5L281 2231.5M384 2219L372.5 2241M404 2219L416 2241M372.5 2241L374 2233M372.5 2241L380 2237M512.5 2143L535 2127.5M512.5 2143L521 2141.5M512.5 2143L518 2135.5M512.5 2157L535 2172M512.5 2251L535 2236M512.5 2266L535 2281M535 2281L526 2279.5"/>
<path class="d" d="M535 2281L530 2273M602 2236L617 2229V2243L602 2236M672 2236L687 2229V2243L672 2236M742.5 2236L757.5 2229V2243L742.5 2236M812.5 2236L827.5 2229V2243L812.5 2236M640.5 2142L655.5 2135V2149L640.5 2142M722 2017L785 2056L722 2095V2017M696 2036.5L704 2044.5M696 2044.5L704 2036.5M696 2067.5L704 2075.5M696 2075.5L704 2067.5M803 2052L811 2060M803 2060L811 2052M198 2546.5L210 2536.5M351 2467.5L359 2475.5M351 2475.5L359 2467.5M351 2491L359 2499M351 2499L359 2491M351 2514L359 2522M351 2522L359 2514M351 2537.5L359 2545.5M351 2545.5L359 2537.5M351 2772.5L359 2780.5M351 2780.5L359 2772.5M351 2795.5L359 2803.5M351 2803.5L359 2795.5M418 2570L430 2560M746 2361L754 2369L746 2377V2361M671 2529L679 2537M671 2537L679 2529M671 2552.5L679 2560.5M671 2560.5L679 2552.5M1145 2001L1161 2009L1145 2017V2001M1145 2079.5L1161 2087.5L1145 2095.5V2079.5M1145 2157.5L1161 2165.5L1145 2173.5V2157.5M1145 2236L1161 2244L1145 2252V2236M1153 2361L1169 2369L1153 2377V2361M1153 2494L1169 2502L1153 2510V2494M1071 2522L1079 2530M1071 2530L1079 2522"/>
<path class="d" d="M1243.5 2522L1251.5 2530M1243.5 2530L1251.5 2522M1717 2006.5L1729 1996.5M1788 2329.5L1796 2337.5L1788 2345.5L1780 2337.5L1788 2329.5M2084.5 2337.5L2092.5 2345.5L2084.5 2353.5V2337.5M1087 2667L1072 2660V2674L1087 2667M1169 2867L1181 2857M1495 2553.5L1503 2561.5M1495 2561.5L1503 2553.5M1495 2577L1503 2585M1495 2585L1503 2577M1495 2600.5L1503 2608.5M1495 2608.5L1503 2600.5M1495 2647.5L1503 2655.5M1495 2655.5L1503 2647.5M1495 2670.5L1503 2678.5M1495 2678.5L1503 2670.5M1282 2881.5L1290 2889.5M1282 2889.5L1290 2881.5M1788 2572.5L1796 2580.5L1788 2588.5V2572.5M1713.5 2647L1721.5 2655M1713.5 2655L1721.5 2647M1853.5 2647L1861.5 2655M1853.5 2655L1861.5 2647"/>
<g><circle cx="57.5" cy="182" r="2.7"/>
<circle cx="144.5" cy="182" r="5.5" class="b"/>
<circle cx="175" cy="182" r="2.7"/>
<circle cx="175" cy="222" r="2.7"/>
<circle cx="261.5" cy="182" r="5.5" class="b"/>
<circle cx="292" cy="182" r="2.7"/>
<circle cx="292" cy="222" r="2.7"/>
<circle cx="112.5" cy="276.5" r="3" class="b"/>
<circle cx="112.5" cy="464" r="3" class="b"/>
<circle cx="81" cy="417" r="2.7"/>
<circle cx="81" cy="440.5" r="2.7"/>
<circle cx="81" cy="464" r="2.7"/>
<circle cx="402" cy="480.5" r="3" class="b"/>
<circle cx="402" cy="504" r="3" class="b"/>
<circle cx="504.5" cy="49.5" r="3" class="b"/>
<circle cx="504.5" cy="120" r="3" class="b"/>
<circle cx="589.5" cy="120" r="3" class="b"/>
<circle cx="473" cy="49.5" r="2.7"/>
<circle cx="652.5" cy="26" r="2.7"/>
<circle cx="691" cy="64.5" r="3" class="b"/>
<circle cx="691" cy="135" r="3" class="b"/>
<circle cx="777" cy="135" r="3" class="b"/>
<circle cx="652.5" cy="182" r="2.7"/>
<circle cx="824" cy="159" r="2.7"/>
<circle cx="824" cy="88" r="2.7"/>
<circle cx="848" cy="182" r="2.7"/>
<circle cx="793.5" cy="276" r="5.5" class="b"/>
<circle cx="832.5" cy="276" r="2.7"/>
<circle cx="777" cy="347" r="2.7"/>
<circle cx="777" cy="370.5" r="2.7"/>
<circle cx="777" cy="394" r="2.7"/>
<circle cx="910" cy="64.5" r="3" class="b"/>
<circle cx="910" cy="135" r="3" class="b"/>
<circle cx="996" cy="135" r="3" class="b"/>
<circle cx="871" cy="26" r="2.7"/>
<circle cx="871" cy="65.5" r="2.7"/>
<circle cx="1098" cy="81" r="2.7"/>
<circle cx="855.5" cy="198" r="2.7"/>
<circle cx="1028" cy="316" r="3" class="b"/>
<circle cx="1028" cy="504" r="3" class="b"/>
<circle cx="996" cy="457" r="2.7"/>
<circle cx="1153" cy="316" r="2.7"/>
<circle cx="1177" cy="386" r="2.7"/>
<circle cx="1130" cy="80.5" r="3" class="b"/>
<circle cx="1130" cy="151" r="3" class="b"/>
<circle cx="1216" cy="151" r="3" class="b"/>
<circle cx="1325" cy="190.5" r="2.7"/>
<circle cx="1325" cy="292" r="2.7"/>
<circle cx="1349" cy="190.5" r="2.7"/>
<circle cx="1349" cy="284.5" r="2.7"/>
<circle cx="1372" cy="190.5" r="2.7"/>
<circle cx="1372" cy="276.5" r="2.7"/>
<circle cx="1396" cy="269" r="2.7"/>
<circle cx="1279" cy="410" r="3" class="b"/>
<circle cx="1279" cy="433.5" r="3" class="b"/>
<circle cx="1372" cy="316" r="3" class="b"/>
<circle cx="1372" cy="339.5" r="3" class="b"/>
<circle cx="1372" cy="363" r="3" class="b"/>
<circle cx="1372" cy="386.5" r="3" class="b"/>
<circle cx="465.5" cy="934" r="2.7"/>
<circle cx="371" cy="551" r="2.7"/>
<circle cx="347" cy="660.5" r="2.7"/>
<circle cx="347" cy="692" r="2.7"/>
<circle cx="324" cy="621" r="2.7"/>
<circle cx="308" cy="707" r="2.7"/>
<circle cx="136" cy="777.5" r="3" class="b"/>
<circle cx="245" cy="637" r="3" class="b"/>
<circle cx="245" cy="683.5" r="3" class="b"/>
<circle cx="245" cy="730.5" r="3" class="b"/>
<circle cx="245" cy="777.5" r="3" class="b"/>
<circle cx="144" cy="927" r="3" class="b"/>
<circle cx="144" cy="950.5" r="3" class="b"/>
<circle cx="238" cy="833" r="3" class="b"/>
<circle cx="238" cy="856.5" r="3" class="b"/>
<circle cx="238" cy="880" r="3" class="b"/>
<circle cx="238" cy="903.5" r="3" class="b"/>
<circle cx="238" cy="927" r="3" class="b"/>
<circle cx="238" cy="950.5" r="3" class="b"/>
<circle cx="238" cy="974" r="3" class="b"/>
<circle cx="238" cy="997" r="3" class="b"/>
<circle cx="316" cy="974" r="2.7"/>
<circle cx="652" cy="997" r="2.7"/>
<circle cx="480.5" cy="1043.5" r="2.7"/>
<circle cx="402" cy="527.5" r="3" class="b"/>
<circle cx="402" cy="551" r="3" class="b"/>
<circle cx="402" cy="574.5" r="3" class="b"/>
<circle cx="402" cy="598" r="3" class="b"/>
<circle cx="402" cy="621" r="3" class="b"/>
<circle cx="613" cy="574.5" r="2.7"/>
<circle cx="683" cy="613" r="2.7"/>
<circle cx="683" cy="652.5" r="2.7"/>
<circle cx="801" cy="793" r="2.7"/>
<circle cx="535" cy="864" r="2.7"/>
<circle cx="535" cy="887.5" r="2.7"/>
<circle cx="613" cy="840.5" r="2.7"/>
<circle cx="832.5" cy="582" r="2.7"/>
<circle cx="840.5" cy="613" r="2.7"/>
<circle cx="1067.5" cy="605" r="5.5" class="b"/>
<circle cx="942.5" cy="723" r="3" class="b"/>
<circle cx="902" cy="770" r="2.7"/>
<circle cx="1208" cy="731" r="2.7"/>
<circle cx="1239" cy="801.5" r="3" class="b"/>
<circle cx="191.5" cy="1098" r="5.5" class="b"/>
<circle cx="120" cy="1303" r="2.7"/>
<circle cx="206" cy="1232" r="3" class="b"/>
<circle cx="245" cy="1412" r="2.7"/>
<circle cx="504.5" cy="1193" r="2.7"/>
<circle cx="543" cy="1169.5" r="3" class="b"/>
<circle cx="543" cy="1240" r="3" class="b"/>
<circle cx="628" cy="1240" r="3" class="b"/>
<circle cx="488" cy="1169" r="2.7"/>
<circle cx="488" cy="1209" r="2.7"/>
<circle cx="473" cy="1342" r="2.7"/>
<circle cx="504.5" cy="1342" r="3" class="b"/>
<circle cx="504.5" cy="1389" r="3" class="b"/>
<circle cx="628" cy="1342" r="2.7"/>
<circle cx="465.5" cy="1476" r="2.7"/>
<circle cx="636" cy="1476" r="2.7"/>
<circle cx="714" cy="1459" r="2.7"/>
<circle cx="636" cy="1389" r="2.7"/>
<circle cx="746" cy="1342" r="3" class="b"/>
<circle cx="746" cy="1389" r="3" class="b"/>
<circle cx="1090" cy="1412" r="2.7"/>
<circle cx="1255" cy="981.5" r="2.7"/>
<circle cx="1255" cy="1013" r="2.7"/>
<circle cx="1255" cy="1044" r="2.7"/>
<circle cx="1255" cy="1075.5" r="2.7"/>
<circle cx="1255" cy="1106.5" r="2.7"/>
<circle cx="1255" cy="1138" r="2.7"/>
<circle cx="1255" cy="1169.5" r="2.7"/>
<circle cx="1255" cy="1200.5" r="2.7"/>
<circle cx="1255" cy="1232" r="2.7"/>
<circle cx="1255" cy="1263" r="2.7"/>
<circle cx="1255" cy="1294.5" r="2.7"/>
<circle cx="1255" cy="1357" r="2.7"/>
<circle cx="1255" cy="1388.5" r="2.7"/>
<circle cx="1090" cy="1443.5" r="2.7"/>
<circle cx="128" cy="1539" r="2.7"/>
<circle cx="581" cy="1609.5" r="2.7"/>
<circle cx="465.5" cy="1656" r="2.7"/>
<circle cx="386" cy="1625" r="2.7"/>
<circle cx="285" cy="1680" r="2.7"/>
<circle cx="128" cy="1828" r="2.7"/>
<circle cx="394" cy="1929.5" r="2.7"/>
<circle cx="449" cy="1945.5" r="2.7"/>
<circle cx="410" cy="1945.5" r="2.7"/>
<circle cx="285" cy="1969" r="2.7"/>
<circle cx="410" cy="1805" r="2.7"/>
<circle cx="480" cy="1625" r="3" class="b"/>
<circle cx="520" cy="1773.5" r="3" class="b"/>
<circle cx="620" cy="1805" r="2.7"/>
<circle cx="480" cy="1898.5" r="3" class="b"/>
<circle cx="449" cy="1899" r="2.7"/>
<circle cx="573" cy="1883" r="2.7"/>
<circle cx="573" cy="1929.5" r="2.7"/>
<circle cx="683" cy="1883" r="3" class="b"/>
<circle cx="793" cy="1868" r="2.7"/>
<circle cx="777" cy="1977" r="2.7"/>
<circle cx="1028" cy="1633" r="3" class="b"/>
<circle cx="1028" cy="1656.5" r="3" class="b"/>
<circle cx="973" cy="1711" r="2.7"/>
<circle cx="1122" cy="1539" r="3" class="b"/>
<circle cx="1122" cy="1562.5" r="3" class="b"/>
<circle cx="1122" cy="1586" r="3" class="b"/>
<circle cx="1122" cy="1609.5" r="3" class="b"/>
<circle cx="1122" cy="1633" r="3" class="b"/>
<circle cx="1122" cy="1656.5" r="3" class="b"/>
<circle cx="1122" cy="1680" r="3" class="b"/>
<circle cx="1122" cy="1703" r="3" class="b"/>
<circle cx="1231" cy="1633" r="2.7"/>
<circle cx="1009" cy="1954" r="15" class="b" style="fill:none"/>
<circle cx="1043" cy="1922" r="2.7"/>
<circle cx="1333" cy="1570.5" r="3" class="b"/>
<circle cx="1318" cy="1898.5" r="2.7"/>
<circle cx="1318" cy="1875" r="2.7"/>
<circle cx="1623" cy="1547" r="3" class="b"/>
<circle cx="1857" cy="1758" r="3" class="b"/>
<circle cx="2084" cy="1859.5" r="2.7"/>
<circle cx="97.5" cy="2071.5" r="2.7"/>
<circle cx="97.5" cy="2095" r="2.7"/>
<circle cx="97.5" cy="2118" r="2.7"/>
<circle cx="285" cy="2095" r="2.7"/>
<circle cx="285" cy="2329.5" r="2.7"/>
<circle cx="292" cy="2118" r="2.7"/>
<circle cx="394" cy="2236" r="22.5" class="b" style="fill:none"/>
<circle cx="230" cy="2361" r="2.7"/>
<circle cx="128" cy="2407.5" r="2.7"/>
<circle cx="214.5" cy="2408" r="5.5" class="b"/>
<circle cx="253" cy="2407.5" r="2.7"/>
<circle cx="394" cy="2486" r="2.7"/>
<circle cx="504.5" cy="2040.5" r="2.7"/>
<circle cx="535" cy="2079" r="2.7"/>
<circle cx="449" cy="2150" r="2.7"/>
<circle cx="449" cy="2204" r="2.7"/>
<circle cx="449" cy="2244" r="2.7"/>
<circle cx="527.5" cy="2150" r="23" class="b" style="fill:none"/>
<circle cx="480" cy="2150" r="2.7"/>
<circle cx="535" cy="2204" r="2.7"/>
<circle cx="527.5" cy="2259" r="23" class="b" style="fill:none"/>
<circle cx="535" cy="2345" r="2.7"/>
<circle cx="558" cy="2291" r="2.7"/>
<circle cx="644" cy="2204" r="2.7"/>
<circle cx="644" cy="2236" r="2.7"/>
<circle cx="714" cy="2236" r="2.7"/>
<circle cx="785" cy="2236" r="2.7"/>
<circle cx="855.5" cy="2236" r="2.7"/>
<circle cx="714" cy="2291" r="2.7"/>
<circle cx="722" cy="2071.5" r="3" class="b"/>
<circle cx="426" cy="2541.5" r="3" class="b"/>
<circle cx="699" cy="2369" r="3" class="b"/>
<circle cx="699" cy="2580" r="3" class="b"/>
<circle cx="1192" cy="2009" r="3" class="b"/>
<circle cx="1059" cy="2032.5" r="2.7"/>
<circle cx="1192" cy="2087.5" r="3" class="b"/>
<circle cx="1059" cy="2111" r="2.7"/>
<circle cx="1192" cy="2165.5" r="3" class="b"/>
<circle cx="1059" cy="2189" r="2.7"/>
<circle cx="1192" cy="2244" r="3" class="b"/>
<circle cx="1059" cy="2439" r="2.7"/>
<circle cx="1223" cy="2369" r="3" class="b"/>
<circle cx="1223" cy="2392.5" r="3" class="b"/>
<circle cx="1067" cy="2416" r="2.7"/>
<circle cx="1223" cy="2502" r="3" class="b"/>
<circle cx="1223" cy="2525.5" r="3" class="b"/>
<circle cx="1255.5" cy="2549" r="2.7"/>
<circle cx="1278.5" cy="2573" r="2.7"/>
<circle cx="1725" cy="1978" r="3" class="b"/>
<circle cx="1748.5" cy="2243" r="5.5" class="b"/>
<circle cx="1733" cy="2525" r="3" class="b"/>
<circle cx="2037.5" cy="2345.5" r="3" class="b"/>
<circle cx="2037.5" cy="2556.5" r="3" class="b"/>
<circle cx="2006" cy="2345.5" r="2.7"/>
<circle cx="855.5" cy="2659" r="2.7"/>
<circle cx="989" cy="2714" r="2.7"/>
<circle cx="1012" cy="2776" r="2.7"/>
<circle cx="1098.5" cy="2776" r="5.5" class="b"/>
<circle cx="1177" cy="2815" r="3" class="b"/>
<circle cx="1177" cy="2885.5" r="3" class="b"/>
<circle cx="1262" cy="2885.5" r="3" class="b"/>
<circle cx="1380" cy="2510.5" r="3" class="b"/>
<circle cx="1380" cy="2651" r="3" class="b"/>
<circle cx="1380" cy="2674.5" r="3" class="b"/>
<circle cx="1349" cy="2674.5" r="2.7"/>
<circle cx="1474" cy="2510.5" r="3" class="b"/>
<circle cx="1474" cy="2534" r="3" class="b"/>
<circle cx="1474" cy="2557.5" r="3" class="b"/>
<circle cx="1474" cy="2581" r="3" class="b"/>
<circle cx="1474" cy="2604.5" r="3" class="b"/>
<circle cx="1474" cy="2628" r="3" class="b"/>
<circle cx="1474" cy="2651.5" r="3" class="b"/>
<circle cx="1474" cy="2674.5" r="3" class="b"/>
<circle cx="1506" cy="2534" r="2.7"/>
<circle cx="1521.5" cy="2792" r="5.5" class="b"/>
<circle cx="1741" cy="2580.5" r="3" class="b"/>
<circle cx="1741" cy="2791.5" r="3" class="b"/>
<circle cx="1709" cy="2580.5" r="2.7"/>
<circle cx="1701.5" cy="2885" r="5.5" class="b"/>
<circle cx="1873" cy="2886" r="2.7"/></g>
</svg></body></html>
